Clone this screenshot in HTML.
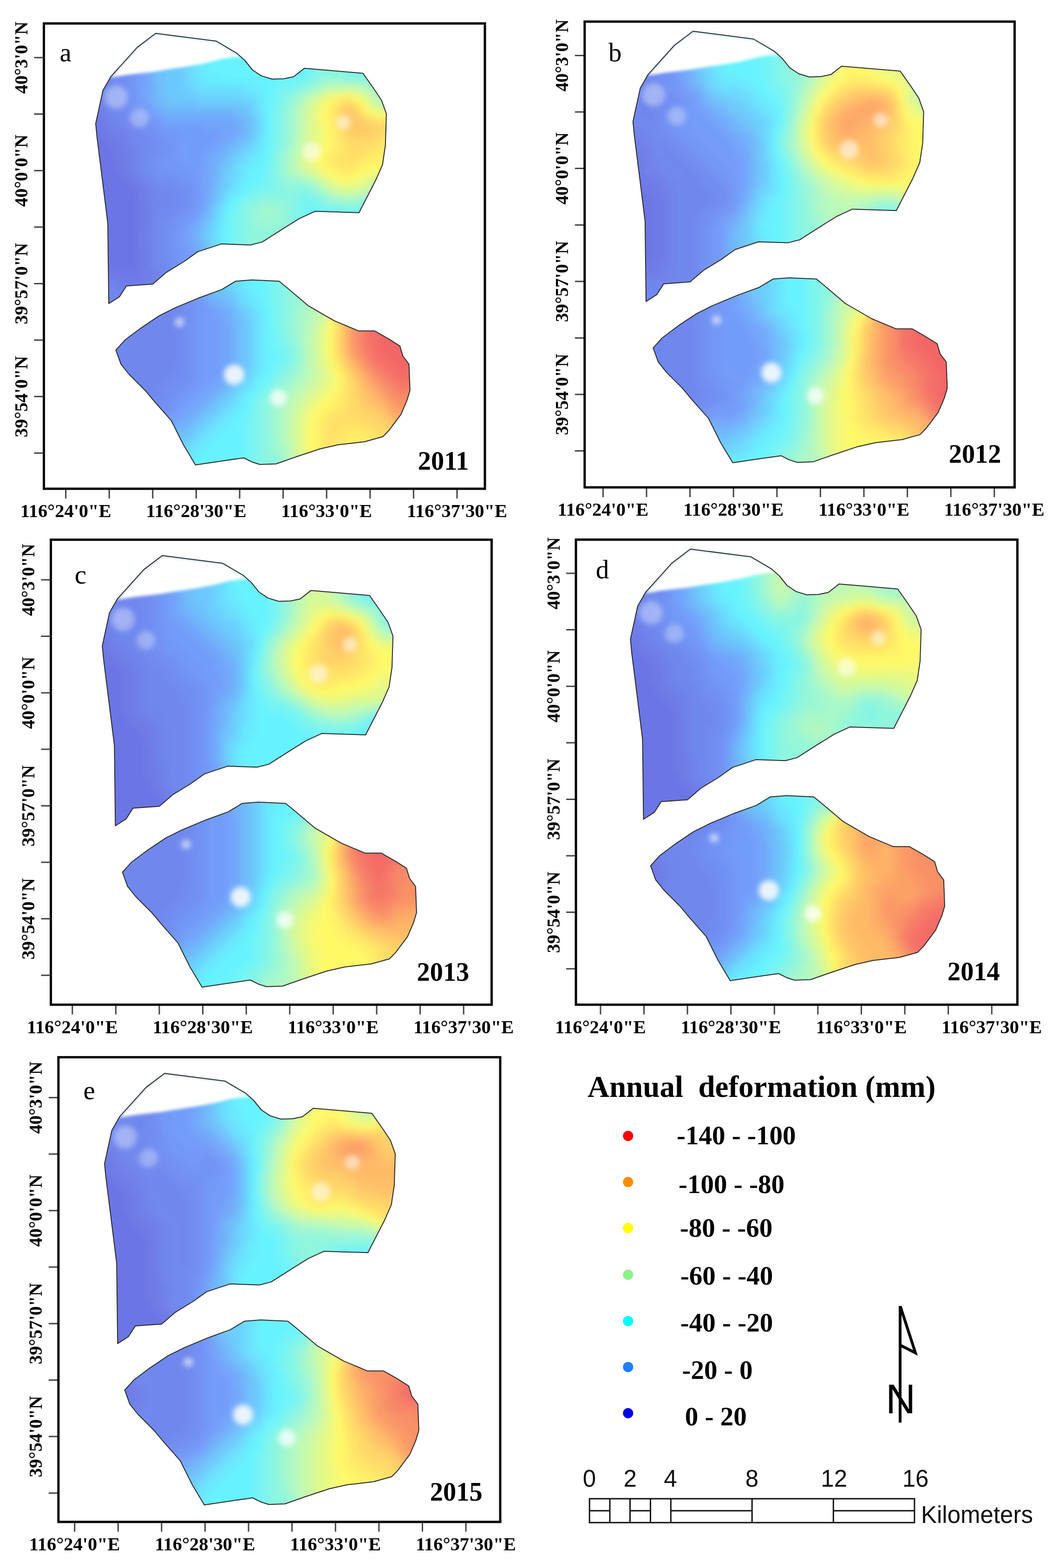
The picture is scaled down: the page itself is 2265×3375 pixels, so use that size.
<!DOCTYPE html><html><head><meta charset="utf-8"><style>html,body{margin:0;padding:0;background:#fff}svg{display:block}</style><style>
.ax{font:bold 40.4px "Liberation Serif",serif;fill:#000}
.ay{font:bold 39.3px "Liberation Serif",serif;fill:#000}
.let{font:57px "Liberation Serif",serif;fill:#000}
.yr{font:bold 56.4px "Liberation Serif",serif;fill:#000}
.lt{font:bold 65px "Liberation Serif",serif;fill:#000}
.lv{font:bold 57px "Liberation Serif",serif;fill:#000}
.sb{font:51px "Liberation Sans",sans-serif;fill:#111}
.na{font:89px "Liberation Sans",sans-serif;fill:#000}
</style></head><body><svg width="2265" height="3375" viewBox="0 0 2265 3375"><rect width="2265" height="3375" fill="#fff"/><defs><filter id="bl" x="-5%" y="-5%" width="110%" height="110%"><feGaussianBlur stdDeviation="7"/></filter><filter id="bl2" x="-50%" y="-50%" width="200%" height="200%"><feGaussianBlur stdDeviation="6"/></filter><filter id="bl3" x="-10%" y="-10%" width="120%" height="120%"><feGaussianBlur stdDeviation="3"/></filter><clipPath id="cn"><polygon points="193.6,-52.2 324.1,-35.4 368.3,-9.3 385.1,5.5 402.0,26.5 420.9,39.1 444.1,46.3 469.3,45.4 490.4,41.2 513.5,23.1 555.6,26.5 639.8,33.7 662.9,66.5 679.8,91.7 690.3,121.2 688.2,188.5 681.9,230.6 667.1,264.3 631.4,333.8 536.7,330.8 503.0,346.4 469.3,367.4 423.0,396.9 397.8,403.2 334.6,401.1 284.1,417.9 254.6,439.0 216.8,462.1 187.3,487.4 130.5,491.6 115.7,514.7 92.6,529.5 90.5,356.9 80.0,272.7 67.3,171.7 64.4,142.2 80.0,70.7 96.8,41.2 153.6,-21.9"/></clipPath><clipPath id="cs"><polygon points="365.9,481.2 400.6,478.6 459.2,481.2 478.7,497.2 522.1,534.1 578.4,566.6 630.5,588.3 665.2,588.3 695.5,605.6 719.4,620.8 725.9,642.5 738.9,659.8 741.1,716.2 734.6,737.9 721.6,768.2 695.5,802.9 682.5,816.0 643.5,826.8 587.1,833.3 548.1,842.0 496.0,859.3 452.7,874.5 418.0,875.8 400.6,870.2 383.3,861.5 331.3,868.9 279.2,876.7 253.2,833.3 227.2,781.3 192.5,742.2 170.8,716.2 136.1,681.5 118.8,659.8 107.9,629.5 127.4,607.8 162.1,581.8 201.2,555.7 235.8,538.4 287.9,516.7 335.6,499.4"/></clipPath></defs><g><g transform="translate(141.6,124.0)"><g clip-path="url(#cn)"><g filter="url(#bl)"><path fill="#6c75e4" d="M36 108h12v12h-12zM36 120h24v12h-24zM36 132h24v12h-24zM36 144h24v12h-24zM36 156h36v12h-36zM36 168h48v12h-48zM36 180h60v12h-60zM36 192h72v12h-72zM36 204h72v12h-72zM48 216h60v12h-60zM48 228h60v12h-60zM48 240h72v12h-72zM48 252h72v12h-72zM48 264h84v12h-84zM48 276h96v12h-96zM48 288h108v12h-108zM48 300h108v12h-108zM60 312h96v12h-96zM60 324h96v12h-96zM60 336h96v12h-96zM60 348h96v12h-96zM60 360h96v12h-96zM60 372h96v12h-96zM60 384h96v12h-96zM60 396h96v12h-96zM60 408h96v12h-96zM60 420h96v12h-96zM60 432h96v12h-96zM60 444h96v12h-96z"/><path fill="#6d79e6" d="M48 96h12v12h-12zM48 108h24v12h-24zM60 120h12v12h-12zM60 132h24v12h-24zM60 144h24v12h-24zM72 156h24v12h-24zM84 168h24v12h-24zM96 180h24v12h-24zM108 192h12v12h-12zM108 204h24v12h-24zM108 216h24v12h-24zM108 228h24v12h-24zM120 240h12v12h-12zM120 252h24v12h-24zM132 264h24v12h-24zM144 276h24v12h-24zM156 288h12v12h-12zM156 300h12v12h-12zM156 312h24v12h-24zM156 324h24v12h-24zM156 336h24v12h-24zM156 348h24v12h-24zM156 360h24v12h-24zM156 372h12v12h-12zM156 384h12v12h-12zM156 396h12v12h-12zM156 408h24v12h-24zM156 420h24v12h-24zM156 432h24v12h-24zM156 444h24v12h-24zM60 456h108v12h-108zM108 468h60v12h-60zM156 480h12v12h-12z"/><path fill="#6d7de8" d="M48 84h12v12h-12zM60 96h12v12h-12zM72 108h12v12h-12zM72 120h12v12h-12zM84 132h12v12h-12zM84 144h12v12h-12zM96 156h12v12h-12zM108 168h24v12h-24zM120 180h12v12h-12zM120 192h24v12h-24zM132 204h12v12h-12zM132 216h12v12h-12zM132 228h12v12h-12zM132 240h12v12h-12zM144 252h12v12h-12zM156 264h12v12h-12zM168 276h12v12h-12zM168 288h12v12h-12zM168 300h12v12h-12zM168 372h12v12h-12zM168 384h12v12h-12zM168 396h12v12h-12zM168 456h24v12h-24zM60 468h48v12h-48zM168 468h24v12h-24zM108 480h48v12h-48zM168 480h12v12h-12zM144 492h36v12h-36zM168 504h12v12h-12z"/><path fill="#6e81ea" d="M48 72h12v12h-12zM60 84h12v12h-12zM72 96h12v12h-12zM84 108h12v12h-12zM84 120h12v12h-12zM96 132h12v12h-12zM96 144h24v12h-24zM108 156h24v12h-24zM132 168h12v12h-12zM132 180h12v12h-12zM144 204h12v12h-12zM144 216h12v12h-12zM144 228h12v12h-12zM144 240h12v12h-12zM156 252h12v12h-12zM168 264h12v12h-12zM180 276h12v12h-12zM180 288h12v12h-12zM180 300h12v12h-12zM180 312h12v12h-12zM180 324h12v12h-12zM180 336h12v12h-12zM180 348h12v12h-12zM180 360h12v12h-12zM180 372h12v12h-12zM180 384h12v12h-12zM180 396h12v12h-12zM180 408h12v12h-12zM180 420h12v12h-12zM180 432h12v12h-12zM180 444h12v12h-12zM192 468h12v12h-12zM60 480h48v12h-48zM180 480h24v12h-24zM108 492h36v12h-36zM180 492h24v12h-24zM144 504h24v12h-24zM180 504h12v12h-12z"/><path fill="#6e85ec" d="M48 60h12v12h-12zM60 72h12v12h-12zM72 84h12v12h-12zM84 96h12v12h-12zM96 108h12v12h-12zM96 120h12v12h-12zM108 132h12v12h-12zM120 144h12v12h-12zM132 156h12v12h-12zM144 168h12v12h-12zM144 180h12v12h-12zM144 192h24v12h-24zM156 204h12v12h-12zM156 216h12v12h-12zM156 228h12v12h-12zM156 240h12v12h-12zM168 252h12v12h-12zM180 264h12v12h-12zM192 276h12v12h-12zM192 288h12v12h-12zM192 300h24v12h-24zM192 312h24v12h-24zM192 324h12v12h-12zM192 336h12v12h-12zM192 348h12v12h-12zM192 360h12v12h-12zM192 372h12v12h-12zM192 384h12v12h-12zM192 396h12v12h-12zM192 408h12v12h-12zM192 420h12v12h-12zM192 432h12v12h-12zM192 444h12v12h-12zM192 456h24v12h-24zM204 468h12v12h-12zM204 480h12v12h-12zM60 492h48v12h-48zM204 492h12v12h-12zM60 504h84v12h-84zM192 504h12v12h-12zM132 516h12v12h-12z"/><path fill="#6f88ee" d="M96 -12h12v12h-12zM84 0h24v12h-24zM72 12h36v12h-36zM72 24h36v12h-36zM60 36h48v12h-48zM60 48h48v12h-48zM60 60h48v12h-48zM72 72h36v12h-36zM84 84h24v12h-24zM96 96h24v12h-24zM108 108h12v12h-12zM108 120h24v12h-24zM120 132h24v12h-24zM132 144h24v12h-24zM144 156h24v12h-24zM156 168h24v12h-24zM156 180h24v12h-24zM168 192h12v12h-12zM168 204h12v12h-12zM168 216h12v12h-12zM168 228h12v12h-12zM168 240h12v12h-12zM180 252h12v12h-12zM192 264h12v12h-12zM204 276h24v12h-24zM204 288h36v12h-36zM216 300h24v12h-24zM216 312h24v12h-24zM204 324h24v12h-24zM204 336h24v12h-24zM204 348h12v12h-12zM204 360h12v12h-12zM204 372h12v12h-12zM204 384h12v12h-12zM204 396h12v12h-12zM204 408h12v12h-12zM204 420h12v12h-12zM204 432h12v12h-12zM204 444h24v12h-24zM216 456h12v12h-12zM216 468h24v12h-24zM216 480h24v12h-24zM60 516h72v12h-72zM60 528h84v12h-84zM72 540h48v12h-48zM84 552h12v12h-12z"/><path fill="#708cf1" d="M120 -36h12v12h-12zM108 -24h24v12h-24zM108 -12h24v12h-24zM108 0h24v12h-24zM108 12h24v12h-24zM108 24h24v12h-24zM108 36h24v12h-24zM108 48h24v12h-24zM108 60h24v12h-24zM108 72h24v12h-24zM108 84h24v12h-24zM120 96h12v12h-12zM120 108h24v12h-24zM132 120h12v12h-12zM144 132h24v12h-24zM156 144h12v12h-12zM168 156h12v12h-12zM180 168h12v12h-12zM180 180h24v12h-24zM180 192h24v12h-24zM180 204h12v12h-12zM180 216h12v12h-12zM180 228h12v12h-12zM180 240h12v12h-12zM192 252h12v12h-12zM204 264h36v12h-36zM228 276h24v12h-24zM240 288h24v12h-24zM240 300h24v12h-24zM240 312h24v12h-24zM228 324h24v12h-24zM228 336h12v12h-12zM216 348h12v12h-12zM216 360h12v12h-12zM216 372h12v12h-12zM216 384h12v12h-12zM216 396h12v12h-12zM216 408h12v12h-12zM216 420h12v12h-12zM216 432h12v12h-12zM228 444h12v12h-12zM228 456h24v12h-24zM240 468h12v12h-12z"/><path fill="#7090f3" d="M132 -48h12v12h-12zM132 -36h12v12h-12zM132 -24h12v12h-12zM132 -12h12v12h-12zM132 0h12v12h-12zM132 12h12v12h-12zM132 24h12v12h-12zM132 36h12v12h-12zM132 48h12v12h-12zM132 60h12v12h-12zM132 72h12v12h-12zM132 84h12v12h-12zM132 96h12v12h-12zM144 108h12v12h-12zM144 120h24v12h-24zM168 132h12v12h-12zM168 144h24v12h-24zM180 156h24v12h-24zM192 168h24v12h-24zM204 180h12v12h-12zM204 192h12v12h-12zM192 204h24v12h-24zM192 216h12v12h-12zM192 228h12v12h-12zM192 240h12v12h-12zM204 252h36v12h-36zM240 264h24v12h-24zM252 276h24v12h-24zM264 288h12v12h-12zM264 300h12v12h-12zM264 312h12v12h-12zM252 324h12v12h-12zM240 336h12v12h-12zM228 348h12v12h-12zM228 360h12v12h-12zM228 408h12v12h-12zM228 420h12v12h-12zM228 432h12v12h-12zM240 444h12v12h-12z"/><path fill="#7194f5" d="M144 84h12v12h-12zM144 96h12v12h-12zM156 108h12v12h-12zM168 120h12v12h-12zM180 132h12v12h-12zM192 144h12v12h-12zM204 156h12v12h-12zM216 168h12v12h-12zM216 180h24v12h-24zM216 192h24v12h-24zM216 204h12v12h-12zM204 216h24v12h-24zM204 228h12v12h-12zM204 240h48v12h-48zM240 252h36v12h-36zM264 264h12v12h-12zM276 288h12v12h-12zM264 324h12v12h-12zM252 336h12v12h-12zM240 348h12v12h-12zM240 360h12v12h-12zM228 372h12v12h-12zM228 384h12v12h-12zM228 396h12v12h-12zM240 420h12v12h-12zM240 432h12v12h-12zM252 444h12v12h-12zM252 456h24v12h-24z"/><path fill="#7198f7" d="M144 -60h12v12h-12zM144 -48h12v12h-12zM144 -36h12v12h-12zM144 -24h12v12h-12zM144 -12h12v12h-12zM144 0h12v12h-12zM144 12h12v12h-12zM144 24h12v12h-12zM144 36h12v12h-12zM144 48h12v12h-12zM144 60h12v12h-12zM144 72h12v12h-12zM156 96h12v12h-12zM168 108h12v12h-12zM180 120h12v12h-12zM192 132h12v12h-12zM204 144h12v12h-12zM216 156h24v12h-24zM228 168h24v12h-24zM240 180h12v12h-12zM240 192h12v12h-12zM228 204h24v12h-24zM228 216h24v12h-24zM216 228h48v12h-48zM252 240h24v12h-24zM276 252h12v12h-12zM276 264h12v12h-12zM276 276h12v12h-12zM276 300h12v12h-12zM276 312h12v12h-12zM276 324h12v12h-12zM264 336h12v12h-12zM252 348h12v12h-12zM252 360h12v12h-12zM240 372h12v12h-12zM240 384h12v12h-12zM240 396h12v12h-12zM240 408h24v12h-24zM252 420h12v12h-12zM252 432h12v12h-12zM264 444h12v12h-12z"/><path fill="#729cf9" d="M156 -60h12v12h-12zM156 -48h12v12h-12zM156 -36h12v12h-12zM156 -24h12v12h-12zM156 -12h12v12h-12zM156 0h12v12h-12zM156 12h12v12h-12zM156 24h12v12h-12zM156 36h12v12h-12zM156 48h12v12h-12zM156 60h12v12h-12zM156 72h12v12h-12zM156 84h12v12h-12zM168 96h12v12h-12zM192 120h12v12h-12zM204 132h12v12h-12zM216 144h84v12h-84zM240 156h96v12h-96zM252 168h84v12h-84zM252 180h72v12h-72zM252 192h60v12h-60zM252 204h48v12h-48zM252 216h48v12h-48zM264 228h36v12h-36zM276 240h24v12h-24zM288 252h12v12h-12zM288 264h12v12h-12zM288 276h12v12h-12zM288 288h12v12h-12zM288 300h12v12h-12zM288 312h12v12h-12zM276 336h12v12h-12zM264 348h12v12h-12zM252 372h12v12h-12zM252 384h12v12h-12zM252 396h12v12h-12zM264 408h12v12h-12zM264 420h24v12h-24zM264 432h24v12h-24zM276 444h12v12h-12z"/><path fill="#71a5fa" d="M168 -72h12v12h-12zM168 -60h12v12h-12zM168 -48h12v12h-12zM168 -36h12v12h-12zM168 -24h12v12h-12zM168 -12h12v12h-12zM168 0h12v12h-12zM168 12h12v12h-12zM168 24h12v12h-12zM168 36h12v12h-12zM168 48h12v12h-12zM168 60h12v12h-12zM168 72h12v12h-12zM168 84h12v12h-12zM180 96h12v12h-12zM180 108h12v12h-12zM204 120h12v12h-12zM216 132h144v12h-144zM300 144h72v12h-72zM336 156h36v12h-36zM336 168h24v12h-24zM324 180h24v12h-24zM312 192h24v12h-24zM300 204h24v12h-24zM300 216h12v12h-12zM300 228h12v12h-12zM300 240h12v12h-12zM300 252h12v12h-12zM300 264h12v12h-12zM300 276h12v12h-12zM300 288h12v12h-12zM288 324h12v12h-12zM276 348h12v12h-12zM264 360h12v12h-12zM264 372h12v12h-12zM264 384h12v12h-12zM264 396h12v12h-12zM276 408h12v12h-12zM288 420h12v12h-12zM288 432h12v12h-12z"/><path fill="#70adfa" d="M180 -84h12v12h-12zM180 -72h12v12h-12zM180 -60h12v12h-12zM180 -48h12v12h-12zM180 -36h12v12h-12zM180 -24h12v12h-12zM180 -12h12v12h-12zM180 0h12v12h-12zM180 12h12v12h-12zM180 24h12v12h-12zM180 36h12v12h-12zM180 48h12v12h-12zM180 60h12v12h-12zM180 72h12v12h-12zM180 84h12v12h-12zM192 108h24v12h-24zM216 120h156v12h-156zM360 132h24v12h-24zM372 144h12v12h-12zM372 156h12v12h-12zM360 168h12v12h-12zM348 180h12v12h-12zM336 192h12v12h-12zM324 204h12v12h-12zM312 216h24v12h-24zM312 228h12v12h-12zM312 240h12v12h-12zM312 252h12v12h-12zM312 264h12v12h-12zM312 276h12v12h-12zM300 300h12v12h-12zM300 312h12v12h-12zM288 336h12v12h-12zM276 360h12v12h-12zM276 372h12v12h-12zM276 384h12v12h-12zM276 396h12v12h-12zM288 408h12v12h-12zM300 432h12v12h-12z"/><path fill="#6eb6fb" d="M192 60h12v12h-12zM192 72h12v12h-12zM192 84h12v12h-12zM192 96h24v12h-24zM216 108h144v12h-144zM372 120h12v12h-12zM384 132h12v12h-12zM384 144h12v12h-12zM384 156h12v12h-12zM372 168h12v12h-12zM360 180h12v12h-12zM348 192h12v12h-12zM336 204h12v12h-12zM336 216h12v12h-12zM324 228h12v12h-12zM324 240h12v12h-12zM324 252h12v12h-12zM312 288h12v12h-12zM312 300h12v12h-12zM300 324h12v12h-12zM300 336h12v12h-12zM288 348h12v12h-12zM288 360h12v12h-12zM288 396h12v12h-12zM300 420h12v12h-12z"/><path fill="#6dbffb" d="M192 -84h24v12h-24zM192 -72h24v12h-24zM192 -60h24v12h-24zM192 -48h24v12h-24zM192 -36h24v12h-24zM192 -24h24v12h-24zM192 -12h24v12h-24zM192 0h24v12h-24zM192 12h24v12h-24zM192 24h24v12h-24zM192 36h24v12h-24zM192 48h24v12h-24zM204 60h12v12h-12zM204 72h12v12h-12zM204 84h24v12h-24zM216 96h72v12h-72zM360 108h36v12h-36zM384 120h12v12h-12zM396 132h12v12h-12zM396 144h12v12h-12zM384 168h12v12h-12zM372 180h12v12h-12zM360 192h12v12h-12zM348 204h12v12h-12zM336 228h12v12h-12zM324 264h12v12h-12zM324 276h12v12h-12zM312 312h12v12h-12zM300 348h12v12h-12zM288 372h12v12h-12zM288 384h12v12h-12zM300 408h12v12h-12zM312 432h12v12h-12z"/><path fill="#6cc8fc" d="M216 -84h12v12h-12zM216 -72h36v12h-36zM216 -60h36v12h-36zM216 -48h36v12h-36zM216 -36h36v12h-36zM216 -24h36v12h-36zM216 -12h36v12h-36zM216 0h36v12h-36zM216 12h36v12h-36zM216 24h36v12h-36zM216 36h36v12h-36zM216 48h36v12h-36zM216 60h36v12h-36zM216 72h48v12h-48zM228 84h60v12h-60zM288 96h108v12h-108zM396 120h12v12h-12zM396 156h12v12h-12zM396 168h12v12h-12zM384 180h12v12h-12zM372 192h12v12h-12zM360 204h12v12h-12zM348 216h12v12h-12zM348 228h12v12h-12zM336 240h12v12h-12zM336 252h12v12h-12zM336 264h12v12h-12zM336 276h12v12h-12zM324 288h12v12h-12zM324 300h12v12h-12zM312 324h12v12h-12zM312 336h12v12h-12zM300 360h12v12h-12zM300 372h12v12h-12zM300 384h12v12h-12zM300 396h12v12h-12zM312 420h12v12h-12z"/><path fill="#6bd0fd" d="M252 -72h12v12h-12zM252 -60h12v12h-12zM252 -48h12v12h-12zM252 -36h12v12h-12zM252 -24h12v12h-12zM252 -12h12v12h-12zM252 0h12v12h-12zM252 12h12v12h-12zM252 24h12v12h-12zM252 36h12v12h-12zM252 48h12v12h-12zM252 60h24v12h-24zM264 72h24v12h-24zM288 84h96v12h-96zM396 96h12v12h-12zM396 108h12v12h-12zM408 132h12v12h-12zM408 144h12v12h-12zM396 180h12v12h-12zM384 192h12v12h-12zM372 204h12v12h-12zM360 216h12v12h-12zM348 240h12v12h-12zM348 252h12v12h-12zM348 264h12v12h-12zM336 288h12v12h-12zM324 312h12v12h-12zM312 348h12v12h-12zM312 360h12v12h-12zM312 408h12v12h-12z"/><path fill="#6ad9fd" d="M264 -72h12v12h-12zM264 -60h12v12h-12zM264 -48h12v12h-12zM264 -36h12v12h-12zM264 -24h12v12h-12zM264 -12h12v12h-12zM264 0h12v12h-12zM264 12h12v12h-12zM264 24h12v12h-12zM264 36h12v12h-12zM264 48h24v12h-24zM276 60h12v12h-12zM288 72h96v12h-96zM384 84h24v12h-24zM408 108h12v12h-12zM408 120h12v12h-12zM408 156h12v12h-12zM408 168h12v12h-12zM396 192h12v12h-12zM384 204h12v12h-12zM372 216h12v12h-12zM360 228h12v12h-12zM360 240h12v12h-12zM360 252h12v12h-12zM348 276h12v12h-12zM336 300h12v12h-12zM324 324h12v12h-12zM324 336h12v12h-12zM312 372h12v12h-12zM312 384h12v12h-12zM312 396h12v12h-12z"/><path fill="#68e2fe" d="M276 -72h12v12h-12zM276 -60h12v12h-12zM276 -48h12v12h-12zM276 -36h12v12h-12zM276 -24h12v12h-12zM276 -12h12v12h-12zM276 0h12v12h-12zM276 12h12v12h-12zM276 24h12v12h-12zM276 36h12v12h-12zM288 48h12v12h-12zM288 60h96v12h-96zM384 72h24v12h-24zM408 84h12v12h-12zM408 96h12v12h-12zM420 120h12v12h-12zM420 132h12v12h-12zM420 144h12v12h-12zM420 156h12v12h-12zM408 180h12v12h-12zM408 192h12v12h-12zM396 204h12v12h-12zM384 216h12v12h-12zM372 228h12v12h-12zM372 240h12v12h-12zM372 252h12v12h-12zM360 264h12v12h-12zM360 276h12v12h-12zM348 288h12v12h-12zM336 312h12v12h-12zM324 348h12v12h-12zM324 360h12v12h-12zM324 372h12v12h-12zM324 384h12v12h-12zM324 396h12v12h-12zM324 408h12v12h-12zM324 420h12v12h-12z"/><path fill="#67eafe" d="M288 -72h12v12h-12zM288 -60h12v12h-12zM288 -48h12v12h-12zM288 -36h12v12h-12zM288 -24h12v12h-12zM288 -12h12v12h-12zM288 0h24v12h-24zM288 12h24v12h-24zM288 24h24v12h-24zM288 36h48v12h-48zM300 48h108v12h-108zM384 60h36v12h-36zM408 72h24v12h-24zM420 84h12v12h-12zM420 96h12v12h-12zM420 108h12v12h-12zM420 168h12v12h-12zM420 180h12v12h-12zM420 192h12v12h-12zM408 204h12v12h-12zM396 216h24v12h-24zM384 228h24v12h-24zM384 240h12v12h-12zM384 252h12v12h-12zM372 264h12v12h-12zM372 276h12v12h-12zM360 288h12v12h-12zM348 300h12v12h-12zM336 324h12v12h-12zM336 336h12v12h-12zM336 348h12v12h-12z"/><path fill="#66f3ff" d="M300 -72h24v12h-24zM300 -60h48v12h-48zM300 -48h72v12h-72zM300 -36h96v12h-96zM300 -24h108v12h-108zM300 -12h120v12h-120zM504 -12h12v12h-12zM312 0h108v12h-108zM492 0h24v12h-24zM312 12h204v12h-204zM312 24h192v12h-192zM336 36h144v12h-144zM408 48h48v12h-48zM420 60h24v12h-24zM432 72h12v12h-12zM432 84h12v12h-12zM432 96h12v12h-12zM432 108h12v12h-12zM432 120h12v12h-12zM432 132h12v12h-12zM432 144h12v12h-12zM432 156h12v12h-12zM432 168h12v12h-12zM432 180h12v12h-12zM420 204h12v12h-12zM420 216h12v12h-12zM408 228h24v12h-24zM396 240h24v12h-24zM396 252h24v12h-24zM384 264h24v12h-24zM384 276h12v12h-12zM372 288h12v12h-12zM360 300h12v12h-12zM348 312h12v12h-12zM348 324h12v12h-12zM540 348h48v12h-48zM624 348h24v12h-24zM336 360h12v12h-12zM336 372h12v12h-12zM336 384h12v12h-12zM336 396h12v12h-12zM336 408h12v12h-12zM336 420h12v12h-12z"/><path fill="#6ef4f8" d="M516 -12h12v12h-12zM516 0h24v12h-24zM612 0h36v12h-36zM516 12h12v12h-12zM612 12h48v12h-48zM504 24h24v12h-24zM480 36h36v12h-36zM456 48h36v12h-36zM444 60h24v12h-24zM444 72h12v12h-12zM444 84h12v12h-12zM444 96h12v12h-12zM432 192h12v12h-12zM432 204h12v12h-12zM432 216h12v12h-12zM420 240h12v12h-12zM420 252h12v12h-12zM408 264h24v12h-24zM396 276h24v12h-24zM384 288h12v12h-12zM372 300h12v12h-12zM360 312h12v12h-12zM516 324h48v12h-48zM348 336h12v12h-12zM516 336h144v12h-144zM348 348h12v12h-12zM516 348h24v12h-24zM588 348h36v12h-36zM348 360h12v12h-12zM516 360h12v12h-12zM348 372h12v12h-12zM348 384h12v12h-12zM348 396h12v12h-12zM348 408h12v12h-12zM348 420h12v12h-12z"/><path fill="#77f4f1" d="M540 0h12v12h-12zM600 0h12v12h-12zM528 12h12v12h-12zM600 12h12v12h-12zM528 24h12v12h-12zM612 24h60v12h-60zM516 36h12v12h-12zM492 48h24v12h-24zM468 60h24v12h-24zM456 72h12v12h-12zM456 84h12v12h-12zM444 108h12v12h-12zM444 120h12v12h-12zM444 132h12v12h-12zM444 144h12v12h-12zM444 156h12v12h-12zM444 168h12v12h-12zM444 180h12v12h-12zM444 192h12v12h-12zM432 228h12v12h-12zM432 240h12v12h-12zM432 252h12v12h-12zM432 264h12v12h-12zM420 276h24v12h-24zM396 288h12v12h-12zM504 300h36v12h-36zM372 312h12v12h-12zM504 312h48v12h-48zM360 324h12v12h-12zM504 324h12v12h-12zM564 324h108v12h-108zM360 336h12v12h-12zM504 336h12v12h-12zM360 348h12v12h-12zM504 348h12v12h-12zM360 360h12v12h-12zM504 360h12v12h-12zM360 372h12v12h-12zM360 384h12v12h-12zM360 396h12v12h-12zM360 408h12v12h-12zM360 420h12v12h-12z"/><path fill="#7ff5ea" d="M552 0h12v12h-12zM576 0h24v12h-24zM540 12h24v12h-24zM588 12h12v12h-12zM540 24h12v12h-12zM600 24h12v12h-12zM528 36h12v12h-12zM516 48h12v12h-12zM492 60h12v12h-12zM468 72h12v12h-12zM456 96h12v12h-12zM456 108h12v12h-12zM456 120h12v12h-12zM456 132h12v12h-12zM456 144h12v12h-12zM456 156h12v12h-12zM456 168h12v12h-12zM444 204h12v12h-12zM444 216h12v12h-12zM444 228h12v12h-12zM444 240h12v12h-12zM444 252h12v12h-12zM444 264h12v12h-12zM444 276h12v12h-12zM408 288h24v12h-24zM504 288h24v12h-24zM384 300h24v12h-24zM492 300h12v12h-12zM492 312h12v12h-12zM552 312h12v12h-12zM648 312h24v12h-24zM372 324h12v12h-12zM492 324h12v12h-12zM372 336h12v12h-12zM492 336h12v12h-12zM372 348h12v12h-12zM492 348h12v12h-12zM372 360h12v12h-12zM492 360h12v12h-12zM372 372h12v12h-12zM372 384h12v12h-12zM372 396h12v12h-12zM372 408h12v12h-12zM372 420h12v12h-12z"/><path fill="#88f5e3" d="M564 0h12v12h-12zM564 12h24v12h-24zM552 24h48v12h-48zM540 36h12v12h-12zM600 36h84v12h-84zM528 48h12v12h-12zM504 60h12v12h-12zM480 72h12v12h-12zM468 84h12v12h-12zM468 96h12v12h-12zM456 180h12v12h-12zM456 192h12v12h-12zM456 252h12v12h-12zM456 264h12v12h-12zM456 276h24v12h-24zM492 276h24v12h-24zM432 288h72v12h-72zM528 288h12v12h-12zM408 300h12v12h-12zM480 300h12v12h-12zM540 300h12v12h-12zM384 312h12v12h-12zM480 312h12v12h-12zM564 312h36v12h-36zM624 312h24v12h-24zM384 324h12v12h-12zM480 324h12v12h-12zM384 336h12v12h-12zM480 336h12v12h-12zM384 348h12v12h-12zM480 348h12v12h-12zM384 360h12v12h-12zM384 372h12v12h-12zM492 372h12v12h-12zM384 384h12v12h-12zM384 396h12v12h-12zM384 408h12v12h-12zM384 420h12v12h-12z"/><path fill="#90f6dc" d="M552 36h48v12h-48zM540 48h12v12h-12zM684 48h12v12h-12zM516 60h12v12h-12zM492 72h12v12h-12zM480 84h12v12h-12zM468 108h12v12h-12zM468 120h12v12h-12zM468 132h12v12h-12zM468 144h12v12h-12zM468 156h12v12h-12zM468 168h12v12h-12zM468 180h12v12h-12zM456 204h12v12h-12zM456 216h12v12h-12zM456 228h12v12h-12zM456 240h12v12h-12zM468 264h12v12h-12zM480 276h12v12h-12zM516 276h12v12h-12zM540 288h12v12h-12zM420 300h60v12h-60zM552 300h12v12h-12zM660 300h24v12h-24zM396 312h24v12h-24zM468 312h12v12h-12zM600 312h24v12h-24zM396 324h12v12h-12zM468 324h12v12h-12zM396 336h12v12h-12zM468 336h12v12h-12zM396 348h12v12h-12zM468 348h12v12h-12zM396 360h24v12h-24zM468 360h24v12h-24zM396 372h96v12h-96zM396 384h96v12h-96zM396 396h72v12h-72zM396 408h60v12h-60zM396 420h36v12h-36z"/><path fill="#98f7d6" d="M636 48h48v12h-48zM684 60h12v12h-12zM480 96h12v12h-12zM480 108h12v12h-12zM468 192h12v12h-12zM468 252h12v12h-12zM480 264h36v12h-36zM528 276h12v12h-12zM564 300h12v12h-12zM648 300h12v12h-12zM420 312h48v12h-48zM408 324h12v12h-12zM456 324h12v12h-12zM408 336h12v12h-12zM456 336h12v12h-12zM408 348h60v12h-60zM420 360h48v12h-48z"/><path fill="#a1f7cf" d="M552 48h12v12h-12zM600 48h36v12h-36zM528 60h12v12h-12zM672 60h12v12h-12zM504 72h12v12h-12zM684 72h24v12h-24zM492 84h12v12h-12zM480 120h12v12h-12zM480 132h12v12h-12zM480 144h12v12h-12zM480 156h12v12h-12zM480 168h12v12h-12zM480 180h12v12h-12zM468 204h12v12h-12zM468 216h12v12h-12zM468 228h12v12h-12zM468 240h12v12h-12zM480 252h12v12h-12zM516 264h12v12h-12zM552 288h12v12h-12zM576 300h12v12h-12zM624 300h24v12h-24zM420 324h36v12h-36zM420 336h36v12h-36z"/><path fill="#a9f8c8" d="M564 48h36v12h-36zM540 60h12v12h-12zM660 60h12v12h-12zM516 72h12v12h-12zM672 72h12v12h-12zM696 84h12v12h-12zM492 96h12v12h-12zM480 192h12v12h-12zM492 252h12v12h-12zM528 264h12v12h-12zM540 276h12v12h-12zM660 288h24v12h-24zM588 300h36v12h-36z"/><path fill="#b2f8c1" d="M648 60h12v12h-12zM660 72h12v12h-12zM504 84h12v12h-12zM672 84h24v12h-24zM492 108h12v12h-12zM492 120h12v12h-12zM492 132h12v12h-12zM492 144h12v12h-12zM492 156h12v12h-12zM492 168h12v12h-12zM480 204h12v12h-12zM480 216h12v12h-12zM480 228h12v12h-12zM480 240h12v12h-12zM504 252h12v12h-12zM564 288h12v12h-12zM648 288h12v12h-12z"/><path fill="#baf9ba" d="M552 60h12v12h-12zM636 60h12v12h-12zM528 72h12v12h-12zM504 96h12v12h-12zM492 180h12v12h-12zM492 192h12v12h-12zM492 240h12v12h-12zM516 252h12v12h-12zM552 276h12v12h-12zM636 288h12v12h-12z"/><path fill="#c1f9b2" d="M564 60h24v12h-24zM624 60h12v12h-12zM648 72h12v12h-12zM516 84h12v12h-12zM660 84h12v12h-12zM684 96h36v12h-36zM504 108h12v12h-12zM504 120h12v12h-12zM504 132h12v12h-12zM492 204h12v12h-12zM492 228h12v12h-12zM540 264h12v12h-12zM660 276h36v12h-36zM576 288h24v12h-24zM624 288h12v12h-12z"/><path fill="#c8f9a9" d="M588 60h36v12h-36zM540 72h12v12h-12zM672 96h12v12h-12zM504 144h12v12h-12zM504 156h12v12h-12zM504 168h12v12h-12zM504 180h12v12h-12zM492 216h12v12h-12zM504 240h12v12h-12zM528 252h12v12h-12zM564 276h12v12h-12zM648 276h12v12h-12zM600 288h24v12h-24z"/><path fill="#cff9a1" d="M528 84h12v12h-12zM516 96h12v12h-12zM660 96h12v12h-12zM516 108h12v12h-12zM504 192h12v12h-12zM516 240h12v12h-12zM552 264h12v12h-12zM636 276h12v12h-12z"/><path fill="#d6f998" d="M552 72h12v12h-12zM636 72h12v12h-12zM648 84h12v12h-12zM516 120h12v12h-12zM516 132h12v12h-12zM516 144h12v12h-12zM516 156h12v12h-12zM516 168h12v12h-12zM516 180h12v12h-12zM504 204h12v12h-12zM504 216h12v12h-12zM504 228h12v12h-12zM540 252h12v12h-12zM648 264h48v12h-48zM576 276h12v12h-12zM624 276h12v12h-12z"/><path fill="#dcf990" d="M564 72h12v12h-12zM540 84h12v12h-12zM528 96h12v12h-12zM684 108h36v12h-36zM516 192h12v12h-12zM516 228h12v12h-12zM528 240h12v12h-12zM564 264h12v12h-12zM588 276h36v12h-36z"/><path fill="#e3f988" d="M576 72h12v12h-12zM624 72h12v12h-12zM648 96h12v12h-12zM528 108h12v12h-12zM672 108h12v12h-12zM528 120h12v12h-12zM528 132h12v12h-12zM528 144h12v12h-12zM528 156h12v12h-12zM528 168h12v12h-12zM528 180h12v12h-12zM516 204h12v12h-12zM516 216h12v12h-12zM552 252h12v12h-12zM660 252h24v12h-24zM636 264h12v12h-12z"/><path fill="#eaf97f" d="M588 72h12v12h-12zM612 72h12v12h-12zM552 84h12v12h-12zM636 84h12v12h-12zM540 96h12v12h-12zM660 108h12v12h-12zM540 144h12v12h-12zM540 156h12v12h-12zM540 168h12v12h-12zM528 192h12v12h-12zM528 228h12v12h-12zM540 240h12v12h-12zM648 252h12v12h-12zM684 252h12v12h-12zM576 264h12v12h-12zM624 264h12v12h-12z"/><path fill="#f1f977" d="M600 72h12v12h-12zM540 108h12v12h-12zM540 120h12v12h-12zM540 132h12v12h-12zM540 180h12v12h-12zM540 192h12v12h-12zM528 204h12v12h-12zM528 216h12v12h-12zM660 240h24v12h-24zM564 252h12v12h-12zM636 252h12v12h-12zM696 252h12v12h-12zM588 264h36v12h-36z"/><path fill="#f8f96e" d="M564 84h12v12h-12zM552 96h12v12h-12zM648 108h12v12h-12zM552 144h12v12h-12zM552 156h12v12h-12zM552 168h12v12h-12zM552 180h12v12h-12zM540 204h12v12h-12zM540 228h12v12h-12zM552 240h12v12h-12zM648 240h12v12h-12zM684 240h24v12h-24zM576 252h12v12h-12zM624 252h12v12h-12z"/><path fill="#fff966" d="M624 84h12v12h-12zM636 96h12v12h-12zM552 108h12v12h-12zM552 120h12v12h-12zM684 120h36v12h-36zM552 132h12v12h-12zM564 168h12v12h-12zM552 192h12v12h-12zM708 204h12v12h-12zM540 216h12v12h-12zM684 216h24v12h-24zM660 228h48v12h-48zM564 240h12v12h-12zM636 240h12v12h-12zM588 252h12v12h-12zM612 252h12v12h-12z"/><path fill="#fff366" d="M576 84h12v12h-12zM564 96h12v12h-12zM660 120h24v12h-24zM564 132h12v12h-12zM564 144h12v12h-12zM564 156h12v12h-12zM708 168h12v12h-12zM564 180h12v12h-12zM696 180h24v12h-24zM564 192h12v12h-12zM696 192h24v12h-24zM552 204h12v12h-12zM684 204h24v12h-24zM552 216h12v12h-12zM660 216h24v12h-24zM552 228h12v12h-12zM636 228h24v12h-24zM576 240h12v12h-12zM624 240h12v12h-12zM600 252h12v12h-12z"/><path fill="#ffec66" d="M588 84h12v12h-12zM612 84h12v12h-12zM564 108h12v12h-12zM636 108h12v12h-12zM564 120h12v12h-12zM708 132h12v12h-12zM708 144h12v12h-12zM576 156h12v12h-12zM708 156h12v12h-12zM576 168h12v12h-12zM696 168h12v12h-12zM576 180h12v12h-12zM684 180h12v12h-12zM576 192h12v12h-12zM684 192h12v12h-12zM564 204h12v12h-12zM660 204h24v12h-24zM564 216h12v12h-12zM648 216h12v12h-12zM564 228h12v12h-12zM624 228h12v12h-12zM588 240h36v12h-36z"/><path fill="#ffe666" d="M600 84h12v12h-12zM576 96h12v12h-12zM624 96h12v12h-12zM648 120h12v12h-12zM576 132h12v12h-12zM696 132h12v12h-12zM576 144h12v12h-12zM696 156h12v12h-12zM684 168h12v12h-12zM588 180h12v12h-12zM588 192h12v12h-12zM660 192h24v12h-24zM576 204h24v12h-24zM648 204h12v12h-12zM576 216h12v12h-12zM624 216h24v12h-24zM576 228h48v12h-48z"/><path fill="#ffe066" d="M576 108h12v12h-12zM576 120h12v12h-12zM672 132h24v12h-24zM696 144h12v12h-12zM588 156h12v12h-12zM684 156h12v12h-12zM588 168h12v12h-12zM600 180h12v12h-12zM660 180h24v12h-24zM600 192h12v12h-12zM636 192h24v12h-24zM600 204h48v12h-48zM588 216h36v12h-36z"/><path fill="#ffda66" d="M588 96h12v12h-12zM624 108h12v12h-12zM636 120h12v12h-12zM660 132h12v12h-12zM588 144h12v12h-12zM684 144h12v12h-12zM600 168h12v12h-12zM660 168h24v12h-24zM612 180h48v12h-48zM612 192h24v12h-24z"/><path fill="#ffd366" d="M600 96h24v12h-24zM588 108h12v12h-12zM588 120h12v12h-12zM588 132h12v12h-12zM648 132h12v12h-12zM660 144h24v12h-24zM600 156h12v12h-12zM660 156h24v12h-24zM612 168h48v12h-48z"/><path fill="#ffcd66" d="M612 108h12v12h-12zM624 120h12v12h-12zM600 132h12v12h-12zM636 132h12v12h-12zM600 144h12v12h-12zM648 144h12v12h-12zM612 156h48v12h-48z"/><path fill="#ffc766" d="M600 108h12v12h-12zM600 120h24v12h-24zM612 132h24v12h-24zM612 144h36v12h-36z"/></g></g><g clip-path="url(#cs)"><g filter="url(#bl)"><path fill="#6f88ee" d="M228 504h24v12h-24zM204 516h48v12h-48zM180 528h72v12h-72zM156 540h96v12h-96zM144 552h108v12h-108zM132 564h120v12h-120zM108 576h144v12h-144zM96 588h156v12h-156zM84 600h168v12h-168zM84 612h168v12h-168zM72 624h180v12h-180zM84 636h168v12h-168zM84 648h168v12h-168zM84 660h156v12h-156zM96 672h144v12h-144zM108 684h120v12h-120zM120 696h96v12h-96zM132 708h72v12h-72zM144 720h60v12h-60zM144 732h48v12h-48zM156 744h36v12h-36zM168 756h12v12h-12z"/><path fill="#708cf1" d="M252 492h12v12h-12zM252 504h12v12h-12zM252 516h12v12h-12zM252 528h12v12h-12zM252 540h12v12h-12zM252 552h12v12h-12zM252 564h12v12h-12zM252 576h12v12h-12zM252 588h12v12h-12zM252 600h12v12h-12zM252 612h12v12h-12zM252 624h12v12h-12zM252 636h12v12h-12zM252 648h12v12h-12zM240 660h24v12h-24zM240 672h24v12h-24zM228 684h24v12h-24zM216 696h24v12h-24zM204 708h24v12h-24zM204 720h24v12h-24zM192 732h24v12h-24zM192 744h24v12h-24zM180 756h24v12h-24zM180 768h12v12h-12z"/><path fill="#7090f3" d="M264 504h12v12h-12zM264 516h12v12h-12zM264 528h12v12h-12zM264 540h12v12h-12zM264 552h12v12h-12zM264 564h12v12h-12zM264 576h12v12h-12zM264 588h12v12h-12zM264 600h12v12h-12zM264 612h12v12h-12zM264 624h12v12h-12zM264 636h12v12h-12zM264 648h12v12h-12zM264 660h12v12h-12zM264 672h12v12h-12zM252 684h24v12h-24zM240 696h24v12h-24zM228 708h24v12h-24zM228 720h12v12h-12zM216 732h12v12h-12zM216 744h12v12h-12zM204 756h12v12h-12zM192 768h12v12h-12z"/><path fill="#7194f5" d="M264 492h12v12h-12zM276 516h12v12h-12zM276 528h12v12h-12zM276 540h12v12h-12zM276 552h12v12h-12zM276 564h12v12h-12zM276 576h12v12h-12zM276 588h12v12h-12zM276 600h12v12h-12zM276 612h12v12h-12zM276 624h12v12h-12zM276 636h12v12h-12zM276 648h12v12h-12zM276 660h12v12h-12zM276 672h12v12h-12zM276 684h12v12h-12zM264 696h12v12h-12zM252 708h12v12h-12zM240 720h12v12h-12zM228 732h12v12h-12zM228 744h12v12h-12zM216 756h12v12h-12zM204 768h12v12h-12z"/><path fill="#7198f7" d="M276 504h12v12h-12zM288 528h12v12h-12zM288 540h12v12h-12zM288 552h12v12h-12zM288 564h12v12h-12zM288 576h12v12h-12zM288 588h12v12h-12zM288 600h12v12h-12zM288 612h12v12h-12zM288 624h12v12h-12zM288 636h12v12h-12zM288 648h12v12h-12zM288 660h12v12h-12zM288 672h12v12h-12zM288 684h12v12h-12zM276 696h12v12h-12zM264 708h24v12h-24zM252 720h24v12h-24zM240 732h24v12h-24zM240 744h12v12h-12zM228 756h12v12h-12zM216 768h12v12h-12zM192 780h12v12h-12z"/><path fill="#729cf9" d="M276 492h12v12h-12zM288 516h12v12h-12zM300 528h12v12h-12zM300 540h24v12h-24zM300 552h24v12h-24zM300 564h36v12h-36zM300 576h36v12h-36zM300 588h36v12h-36zM300 600h36v12h-36zM300 612h36v12h-36zM300 624h36v12h-36zM300 636h36v12h-36zM300 648h36v12h-36zM300 660h36v12h-36zM300 672h36v12h-36zM300 684h24v12h-24zM288 696h24v12h-24zM288 708h12v12h-12zM276 720h12v12h-12zM264 732h12v12h-12zM252 744h12v12h-12zM240 756h12v12h-12zM228 768h12v12h-12zM204 780h12v12h-12z"/><path fill="#71a5fa" d="M288 504h12v12h-12zM300 516h12v12h-12zM312 528h12v12h-12zM324 540h12v12h-12zM324 552h24v12h-24zM336 564h12v12h-12zM336 576h24v12h-24zM336 588h24v12h-24zM336 600h24v12h-24zM336 612h24v12h-24zM336 624h24v12h-24zM336 636h24v12h-24zM336 648h24v12h-24zM336 660h12v12h-12zM336 672h12v12h-12zM324 684h24v12h-24zM312 696h24v12h-24zM300 708h24v12h-24zM288 720h24v12h-24zM276 732h24v12h-24zM264 744h24v12h-24zM252 756h24v12h-24zM240 768h24v12h-24zM216 780h24v12h-24z"/><path fill="#70adfa" d="M288 492h12v12h-12zM300 504h12v12h-12zM312 516h12v12h-12zM324 528h24v12h-24zM336 540h24v12h-24zM348 552h12v12h-12zM348 564h12v12h-12zM348 660h12v12h-12zM348 672h12v12h-12zM348 684h12v12h-12zM336 696h12v12h-12zM324 708h12v12h-12zM312 720h12v12h-12zM300 732h12v12h-12zM288 744h12v12h-12zM276 756h12v12h-12zM264 768h12v12h-12zM240 780h24v12h-24zM204 792h36v12h-36z"/><path fill="#6eb6fb" d="M288 480h12v12h-12zM300 492h12v12h-12zM312 504h12v12h-12zM324 516h12v12h-12zM348 528h12v12h-12zM360 552h12v12h-12zM360 564h12v12h-12zM360 576h12v12h-12zM360 588h12v12h-12zM360 600h12v12h-12zM360 612h12v12h-12zM360 624h12v12h-12zM360 636h12v12h-12zM360 648h12v12h-12zM360 660h12v12h-12zM360 672h12v12h-12zM360 684h12v12h-12zM348 696h12v12h-12zM336 708h12v12h-12zM324 720h12v12h-12zM312 732h12v12h-12zM300 744h12v12h-12zM288 756h12v12h-12zM276 768h12v12h-12zM264 780h12v12h-12zM240 792h24v12h-24zM204 804h36v12h-36z"/><path fill="#6dbffb" d="M300 480h12v12h-12zM312 492h12v12h-12zM324 504h24v12h-24zM336 516h24v12h-24zM360 528h12v12h-12zM360 540h12v12h-12zM372 552h12v12h-12zM372 564h12v12h-12zM372 576h12v12h-12zM372 588h12v12h-12zM372 600h12v12h-12zM372 612h12v12h-12zM372 624h12v12h-12zM372 636h12v12h-12zM372 648h12v12h-12zM372 660h12v12h-12zM372 672h12v12h-12zM360 696h12v12h-12zM348 708h12v12h-12zM336 720h12v12h-12zM324 732h12v12h-12zM312 744h12v12h-12zM300 756h12v12h-12zM288 768h12v12h-12zM276 780h12v12h-12zM264 792h12v12h-12zM240 804h24v12h-24zM216 816h24v12h-24z"/><path fill="#6cc8fc" d="M312 468h24v12h-24zM312 480h36v12h-36zM324 492h24v12h-24zM348 504h12v12h-12zM360 516h12v12h-12zM372 540h12v12h-12zM384 552h12v12h-12zM384 564h12v12h-12zM384 576h12v12h-12zM384 588h12v12h-12zM384 600h12v12h-12zM384 612h12v12h-12zM384 624h12v12h-12zM384 636h12v12h-12zM384 648h12v12h-12zM384 660h12v12h-12zM384 672h12v12h-12zM372 684h12v12h-12zM360 708h12v12h-12zM348 720h12v12h-12zM336 732h12v12h-12zM324 744h12v12h-12zM312 756h12v12h-12zM300 768h12v12h-12zM288 780h12v12h-12zM276 792h12v12h-12zM264 804h12v12h-12zM240 816h24v12h-24zM216 828h36v12h-36zM228 840h12v12h-12z"/><path fill="#6bd0fd" d="M336 456h24v12h-24zM336 468h24v12h-24zM348 480h12v12h-12zM348 492h12v12h-12zM360 504h12v12h-12zM372 528h12v12h-12zM384 540h12v12h-12zM396 564h12v12h-12zM396 576h12v12h-12zM396 588h12v12h-12zM396 600h12v12h-12zM396 612h12v12h-12zM396 624h12v12h-12zM396 636h12v12h-12zM396 648h12v12h-12zM396 660h12v12h-12zM384 684h12v12h-12zM372 696h12v12h-12zM348 732h12v12h-12zM336 744h12v12h-12zM324 756h12v12h-12zM312 768h12v12h-12zM300 780h12v12h-12zM288 792h12v12h-12zM276 804h12v12h-12zM264 816h12v12h-12zM252 828h12v12h-12zM240 840h12v12h-12zM228 852h24v12h-24z"/><path fill="#6ad9fd" d="M360 456h12v12h-12zM360 468h12v12h-12zM360 480h12v12h-12zM360 492h12v12h-12zM372 504h12v12h-12zM372 516h12v12h-12zM384 528h12v12h-12zM396 540h12v12h-12zM396 552h12v12h-12zM396 672h12v12h-12zM396 684h12v12h-12zM384 696h12v12h-12zM372 708h12v12h-12zM360 720h12v12h-12zM360 732h12v12h-12zM348 744h12v12h-12zM336 756h12v12h-12zM324 768h12v12h-12zM312 780h12v12h-12zM300 792h12v12h-12zM288 804h12v12h-12zM276 816h12v12h-12zM264 828h12v12h-12zM252 840h12v12h-12zM252 852h12v12h-12zM240 864h12v12h-12z"/><path fill="#68e2fe" d="M372 456h12v12h-12zM372 468h12v12h-12zM372 480h12v12h-12zM372 492h12v12h-12zM384 504h12v12h-12zM384 516h24v12h-24zM396 528h12v12h-12zM408 540h12v12h-12zM408 552h12v12h-12zM408 564h12v12h-12zM408 576h12v12h-12zM408 588h12v12h-12zM408 600h12v12h-12zM408 612h12v12h-12zM408 624h12v12h-12zM408 636h12v12h-12zM408 648h12v12h-12zM408 660h12v12h-12zM408 672h12v12h-12zM396 696h12v12h-12zM384 708h12v12h-12zM372 720h12v12h-12zM360 744h12v12h-12zM348 756h12v12h-12zM336 768h12v12h-12zM324 780h12v12h-12zM312 792h12v12h-12zM300 804h12v12h-12zM288 816h12v12h-12zM276 828h12v12h-12zM264 840h12v12h-12zM264 852h12v12h-12zM252 864h12v12h-12z"/><path fill="#67eafe" d="M384 444h12v12h-12zM384 456h12v12h-12zM384 468h12v12h-12zM384 480h12v12h-12zM384 492h24v12h-24zM396 504h12v12h-12zM408 516h12v12h-12zM408 528h12v12h-12zM420 540h12v12h-12zM420 552h12v12h-12zM420 564h12v12h-12zM420 576h12v12h-12zM420 588h12v12h-12zM420 600h12v12h-12zM420 612h12v12h-12zM420 624h12v12h-12zM420 636h12v12h-12zM420 648h12v12h-12zM420 660h12v12h-12zM420 672h12v12h-12zM408 684h12v12h-12zM396 708h12v12h-12zM384 720h12v12h-12zM372 732h12v12h-12zM372 744h12v12h-12zM360 756h12v12h-12zM348 768h24v12h-24zM336 780h24v12h-24zM324 792h24v12h-24zM312 804h24v12h-24zM300 816h24v12h-24zM288 828h24v12h-24zM276 840h24v12h-24zM276 852h12v12h-12zM264 864h12v12h-12zM252 876h24v12h-24zM252 888h12v12h-12z"/><path fill="#66f3ff" d="M396 444h36v12h-36zM396 456h36v12h-36zM396 468h36v12h-36zM396 480h36v12h-36zM408 492h24v12h-24zM408 504h24v12h-24zM420 516h12v12h-12zM420 528h12v12h-12zM432 540h12v12h-12zM432 552h12v12h-12zM432 564h12v12h-12zM432 576h12v12h-12zM432 588h12v12h-12zM432 600h12v12h-12zM432 612h12v12h-12zM432 624h12v12h-12zM432 636h24v12h-24zM432 648h12v12h-12zM432 660h12v12h-12zM432 672h12v12h-12zM420 684h12v12h-12zM408 696h12v12h-12zM396 720h12v12h-12zM384 732h12v12h-12zM384 744h12v12h-12zM372 756h24v12h-24zM372 768h12v12h-12zM360 780h24v12h-24zM348 792h36v12h-36zM336 804h48v12h-48zM324 816h60v12h-60zM312 828h72v12h-72zM300 840h84v12h-84zM288 852h96v12h-96zM276 864h108v12h-108zM276 876h108v12h-108zM264 888h108v12h-108zM276 900h12v12h-12z"/><path fill="#6ef4f8" d="M432 456h12v12h-12zM432 468h12v12h-12zM432 480h12v12h-12zM432 492h12v12h-12zM432 504h12v12h-12zM432 516h12v12h-12zM432 528h12v12h-12zM444 588h12v12h-12zM444 600h12v12h-12zM444 612h12v12h-12zM444 624h24v12h-24zM456 636h12v12h-12zM444 648h24v12h-24zM444 660h12v12h-12zM432 684h12v12h-12zM420 696h12v12h-12zM408 708h12v12h-12zM396 732h12v12h-12zM396 744h12v12h-12zM396 756h12v12h-12zM384 768h12v12h-12zM384 780h12v12h-12zM384 792h12v12h-12zM384 804h12v12h-12zM384 816h12v12h-12zM384 828h12v12h-12zM384 840h12v12h-12zM384 852h12v12h-12zM384 864h12v12h-12zM384 876h12v12h-12zM384 888h12v12h-12z"/><path fill="#77f4f1" d="M444 456h12v12h-12zM444 468h12v12h-12zM444 480h12v12h-12zM444 492h12v12h-12zM444 504h12v12h-12zM444 516h12v12h-12zM444 528h12v12h-12zM444 540h12v12h-12zM444 552h12v12h-12zM444 564h12v12h-12zM444 576h12v12h-12zM456 600h12v12h-12zM456 612h12v12h-12zM468 624h12v12h-12zM468 636h12v12h-12zM468 648h12v12h-12zM456 660h12v12h-12zM444 672h12v12h-12zM444 684h12v12h-12zM432 696h12v12h-12zM420 708h12v12h-12zM408 720h12v12h-12zM408 732h12v12h-12zM396 768h12v12h-12zM396 780h12v12h-12zM396 792h12v12h-12zM396 804h12v12h-12zM396 816h12v12h-12zM396 828h12v12h-12zM396 840h12v12h-12zM396 852h12v12h-12zM396 864h12v12h-12zM396 876h12v12h-12zM396 888h12v12h-12z"/><path fill="#7ff5ea" d="M456 456h12v12h-12zM456 468h12v12h-12zM456 480h12v12h-12zM456 492h12v12h-12zM456 504h12v12h-12zM456 516h12v12h-12zM456 528h12v12h-12zM456 540h12v12h-12zM456 552h12v12h-12zM456 564h12v12h-12zM456 576h12v12h-12zM456 588h12v12h-12zM468 600h12v12h-12zM468 612h12v12h-12zM480 636h12v12h-12zM468 660h12v12h-12zM456 672h12v12h-12zM444 696h12v12h-12zM432 708h12v12h-12zM420 720h12v12h-12zM408 744h12v12h-12zM408 756h12v12h-12zM408 768h12v12h-12zM408 780h12v12h-12zM408 792h12v12h-12zM408 804h12v12h-12zM408 816h12v12h-12zM408 828h12v12h-12zM408 840h12v12h-12zM408 852h12v12h-12zM408 864h12v12h-12zM408 876h12v12h-12zM408 888h12v12h-12z"/><path fill="#88f5e3" d="M468 456h12v12h-12zM468 468h24v12h-24zM468 480h24v12h-24zM468 492h12v12h-12zM468 504h12v12h-12zM468 516h12v12h-12zM468 528h12v12h-12zM468 540h12v12h-12zM468 552h12v12h-12zM468 564h12v12h-12zM468 576h12v12h-12zM468 588h12v12h-12zM480 612h12v12h-12zM480 624h12v12h-12zM480 648h12v12h-12zM480 660h12v12h-12zM468 672h12v12h-12zM456 684h12v12h-12zM432 720h12v12h-12zM420 732h12v12h-12zM420 744h12v12h-12zM420 756h12v12h-12zM420 768h12v12h-12zM420 780h12v12h-12zM420 792h12v12h-12zM420 804h12v12h-12zM420 816h12v12h-12zM420 828h12v12h-12zM420 840h12v12h-12zM420 852h12v12h-12zM420 864h24v12h-24zM420 876h24v12h-24zM420 888h24v12h-24z"/><path fill="#90f6dc" d="M492 480h24v12h-24zM480 492h24v12h-24zM480 504h24v12h-24zM480 516h12v12h-12zM480 528h12v12h-12zM480 540h12v12h-12zM480 552h12v12h-12zM480 576h12v12h-12zM480 588h12v12h-12zM480 600h12v12h-12zM492 624h12v12h-12zM492 636h12v12h-12zM492 648h12v12h-12zM480 672h12v12h-12zM468 684h12v12h-12zM456 696h12v12h-12zM444 708h12v12h-12zM444 720h12v12h-12zM432 732h12v12h-12zM432 744h12v12h-12zM432 756h12v12h-12zM432 768h12v12h-12zM432 780h12v12h-12zM432 792h12v12h-12zM432 804h12v12h-12zM432 816h12v12h-12zM432 828h12v12h-12zM432 840h12v12h-12zM432 852h24v12h-24zM444 864h12v12h-12zM444 876h24v12h-24zM444 888h24v12h-24z"/><path fill="#98f7d6" d="M504 492h24v12h-24zM504 504h12v12h-12zM492 516h12v12h-12zM492 528h12v12h-12zM480 564h12v12h-12zM492 600h12v12h-12zM492 612h12v12h-12zM492 660h12v12h-12zM480 684h12v12h-12zM468 696h12v12h-12zM456 708h12v12h-12zM444 732h12v12h-12zM444 744h12v12h-12zM444 816h12v12h-12zM444 828h12v12h-12zM444 840h12v12h-12zM456 864h12v12h-12zM468 876h12v12h-12zM468 888h12v12h-12z"/><path fill="#a1f7cf" d="M516 504h12v12h-12zM504 516h12v12h-12zM504 528h12v12h-12zM492 540h12v12h-12zM492 552h12v12h-12zM492 564h12v12h-12zM492 576h12v12h-12zM492 588h12v12h-12zM504 624h12v12h-12zM504 636h12v12h-12zM504 648h12v12h-12zM492 672h12v12h-12zM480 696h12v12h-12zM468 708h12v12h-12zM456 720h12v12h-12zM444 756h12v12h-12zM444 768h12v12h-12zM444 780h12v12h-12zM444 792h12v12h-12zM444 804h12v12h-12zM456 840h12v12h-12zM456 852h12v12h-12zM468 864h12v12h-12zM480 888h12v12h-12z"/><path fill="#a9f8c8" d="M528 504h12v12h-12zM516 516h12v12h-12zM516 528h12v12h-12zM504 540h12v12h-12zM504 552h12v12h-12zM504 564h12v12h-12zM504 576h12v12h-12zM504 588h12v12h-12zM504 600h12v12h-12zM504 612h12v12h-12zM504 660h12v12h-12zM504 672h12v12h-12zM492 684h12v12h-12zM480 708h12v12h-12zM468 720h12v12h-12zM456 732h12v12h-12zM456 744h12v12h-12zM456 756h12v12h-12zM456 768h12v12h-12zM456 780h12v12h-12zM456 792h12v12h-12zM456 804h12v12h-12zM456 816h12v12h-12zM456 828h12v12h-12zM468 852h12v12h-12zM480 876h12v12h-12z"/><path fill="#b2f8c1" d="M528 516h12v12h-12zM528 528h12v12h-12zM516 540h12v12h-12zM516 552h12v12h-12zM516 564h12v12h-12zM504 684h12v12h-12zM492 696h12v12h-12zM468 732h12v12h-12zM468 744h12v12h-12zM468 828h12v12h-12zM468 840h12v12h-12zM480 864h12v12h-12z"/><path fill="#baf9ba" d="M540 516h24v12h-24zM540 528h12v12h-12zM528 540h12v12h-12zM528 552h12v12h-12zM516 576h12v12h-12zM516 588h12v12h-12zM516 600h12v12h-12zM516 612h12v12h-12zM516 624h12v12h-12zM516 636h12v12h-12zM516 648h12v12h-12zM516 660h12v12h-12zM516 672h12v12h-12zM504 696h12v12h-12zM492 708h12v12h-12zM480 720h12v12h-12zM480 732h12v12h-12zM468 756h12v12h-12zM468 768h12v12h-12zM468 780h12v12h-12zM468 792h12v12h-12zM468 804h12v12h-12zM468 816h12v12h-12zM480 852h12v12h-12z"/><path fill="#c1f9b2" d="M552 528h12v12h-12zM540 540h12v12h-12zM528 564h12v12h-12zM528 576h12v12h-12zM516 684h12v12h-12zM516 696h12v12h-12zM504 708h12v12h-12zM492 720h12v12h-12zM480 744h12v12h-12zM480 756h12v12h-12zM480 828h12v12h-12zM480 840h12v12h-12zM492 876h12v12h-12z"/><path fill="#c8f9a9" d="M552 540h12v12h-12zM540 552h12v12h-12zM528 588h12v12h-12zM528 600h12v12h-12zM528 612h12v12h-12zM528 624h12v12h-12zM528 636h12v12h-12zM528 648h12v12h-12zM528 660h12v12h-12zM528 672h12v12h-12zM528 684h12v12h-12zM504 720h12v12h-12zM492 732h12v12h-12zM480 768h12v12h-12zM480 780h12v12h-12zM480 792h12v12h-12zM480 804h12v12h-12zM480 816h12v12h-12z"/><path fill="#cff9a1" d="M564 528h12v12h-12zM540 564h12v12h-12zM540 672h12v12h-12zM528 696h12v12h-12zM516 708h12v12h-12zM504 732h12v12h-12zM492 744h12v12h-12zM492 756h12v12h-12zM492 852h12v12h-12zM492 864h12v12h-12z"/><path fill="#d6f998" d="M552 552h12v12h-12zM540 576h12v12h-12zM540 588h12v12h-12zM540 600h12v12h-12zM540 636h12v12h-12zM540 648h12v12h-12zM540 660h12v12h-12zM540 684h12v12h-12zM540 696h12v12h-12zM528 708h12v12h-12zM516 720h12v12h-12zM504 744h12v12h-12zM492 768h12v12h-12zM492 780h12v12h-12zM492 792h12v12h-12zM492 804h12v12h-12zM492 816h12v12h-12zM492 828h12v12h-12zM492 840h12v12h-12z"/><path fill="#dcf990" d="M564 540h12v12h-12zM552 564h12v12h-12zM540 612h12v12h-12zM540 624h12v12h-12zM552 672h12v12h-12zM552 684h12v12h-12zM540 708h12v12h-12zM528 720h12v12h-12zM516 732h12v12h-12zM504 756h12v12h-12zM504 876h12v12h-12z"/><path fill="#e3f988" d="M552 576h12v12h-12zM552 648h12v12h-12zM552 660h12v12h-12zM552 696h12v12h-12zM528 732h12v12h-12zM516 744h12v12h-12zM504 768h12v12h-12zM504 780h12v12h-12zM504 792h12v12h-12zM504 804h12v12h-12zM504 816h12v12h-12zM504 828h12v12h-12zM504 840h12v12h-12zM504 852h12v12h-12zM504 864h12v12h-12z"/><path fill="#eaf97f" d="M564 552h12v12h-12zM552 588h12v12h-12zM552 600h12v12h-12zM552 612h12v12h-12zM552 624h12v12h-12zM552 636h12v12h-12zM564 672h12v12h-12zM564 684h12v12h-12zM564 696h12v12h-12zM552 708h12v12h-12zM540 720h12v12h-12zM516 756h12v12h-12z"/><path fill="#f1f977" d="M564 660h12v12h-12zM564 708h12v12h-12zM552 720h12v12h-12zM540 732h12v12h-12zM528 744h12v12h-12zM516 768h12v12h-12zM516 780h12v12h-12zM516 864h12v12h-12zM516 876h12v12h-12z"/><path fill="#f8f96e" d="M564 564h12v12h-12zM564 648h12v12h-12zM576 684h12v12h-12zM576 696h12v12h-12zM564 720h12v12h-12zM552 732h12v12h-12zM540 744h12v12h-12zM528 756h12v12h-12zM516 792h12v12h-12zM516 804h12v12h-12zM516 816h12v12h-12zM516 828h12v12h-12zM516 840h12v12h-12zM516 852h12v12h-12z"/><path fill="#fff966" d="M576 540h12v12h-12zM564 576h12v12h-12zM564 588h12v12h-12zM564 600h12v12h-12zM564 612h12v12h-12zM564 624h12v12h-12zM564 636h12v12h-12zM576 672h12v12h-12zM576 708h12v12h-12zM564 732h12v12h-12zM552 744h12v12h-12zM540 756h12v12h-12zM528 768h12v12h-12zM528 780h12v12h-12zM528 792h12v12h-12zM528 804h12v12h-12zM528 816h12v12h-12zM528 828h12v12h-12zM528 840h12v12h-12zM528 852h12v12h-12zM528 864h12v12h-12z"/><path fill="#fff366" d="M576 660h12v12h-12zM588 696h12v12h-12zM576 720h12v12h-12zM564 744h12v12h-12zM552 756h12v12h-12zM540 768h12v12h-12zM612 828h48v12h-48zM612 840h60v12h-60zM612 852h24v12h-24z"/><path fill="#ffec66" d="M576 552h12v12h-12zM576 648h12v12h-12zM588 672h12v12h-12zM588 684h12v12h-12zM588 708h12v12h-12zM588 720h12v12h-12zM576 732h12v12h-12zM576 744h12v12h-12zM552 768h12v12h-12zM540 780h12v12h-12zM540 792h12v12h-12zM540 804h12v12h-12zM612 804h24v12h-24zM540 816h12v12h-12zM600 816h60v12h-60zM540 828h12v12h-12zM600 828h12v12h-12zM660 828h12v12h-12zM540 840h12v12h-12zM600 840h12v12h-12zM672 840h12v12h-12zM540 852h12v12h-12zM588 852h24v12h-24zM540 864h12v12h-12z"/><path fill="#ffe666" d="M576 564h12v12h-12zM576 576h12v12h-12zM576 636h12v12h-12zM588 732h12v12h-12zM588 744h12v12h-12zM564 756h24v12h-24zM564 768h12v12h-12zM552 780h12v12h-12zM552 792h12v12h-12zM600 792h36v12h-36zM552 804h12v12h-12zM588 804h24v12h-24zM636 804h24v12h-24zM552 816h12v12h-12zM576 816h24v12h-24zM660 816h12v12h-12zM552 828h12v12h-12zM576 828h24v12h-24zM672 828h12v12h-12zM552 840h48v12h-48zM552 852h36v12h-36zM552 864h12v12h-12z"/><path fill="#ffe066" d="M576 588h12v12h-12zM576 600h12v12h-12zM576 612h12v12h-12zM576 624h12v12h-12zM588 660h12v12h-12zM600 684h12v12h-12zM600 696h12v12h-12zM600 708h12v12h-12zM600 720h12v12h-12zM600 732h12v12h-12zM600 744h12v12h-12zM588 756h24v12h-24zM576 768h36v12h-36zM564 780h72v12h-72zM564 792h36v12h-36zM636 792h24v12h-24zM564 804h24v12h-24zM660 804h12v12h-12zM564 816h12v12h-12zM672 816h12v12h-12zM564 828h12v12h-12zM684 828h12v12h-12z"/><path fill="#ffda66" d="M588 540h12v12h-12zM588 648h12v12h-12zM600 672h12v12h-12zM612 708h12v12h-12zM612 720h12v12h-12zM612 732h12v12h-12zM612 744h12v12h-12zM612 756h24v12h-24zM612 768h36v12h-36zM636 780h24v12h-24zM660 792h24v12h-24zM672 804h24v12h-24zM684 816h24v12h-24zM696 828h12v12h-12z"/><path fill="#ffd366" d="M588 636h12v12h-12zM612 684h12v12h-12zM612 696h12v12h-12zM624 732h12v12h-12zM624 744h12v12h-12zM636 756h12v12h-12zM648 768h24v12h-24zM660 780h24v12h-24zM684 792h12v12h-12zM696 804h12v12h-12zM708 816h12v12h-12z"/><path fill="#ffcd66" d="M588 552h12v12h-12zM588 564h12v12h-12zM588 576h12v12h-12zM588 588h12v12h-12zM588 612h12v12h-12zM588 624h12v12h-12zM600 660h12v12h-12zM624 708h12v12h-12zM624 720h12v12h-12zM636 744h12v12h-12zM648 756h24v12h-24zM672 768h12v12h-12zM684 780h12v12h-12zM696 792h12v12h-12zM708 804h12v12h-12z"/><path fill="#ffc766" d="M588 600h12v12h-12zM600 648h12v12h-12zM612 672h12v12h-12zM624 696h12v12h-12zM636 720h12v12h-12zM636 732h12v12h-12zM648 744h12v12h-12zM672 756h12v12h-12zM684 768h12v12h-12zM696 780h12v12h-12zM708 792h12v12h-12zM720 804h12v12h-12z"/><path fill="#ffc066" d="M612 660h12v12h-12zM624 684h12v12h-12zM636 708h12v12h-12zM648 732h12v12h-12zM660 744h12v12h-12z"/><path fill="#ffba66" d="M600 540h12v12h-12zM600 636h12v12h-12zM624 672h12v12h-12zM636 696h12v12h-12zM648 720h12v12h-12zM660 732h12v12h-12zM672 744h12v12h-12zM684 756h12v12h-12zM696 768h12v12h-12zM708 780h12v12h-12zM720 792h12v12h-12z"/><path fill="#feb266" d="M600 552h12v12h-12zM600 564h12v12h-12zM600 576h12v12h-12zM600 588h12v12h-12zM600 600h12v12h-12zM600 612h12v12h-12zM600 624h12v12h-12zM612 648h12v12h-12zM636 684h12v12h-12zM648 708h12v12h-12zM660 720h12v12h-12zM672 732h12v12h-12zM684 744h12v12h-12z"/><path fill="#fda966" d="M624 660h12v12h-12zM636 672h12v12h-12zM648 696h12v12h-12zM660 708h12v12h-12zM672 720h12v12h-12zM696 756h12v12h-12zM708 768h12v12h-12zM720 780h12v12h-12z"/><path fill="#fba166" d="M612 624h12v12h-12zM612 636h12v12h-12zM624 648h12v12h-12zM648 684h12v12h-12zM660 696h12v12h-12zM684 732h12v12h-12zM696 744h12v12h-12zM708 756h12v12h-12zM720 768h12v12h-12zM732 780h12v12h-12z"/><path fill="#fa9866" d="M612 552h12v12h-12zM612 564h12v12h-12zM612 576h12v12h-12zM612 588h12v12h-12zM612 600h12v12h-12zM612 612h12v12h-12zM636 660h12v12h-12zM648 672h12v12h-12zM672 708h12v12h-12zM684 720h12v12h-12zM696 732h12v12h-12zM708 744h12v12h-12zM720 756h12v12h-12zM732 768h12v12h-12z"/><path fill="#f99066" d="M624 624h12v12h-12zM624 636h12v12h-12zM636 648h12v12h-12zM660 684h12v12h-12zM672 696h12v12h-12zM684 708h12v12h-12zM696 720h12v12h-12zM708 732h36v12h-36zM720 744h48v12h-48zM732 756h24v12h-24zM744 768h12v12h-12z"/><path fill="#f88866" d="M624 552h12v12h-12zM624 564h12v12h-12zM624 576h12v12h-12zM624 588h12v12h-12zM624 600h12v12h-12zM624 612h12v12h-12zM636 636h12v12h-12zM648 660h12v12h-12zM660 672h12v12h-12zM672 684h12v12h-12zM684 696h12v12h-12zM696 708h12v12h-12zM708 720h60v12h-60zM744 732h24v12h-24z"/><path fill="#f77f66" d="M636 564h12v12h-12zM636 576h12v12h-12zM636 588h12v12h-12zM636 600h12v12h-12zM636 612h12v12h-12zM636 624h12v12h-12zM648 648h12v12h-12zM660 660h12v12h-12zM672 672h12v12h-12zM684 684h12v12h-12zM696 696h12v12h-12zM708 708h60v12h-60z"/><path fill="#f57766" d="M648 624h12v12h-12zM648 636h12v12h-12zM660 648h12v12h-12zM672 660h12v12h-12zM684 672h12v12h-12zM696 684h12v12h-12zM708 696h60v12h-60z"/><path fill="#f46e66" d="M648 564h24v12h-24zM648 576h24v12h-24zM648 588h24v12h-24zM648 600h24v12h-24zM648 612h24v12h-24zM660 624h12v12h-12zM660 636h24v12h-24zM672 648h24v12h-24zM684 660h24v12h-24zM696 672h36v12h-36zM708 684h60v12h-60z"/><path fill="#f36666" d="M672 564h24v12h-24zM672 576h48v12h-48zM672 588h60v12h-60zM672 600h72v12h-72zM672 612h72v12h-72zM672 624h84v12h-84zM684 636h84v12h-84zM696 648h72v12h-72zM708 660h60v12h-60zM732 672h36v12h-36z"/></g></g><g filter="url(#bl2)"><ellipse cx="362.4" cy="682.6" rx="21.7" ry="21.7" fill="#fff" fill-opacity="0.85"/><ellipse cx="457.5" cy="732.4" rx="18.1" ry="18.1" fill="#fff" fill-opacity="0.75"/><ellipse cx="244.7" cy="569.4" rx="10.0" ry="10.0" fill="#fff" fill-opacity="0.60"/><ellipse cx="530.0" cy="202.6" rx="20.4" ry="20.4" fill="#fff" fill-opacity="0.55"/><ellipse cx="597.9" cy="139.2" rx="15.8" ry="15.8" fill="#fff" fill-opacity="0.50"/><ellipse cx="108.9" cy="84.9" rx="24.9" ry="24.9" fill="#fff" fill-opacity="0.35"/><ellipse cx="158.7" cy="130.2" rx="20.4" ry="20.4" fill="#fff" fill-opacity="0.30"/></g><polygon points="96.8,41.2 153.6,-21.9 193.6,-52.2 324.1,-35.4 368.3,-9.3 385.1,5.5 376.7,-0.9 359.9,-0.9 334.6,3.3 300.9,11.8 267.3,18.1 225.2,24.4 187.3,30.7 132.6,37.0 94.7,43.3" fill="#fff" filter="url(#bl3)"/><polygon points="193.6,-52.2 324.1,-35.4 368.3,-9.3 385.1,5.5 402.0,26.5 420.9,39.1 444.1,46.3 469.3,45.4 490.4,41.2 513.5,23.1 555.6,26.5 639.8,33.7 662.9,66.5 679.8,91.7 690.3,121.2 688.2,188.5 681.9,230.6 667.1,264.3 631.4,333.8 536.7,330.8 503.0,346.4 469.3,367.4 423.0,396.9 397.8,403.2 334.6,401.1 284.1,417.9 254.6,439.0 216.8,462.1 187.3,487.4 130.5,491.6 115.7,514.7 92.6,529.5 90.5,356.9 80.0,272.7 67.3,171.7 64.4,142.2 80.0,70.7 96.8,41.2 153.6,-21.9" fill="none" stroke="#2a2a2a" stroke-width="2" stroke-linejoin="round"/><polygon points="365.9,481.2 400.6,478.6 459.2,481.2 478.7,497.2 522.1,534.1 578.4,566.6 630.5,588.3 665.2,588.3 695.5,605.6 719.4,620.8 725.9,642.5 738.9,659.8 741.1,716.2 734.6,737.9 721.6,768.2 695.5,802.9 682.5,816.0 643.5,826.8 587.1,833.3 548.1,842.0 496.0,859.3 452.7,874.5 418.0,875.8 400.6,870.2 383.3,861.5 331.3,868.9 279.2,876.7 253.2,833.3 227.2,781.3 192.5,742.2 170.8,716.2 136.1,681.5 118.8,659.8 107.9,629.5 127.4,607.8 162.1,581.8 201.2,555.7 235.8,538.4 287.9,516.7 335.6,499.4" fill="none" stroke="#2a2a2a" stroke-width="2" stroke-linejoin="round"/></g><path d="M141.6 1052.0v21M235.2 1052.0v21M328.8 1052.0v21M422.4 1052.0v21M516.0 1052.0v21M609.6 1052.0v21M703.2 1052.0v21M796.8 1052.0v21M890.4 1052.0v21M984.0 1052.0v21M94.5 124.0h-21M94.5 245.6h-21M94.5 367.2h-21M94.5 488.8h-21M94.5 610.4h-21M94.5 732.0h-21M94.5 853.6h-21M94.5 975.2h-21" stroke="#444" stroke-width="3" fill="none"/><rect x="94.5" y="50.5" width="949.5" height="1001.5" fill="none" stroke="#000" stroke-width="5"/><text x="141.6" y="1113.0" text-anchor="middle" class="ax">116°24'0&quot;E</text><text x="422.4" y="1113.0" text-anchor="middle" class="ax">116°28'30&quot;E</text><text x="703.2" y="1113.0" text-anchor="middle" class="ax">116°33'0&quot;E</text><text x="984.0" y="1113.0" text-anchor="middle" class="ax">116°37'30&quot;E</text><text transform="translate(59.0,124.0) rotate(-90)" text-anchor="middle" class="ay">40°3'0&quot;N</text><text transform="translate(59.0,367.2) rotate(-90)" text-anchor="middle" class="ay">40°0'0&quot;N</text><text transform="translate(59.0,610.4) rotate(-90)" text-anchor="middle" class="ay">39°57'0&quot;N</text><text transform="translate(59.0,853.6) rotate(-90)" text-anchor="middle" class="ay">39°54'0&quot;N</text><text x="128.6" y="131.5" class="let">a</text><text x="899.8" y="1010.5" class="yr">2011</text></g><g><g transform="translate(1298.4,119.4)"><g clip-path="url(#cn)"><g filter="url(#bl)"><path fill="#6c75e4" d="M36 204h24v12h-24zM48 216h12v12h-12zM48 228h12v12h-12zM48 240h12v12h-12zM48 252h12v12h-12zM48 264h24v12h-24zM48 276h24v12h-24zM48 288h48v12h-48zM48 300h60v12h-60zM60 312h48v12h-48zM60 324h48v12h-48zM60 336h48v12h-48zM60 348h48v12h-48zM60 360h48v12h-48zM60 372h48v12h-48zM60 384h48v12h-48zM60 396h48v12h-48zM60 408h48v12h-48zM60 420h48v12h-48zM60 432h48v12h-48zM60 444h36v12h-36z"/><path fill="#6d79e6" d="M36 180h36v12h-36zM36 192h36v12h-36zM60 204h24v12h-24zM60 216h24v12h-24zM60 228h24v12h-24zM60 240h24v12h-24zM60 252h36v12h-36zM72 264h36v12h-36zM72 276h48v12h-48zM96 288h24v12h-24zM108 300h24v12h-24zM108 312h24v12h-24zM108 324h24v12h-24zM108 336h24v12h-24zM108 348h24v12h-24zM108 360h24v12h-24zM108 372h24v12h-24zM108 384h24v12h-24zM108 396h24v12h-24zM108 408h24v12h-24zM108 420h24v12h-24zM108 432h24v12h-24zM96 444h24v12h-24zM60 456h60v12h-60z"/><path fill="#6d7de8" d="M36 168h36v12h-36zM72 180h12v12h-12zM72 192h24v12h-24zM84 204h12v12h-12zM84 216h12v12h-12zM84 228h12v12h-12zM84 240h12v12h-12zM96 252h24v12h-24zM108 264h24v12h-24zM120 276h12v12h-12zM120 288h24v12h-24zM132 300h12v12h-12zM132 312h12v12h-12zM132 324h12v12h-12zM132 336h12v12h-12zM132 348h12v12h-12zM132 360h12v12h-12zM132 372h12v12h-12zM132 384h12v12h-12zM132 396h12v12h-12zM132 408h12v12h-12zM132 420h12v12h-12zM132 432h12v12h-12zM120 444h24v12h-24zM120 456h12v12h-12zM60 468h72v12h-72z"/><path fill="#6e81ea" d="M36 156h48v12h-48zM72 168h24v12h-24zM84 180h12v12h-12zM96 192h12v12h-12zM96 204h12v12h-12zM96 216h12v12h-12zM96 228h12v12h-12zM96 240h24v12h-24zM120 252h12v12h-12zM132 264h12v12h-12zM132 276h12v12h-12zM144 288h12v12h-12zM144 300h12v12h-12zM144 312h12v12h-12zM144 324h12v12h-12zM144 336h12v12h-12zM144 348h12v12h-12zM144 360h12v12h-12zM144 372h12v12h-12zM144 384h12v12h-12zM144 396h12v12h-12zM144 408h12v12h-12zM144 420h12v12h-12zM144 432h12v12h-12zM144 444h12v12h-12zM132 456h24v12h-24zM132 468h12v12h-12zM60 480h84v12h-84z"/><path fill="#6e85ec" d="M36 132h36v12h-36zM36 144h60v12h-60zM84 156h24v12h-24zM96 168h12v12h-12zM96 180h24v12h-24zM108 192h12v12h-12zM108 204h12v12h-12zM108 216h24v12h-24zM108 228h24v12h-24zM120 240h36v12h-36zM132 252h24v12h-24zM144 264h24v12h-24zM144 276h24v12h-24zM156 288h12v12h-12zM156 300h12v12h-12zM156 312h12v12h-12zM156 324h12v12h-12zM156 336h12v12h-12zM156 348h12v12h-12zM156 360h12v12h-12zM156 372h12v12h-12zM156 384h12v12h-12zM156 396h12v12h-12zM156 408h12v12h-12zM156 420h12v12h-12zM156 432h12v12h-12zM156 444h12v12h-12zM156 456h12v12h-12zM144 468h24v12h-24zM144 480h24v12h-24zM60 492h108v12h-108zM60 504h96v12h-96z"/><path fill="#6f88ee" d="M96 -12h12v12h-12zM84 0h24v12h-24zM72 12h36v12h-36zM72 24h36v12h-36zM60 36h48v12h-48zM60 48h48v12h-48zM48 60h72v12h-72zM48 72h72v12h-72zM48 84h84v12h-84zM48 96h84v12h-84zM36 108h84v12h-84zM36 120h84v12h-84zM72 132h48v12h-48zM96 144h24v12h-24zM108 156h12v12h-12zM108 168h24v12h-24zM120 180h24v12h-24zM120 192h36v12h-36zM120 204h48v12h-48zM132 216h48v12h-48zM132 228h60v12h-60zM156 240h48v12h-48zM156 252h60v12h-60zM168 264h48v12h-48zM168 276h60v12h-60zM168 288h72v12h-72zM168 300h72v12h-72zM168 312h72v12h-72zM168 324h60v12h-60zM168 336h48v12h-48zM168 348h36v12h-36zM168 360h36v12h-36zM168 372h36v12h-36zM168 384h36v12h-36zM168 396h36v12h-36zM168 408h36v12h-36zM168 420h36v12h-36zM168 432h36v12h-36zM168 444h36v12h-36zM168 456h48v12h-48zM168 468h48v12h-48zM168 480h48v12h-48zM168 492h48v12h-48zM156 504h48v12h-48zM60 516h84v12h-84zM60 528h84v12h-84zM72 540h48v12h-48zM84 552h12v12h-12z"/><path fill="#708cf1" d="M120 -36h12v12h-12zM108 -24h24v12h-24zM108 -12h24v12h-24zM108 0h24v12h-24zM108 12h24v12h-24zM108 24h24v12h-24zM108 36h24v12h-24zM108 48h24v12h-24zM120 60h12v12h-12zM120 72h24v12h-24zM132 84h24v12h-24zM132 96h24v12h-24zM120 108h24v12h-24zM120 120h24v12h-24zM120 132h12v12h-12zM120 144h12v12h-12zM120 156h24v12h-24zM132 168h24v12h-24zM144 180h24v12h-24zM156 192h24v12h-24zM168 204h24v12h-24zM180 216h24v12h-24zM192 228h24v12h-24zM204 240h24v12h-24zM216 252h24v12h-24zM216 264h36v12h-36zM228 276h36v12h-36zM240 288h24v12h-24zM240 300h24v12h-24zM240 312h24v12h-24zM228 324h24v12h-24zM216 336h24v12h-24zM204 348h24v12h-24zM204 360h24v12h-24zM204 372h12v12h-12zM204 384h12v12h-12zM204 396h12v12h-12zM204 408h12v12h-12zM204 420h12v12h-12zM204 432h12v12h-12zM204 444h12v12h-12zM216 456h12v12h-12zM216 468h12v12h-12zM216 480h12v12h-12z"/><path fill="#7090f3" d="M132 -48h12v12h-12zM132 -36h12v12h-12zM132 -24h12v12h-12zM132 -12h12v12h-12zM132 0h12v12h-12zM132 12h12v12h-12zM132 24h12v12h-12zM132 36h12v12h-12zM132 48h12v12h-12zM132 60h12v12h-12zM144 72h12v12h-12zM156 84h12v12h-12zM156 96h12v12h-12zM144 108h24v12h-24zM144 120h12v12h-12zM132 132h24v12h-24zM132 144h24v12h-24zM144 156h12v12h-12zM156 168h12v12h-12zM168 180h12v12h-12zM180 192h12v12h-12zM192 204h12v12h-12zM204 216h12v12h-12zM216 228h12v12h-12zM228 240h12v12h-12zM240 252h12v12h-12zM252 264h12v12h-12zM264 276h12v12h-12zM264 288h12v12h-12zM264 300h12v12h-12zM264 312h12v12h-12zM252 324h12v12h-12zM240 336h12v12h-12zM228 348h12v12h-12zM228 360h12v12h-12zM216 372h12v12h-12zM216 384h12v12h-12zM216 396h12v12h-12zM216 408h12v12h-12zM216 420h12v12h-12zM216 432h12v12h-12zM216 444h12v12h-12zM228 468h12v12h-12zM228 480h12v12h-12z"/><path fill="#7194f5" d="M144 24h12v12h-12zM144 36h12v12h-12zM144 48h12v12h-12zM144 60h24v12h-24zM156 72h12v12h-12zM168 84h12v12h-12zM168 96h12v12h-12zM168 108h12v12h-12zM156 120h24v12h-24zM156 132h12v12h-12zM156 144h12v12h-12zM156 156h24v12h-24zM168 168h24v12h-24zM180 180h24v12h-24zM192 192h24v12h-24zM204 204h24v12h-24zM216 216h24v12h-24zM228 228h24v12h-24zM240 240h24v12h-24zM252 252h24v12h-24zM264 264h12v12h-12zM276 288h12v12h-12zM264 324h12v12h-12zM252 336h12v12h-12zM240 348h12v12h-12zM240 360h12v12h-12zM228 372h12v12h-12zM228 384h12v12h-12zM228 396h12v12h-12zM228 408h12v12h-12zM228 420h12v12h-12zM228 432h12v12h-12zM228 444h12v12h-12zM228 456h12v12h-12z"/><path fill="#7198f7" d="M144 -60h12v12h-12zM144 -48h12v12h-12zM144 -36h12v12h-12zM144 -24h12v12h-12zM144 -12h12v12h-12zM144 0h12v12h-12zM144 12h12v12h-12zM156 36h12v12h-12zM156 48h12v12h-12zM168 72h12v12h-12zM180 84h12v12h-12zM180 96h12v12h-12zM180 108h12v12h-12zM180 120h12v12h-12zM168 132h24v12h-24zM168 144h24v12h-24zM180 156h24v12h-24zM192 168h24v12h-24zM204 180h24v12h-24zM216 192h24v12h-24zM228 204h24v12h-24zM240 216h24v12h-24zM252 228h24v12h-24zM264 240h12v12h-12zM276 252h12v12h-12zM276 264h12v12h-12zM276 276h12v12h-12zM276 300h12v12h-12zM276 312h12v12h-12zM276 324h12v12h-12zM264 336h12v12h-12zM252 348h12v12h-12zM240 372h12v12h-12zM240 384h12v12h-12zM240 396h12v12h-12zM240 408h12v12h-12zM240 420h12v12h-12zM240 432h12v12h-12zM240 444h12v12h-12zM240 456h12v12h-12zM240 468h12v12h-12z"/><path fill="#729cf9" d="M156 -60h12v12h-12zM156 -48h12v12h-12zM156 -36h12v12h-12zM156 -24h12v12h-12zM156 -12h12v12h-12zM156 0h12v12h-12zM156 12h12v12h-12zM156 24h12v12h-12zM168 48h12v12h-12zM168 60h12v12h-12zM180 72h12v12h-12zM192 84h12v12h-12zM192 96h12v12h-12zM192 108h24v12h-24zM192 120h24v12h-24zM192 132h36v12h-36zM192 144h48v12h-48zM204 156h48v12h-48zM216 168h48v12h-48zM228 180h48v12h-48zM240 192h48v12h-48zM252 204h36v12h-36zM264 216h36v12h-36zM276 228h24v12h-24zM276 240h24v12h-24zM288 252h12v12h-12zM288 264h12v12h-12zM288 276h12v12h-12zM288 288h12v12h-12zM288 300h12v12h-12zM288 312h12v12h-12zM276 336h12v12h-12zM264 348h12v12h-12zM252 360h12v12h-12zM252 372h12v12h-12zM252 384h12v12h-12zM252 396h12v12h-12zM252 408h12v12h-12zM252 420h12v12h-12zM252 432h12v12h-12zM252 444h12v12h-12zM252 456h12v12h-12z"/><path fill="#71a5fa" d="M168 -72h12v12h-12zM168 -60h12v12h-12zM168 -48h12v12h-12zM168 -36h12v12h-12zM168 -24h12v12h-12zM168 -12h12v12h-12zM168 0h12v12h-12zM168 12h12v12h-12zM168 24h12v12h-12zM168 36h12v12h-12zM180 60h12v12h-12zM192 72h12v12h-12zM204 84h12v12h-12zM204 96h12v12h-12zM216 108h12v12h-12zM216 120h24v12h-24zM228 132h24v12h-24zM240 144h24v12h-24zM252 156h24v12h-24zM264 168h24v12h-24zM276 180h24v12h-24zM288 192h24v12h-24zM288 204h24v12h-24zM300 216h12v12h-12zM300 228h12v12h-12zM300 240h12v12h-12zM300 252h12v12h-12zM300 264h12v12h-12zM300 276h12v12h-12zM300 288h12v12h-12zM288 324h12v12h-12zM276 348h12v12h-12zM264 360h12v12h-12zM264 372h12v12h-12z"/><path fill="#70adfa" d="M180 -12h12v12h-12zM180 0h12v12h-12zM180 12h12v12h-12zM180 24h12v12h-12zM180 36h12v12h-12zM180 48h12v12h-12zM192 60h12v12h-12zM204 72h12v12h-12zM216 96h12v12h-12zM228 108h12v12h-12zM240 120h24v12h-24zM252 132h24v12h-24zM264 144h12v12h-12zM276 156h12v12h-12zM288 168h24v12h-24zM300 180h12v12h-12zM312 204h12v12h-12zM312 216h12v12h-12zM312 228h12v12h-12zM312 240h12v12h-12zM312 252h12v12h-12zM312 264h12v12h-12zM312 276h12v12h-12zM300 300h12v12h-12zM300 312h12v12h-12zM288 336h12v12h-12zM276 360h12v12h-12zM264 384h12v12h-12zM264 396h12v12h-12zM264 408h12v12h-12zM264 420h12v12h-12zM264 432h12v12h-12zM264 444h12v12h-12zM264 456h12v12h-12z"/><path fill="#6eb6fb" d="M180 -84h12v12h-12zM180 -72h12v12h-12zM180 -60h12v12h-12zM180 -48h12v12h-12zM180 -36h12v12h-12zM180 -24h12v12h-12zM192 36h12v12h-12zM192 48h12v12h-12zM204 60h12v12h-12zM216 84h12v12h-12zM228 96h12v12h-12zM240 108h24v12h-24zM264 120h12v12h-12zM276 132h12v12h-12zM276 144h24v12h-24zM288 156h24v12h-24zM312 168h12v12h-12zM312 180h12v12h-12zM312 192h12v12h-12zM312 288h12v12h-12zM312 300h12v12h-12zM300 324h12v12h-12zM300 336h12v12h-12zM288 348h12v12h-12zM288 360h12v12h-12zM276 372h12v12h-12zM276 384h12v12h-12zM276 396h12v12h-12zM276 408h12v12h-12zM276 420h12v12h-12zM276 432h12v12h-12zM276 444h12v12h-12z"/><path fill="#6dbffb" d="M192 -84h12v12h-12zM192 -72h12v12h-12zM192 -60h12v12h-12zM192 -48h12v12h-12zM192 -36h12v12h-12zM192 -24h12v12h-12zM192 -12h12v12h-12zM192 0h12v12h-12zM192 12h12v12h-12zM192 24h12v12h-12zM204 48h12v12h-12zM216 72h12v12h-12zM228 84h12v12h-12zM240 96h24v12h-24zM264 108h12v12h-12zM276 120h12v12h-12zM288 132h12v12h-12zM300 144h12v12h-12zM312 156h12v12h-12zM324 168h12v12h-12zM324 180h12v12h-12zM324 192h12v12h-12zM324 204h12v12h-12zM324 216h12v12h-12zM324 228h12v12h-12zM324 240h12v12h-12zM324 252h12v12h-12zM324 264h12v12h-12zM324 276h12v12h-12zM312 312h12v12h-12zM300 348h12v12h-12zM288 372h12v12h-12zM288 384h12v12h-12zM288 396h12v12h-12zM288 408h12v12h-12zM288 420h12v12h-12zM288 432h24v12h-24z"/><path fill="#6cc8fc" d="M204 -84h12v12h-12zM204 -72h12v12h-12zM204 -60h12v12h-12zM204 -48h12v12h-12zM204 -36h12v12h-12zM204 -24h12v12h-12zM204 -12h12v12h-12zM204 0h12v12h-12zM204 12h12v12h-12zM204 24h12v12h-12zM204 36h12v12h-12zM216 48h12v12h-12zM216 60h12v12h-12zM228 72h12v12h-12zM240 84h24v12h-24zM264 96h24v12h-24zM276 108h24v12h-24zM288 120h24v12h-24zM300 132h24v12h-24zM312 144h24v12h-24zM324 156h12v12h-12zM336 180h12v12h-12zM336 192h12v12h-12zM336 204h12v12h-12zM336 216h12v12h-12zM336 228h12v12h-12zM336 240h12v12h-12zM336 252h12v12h-12zM336 264h12v12h-12zM336 276h12v12h-12zM324 288h12v12h-12zM324 300h12v12h-12zM312 324h12v12h-12zM312 336h12v12h-12zM300 360h12v12h-12zM300 372h12v12h-12zM300 384h12v12h-12zM300 396h12v12h-12zM300 408h24v12h-24zM300 420h24v12h-24zM312 432h12v12h-12z"/><path fill="#6bd0fd" d="M216 -84h12v12h-12zM216 -72h12v12h-12zM216 -60h12v12h-12zM216 -48h12v12h-12zM216 -36h12v12h-12zM216 -24h12v12h-12zM216 -12h12v12h-12zM216 0h12v12h-12zM216 12h12v12h-12zM216 24h12v12h-12zM216 36h12v12h-12zM228 60h12v12h-12zM240 72h12v12h-12zM264 84h24v12h-24zM288 96h24v12h-24zM300 108h24v12h-24zM312 120h24v12h-24zM324 132h24v12h-24zM336 144h12v12h-12zM336 156h12v12h-12zM336 168h12v12h-12zM348 228h12v12h-12zM348 240h12v12h-12zM348 252h12v12h-12zM348 264h12v12h-12zM336 288h12v12h-12zM324 312h12v12h-12zM324 324h12v12h-12zM312 348h12v12h-12zM312 360h12v12h-12zM312 372h12v12h-12zM312 384h12v12h-12zM312 396h12v12h-12zM324 408h12v12h-12zM324 420h12v12h-12z"/><path fill="#6ad9fd" d="M228 24h12v12h-12zM228 36h12v12h-12zM228 48h12v12h-12zM240 60h12v12h-12zM252 72h48v12h-48zM288 84h24v12h-24zM312 96h12v12h-12zM324 108h12v12h-12zM336 120h12v12h-12zM348 132h12v12h-12zM348 144h12v12h-12zM348 156h12v12h-12zM348 168h12v12h-12zM348 180h12v12h-12zM348 192h12v12h-12zM348 204h12v12h-12zM348 216h12v12h-12zM348 276h12v12h-12zM348 288h12v12h-12zM336 300h12v12h-12zM336 312h12v12h-12zM324 336h12v12h-12zM324 348h12v12h-12zM324 384h12v12h-12zM324 396h12v12h-12zM336 408h12v12h-12zM336 420h12v12h-12z"/><path fill="#68e2fe" d="M228 -72h12v12h-12zM228 -60h12v12h-12zM228 -48h12v12h-12zM228 -36h12v12h-12zM228 -24h12v12h-12zM228 -12h12v12h-12zM228 0h12v12h-12zM228 12h12v12h-12zM240 36h12v12h-12zM240 48h24v12h-24zM252 60h48v12h-48zM300 72h24v12h-24zM312 84h12v12h-12zM324 96h12v12h-12zM336 108h12v12h-12zM348 120h12v12h-12zM360 132h12v12h-12zM360 144h12v12h-12zM360 216h12v12h-12zM360 228h12v12h-12zM360 240h12v12h-12zM360 252h12v12h-12zM360 264h12v12h-12zM360 276h12v12h-12zM360 288h12v12h-12zM348 300h12v12h-12zM336 324h12v12h-12zM336 336h12v12h-12zM324 360h12v12h-12zM324 372h12v12h-12zM336 396h12v12h-12zM348 420h12v12h-12z"/><path fill="#67eafe" d="M240 -72h24v12h-24zM240 -60h24v12h-24zM240 -48h24v12h-24zM240 -36h24v12h-24zM240 -24h24v12h-24zM240 -12h24v12h-24zM240 0h24v12h-24zM240 12h24v12h-24zM240 24h24v12h-24zM252 36h36v12h-36zM264 48h48v12h-48zM300 60h24v12h-24zM324 72h12v12h-12zM324 84h24v12h-24zM336 96h24v12h-24zM348 108h24v12h-24zM360 120h12v12h-12zM360 156h12v12h-12zM360 168h12v12h-12zM360 180h12v12h-12zM360 192h12v12h-12zM360 204h12v12h-12zM372 240h12v12h-12zM372 252h12v12h-12zM372 264h12v12h-12zM372 276h12v12h-12zM372 288h12v12h-12zM360 300h12v12h-12zM348 312h24v12h-24zM348 324h12v12h-12zM348 336h12v12h-12zM336 348h24v12h-24zM336 360h12v12h-12zM336 372h24v12h-24zM336 384h24v12h-24zM348 396h12v12h-12zM348 408h12v12h-12zM360 420h12v12h-12z"/><path fill="#66f3ff" d="M264 -72h60v12h-60zM264 -60h72v12h-72zM264 -48h72v12h-72zM264 -36h72v12h-72zM264 -24h72v12h-72zM264 -12h72v12h-72zM264 0h72v12h-72zM264 12h72v12h-72zM264 24h72v12h-72zM288 36h48v12h-48zM312 48h36v12h-36zM324 60h24v12h-24zM336 72h24v12h-24zM348 84h24v12h-24zM360 96h12v12h-12zM372 108h12v12h-12zM372 120h12v12h-12zM372 132h12v12h-12zM372 144h12v12h-12zM372 216h12v12h-12zM372 228h12v12h-12zM384 264h12v12h-12zM384 276h12v12h-12zM384 288h12v12h-12zM372 300h24v12h-24zM372 312h12v12h-12zM360 324h24v12h-24zM360 336h24v12h-24zM360 348h24v12h-24zM348 360h36v12h-36zM360 372h24v12h-24zM360 384h24v12h-24zM360 396h24v12h-24zM360 408h24v12h-24zM372 420h12v12h-12z"/><path fill="#6ef4f8" d="M336 -60h12v12h-12zM336 -48h24v12h-24zM336 -36h24v12h-24zM336 -24h24v12h-24zM336 -12h24v12h-24zM336 0h24v12h-24zM336 12h24v12h-24zM336 24h24v12h-24zM336 36h24v12h-24zM348 48h12v12h-12zM348 60h12v12h-12zM360 72h12v12h-12zM372 84h12v12h-12zM372 96h12v12h-12zM372 156h12v12h-12zM372 168h12v12h-12zM372 192h12v12h-12zM372 204h12v12h-12zM384 228h12v12h-12zM384 240h12v12h-12zM384 252h12v12h-12zM384 312h12v12h-12zM384 324h12v12h-12zM384 336h12v12h-12zM384 348h12v12h-12zM624 348h24v12h-24zM384 360h12v12h-12zM384 372h12v12h-12zM384 384h12v12h-12zM384 396h12v12h-12zM384 408h12v12h-12zM384 420h12v12h-12z"/><path fill="#77f4f1" d="M360 -48h12v12h-12zM360 -36h12v12h-12zM360 -24h12v12h-12zM360 -12h12v12h-12zM360 0h12v12h-12zM360 12h12v12h-12zM360 24h12v12h-12zM360 36h12v12h-12zM360 48h12v12h-12zM360 60h24v12h-24zM372 72h12v12h-12zM384 84h12v12h-12zM384 96h12v12h-12zM384 108h12v12h-12zM384 120h12v12h-12zM384 132h12v12h-12zM384 144h12v12h-12zM372 180h12v12h-12zM384 216h12v12h-12zM396 252h12v12h-12zM396 264h12v12h-12zM396 276h12v12h-12zM396 288h12v12h-12zM396 300h12v12h-12zM396 312h12v12h-12zM396 324h12v12h-12zM396 336h12v12h-12zM612 336h24v12h-24zM396 348h12v12h-12zM600 348h24v12h-24zM396 360h12v12h-12zM396 372h12v12h-12zM396 384h12v12h-12zM396 396h12v12h-12zM396 408h12v12h-12zM396 420h12v12h-12z"/><path fill="#7ff5ea" d="M372 -36h12v12h-12zM372 -24h12v12h-12zM372 -12h12v12h-12zM372 0h12v12h-12zM372 12h12v12h-12zM372 24h12v12h-12zM372 36h12v12h-12zM372 48h12v12h-12zM384 60h12v12h-12zM384 72h12v12h-12zM384 156h12v12h-12zM384 204h12v12h-12zM396 228h12v12h-12zM396 240h12v12h-12zM408 276h12v12h-12zM408 288h12v12h-12zM408 300h12v12h-12zM408 312h12v12h-12zM408 324h12v12h-12zM408 336h12v12h-12zM600 336h12v12h-12zM636 336h12v12h-12zM408 348h12v12h-12zM588 348h12v12h-12zM408 360h12v12h-12zM408 372h12v12h-12zM408 384h12v12h-12zM408 396h12v12h-12zM408 408h12v12h-12zM408 420h12v12h-12z"/><path fill="#88f5e3" d="M384 -36h12v12h-12zM384 -24h12v12h-12zM384 -12h12v12h-12zM384 0h12v12h-12zM384 12h12v12h-12zM384 24h12v12h-12zM384 36h12v12h-12zM384 48h12v12h-12zM396 60h12v12h-12zM396 72h12v12h-12zM396 84h12v12h-12zM396 96h12v12h-12zM396 108h12v12h-12zM396 120h12v12h-12zM384 168h12v12h-12zM384 180h12v12h-12zM384 192h12v12h-12zM396 216h12v12h-12zM408 252h12v12h-12zM408 264h12v12h-12zM420 288h12v12h-12zM420 300h12v12h-12zM420 312h12v12h-12zM420 324h12v12h-12zM600 324h36v12h-36zM420 336h12v12h-12zM588 336h12v12h-12zM648 336h12v12h-12zM420 348h12v12h-12zM576 348h12v12h-12zM420 360h12v12h-12zM420 372h24v12h-24zM420 384h24v12h-24zM420 396h24v12h-24zM420 408h24v12h-24zM420 420h12v12h-12z"/><path fill="#90f6dc" d="M396 -24h12v12h-12zM396 -12h24v12h-24zM396 0h24v12h-24zM396 12h24v12h-24zM396 24h24v12h-24zM396 36h24v12h-24zM396 48h24v12h-24zM408 60h12v12h-12zM396 132h12v12h-12zM396 144h12v12h-12zM396 204h12v12h-12zM408 240h12v12h-12zM420 264h12v12h-12zM420 276h12v12h-12zM432 300h12v12h-12zM432 312h12v12h-12zM432 324h12v12h-12zM588 324h12v12h-12zM636 324h12v12h-12zM432 336h12v12h-12zM576 336h12v12h-12zM432 348h12v12h-12zM432 360h24v12h-24zM444 372h12v12h-12zM444 384h24v12h-24zM444 396h24v12h-24zM444 408h12v12h-12z"/><path fill="#98f7d6" d="M420 12h12v12h-12zM420 24h12v12h-12zM420 36h12v12h-12zM420 48h12v12h-12zM408 72h12v12h-12zM408 84h12v12h-12zM408 96h12v12h-12zM396 156h12v12h-12zM396 168h12v12h-12zM396 192h12v12h-12zM408 228h12v12h-12zM420 252h12v12h-12zM432 276h12v12h-12zM432 288h12v12h-12zM444 324h12v12h-12zM576 324h12v12h-12zM444 336h12v12h-12zM564 336h12v12h-12zM444 348h12v12h-12zM564 348h12v12h-12zM456 360h12v12h-12zM456 372h24v12h-24zM468 384h12v12h-12z"/><path fill="#a1f7cf" d="M432 12h12v12h-12zM432 24h12v12h-12zM432 36h12v12h-12zM420 60h12v12h-12zM420 72h12v12h-12zM408 108h12v12h-12zM408 120h12v12h-12zM396 180h12v12h-12zM408 216h12v12h-12zM420 240h12v12h-12zM432 264h12v12h-12zM444 276h12v12h-12zM444 288h12v12h-12zM444 300h12v12h-12zM444 312h12v12h-12zM588 312h48v12h-48zM564 324h12v12h-12zM648 324h12v12h-12zM456 336h12v12h-12zM552 336h12v12h-12zM456 348h12v12h-12zM552 348h12v12h-12zM468 360h12v12h-12zM480 384h12v12h-12z"/><path fill="#a9f8c8" d="M432 48h12v12h-12zM420 84h12v12h-12zM408 132h12v12h-12zM408 204h12v12h-12zM420 228h12v12h-12zM432 252h12v12h-12zM444 264h12v12h-12zM456 288h12v12h-12zM456 300h12v12h-12zM456 312h12v12h-12zM576 312h12v12h-12zM456 324h12v12h-12zM552 324h12v12h-12zM468 336h12v12h-12zM540 336h12v12h-12zM468 348h12v12h-12zM540 348h12v12h-12zM480 360h12v12h-12zM480 372h12v12h-12z"/><path fill="#b2f8c1" d="M444 12h12v12h-12zM444 24h12v12h-12zM444 36h12v12h-12zM432 60h12v12h-12zM420 96h12v12h-12zM408 144h12v12h-12zM408 156h12v12h-12zM408 168h12v12h-12zM408 180h12v12h-12zM408 192h12v12h-12zM432 240h12v12h-12zM456 276h12v12h-12zM468 300h12v12h-12zM468 312h12v12h-12zM564 312h12v12h-12zM636 312h12v12h-12zM468 324h12v12h-12zM540 324h12v12h-12zM480 336h12v12h-12zM528 336h12v12h-12zM480 348h12v12h-12zM528 348h12v12h-12zM492 360h12v12h-12zM516 360h12v12h-12zM492 372h12v12h-12z"/><path fill="#baf9ba" d="M444 48h12v12h-12zM432 72h12v12h-12zM420 108h12v12h-12zM420 216h12v12h-12zM444 252h12v12h-12zM456 264h12v12h-12zM468 276h12v12h-12zM468 288h12v12h-12zM480 300h12v12h-12zM600 300h24v12h-24zM480 312h24v12h-24zM540 312h24v12h-24zM480 324h60v12h-60zM492 336h36v12h-36zM492 348h36v12h-36zM504 360h12v12h-12z"/><path fill="#c1f9b2" d="M456 12h12v12h-12zM456 24h12v12h-12zM684 48h12v12h-12zM444 60h12v12h-12zM684 60h12v12h-12zM684 72h24v12h-24zM432 84h12v12h-12zM696 84h12v12h-12zM420 120h12v12h-12zM420 204h12v12h-12zM432 228h12v12h-12zM480 288h12v12h-12zM492 300h24v12h-24zM576 300h24v12h-24zM624 300h12v12h-12zM504 312h36v12h-36zM648 312h12v12h-12zM660 324h12v12h-12z"/><path fill="#c8f9a9" d="M456 36h12v12h-12zM456 48h12v12h-12zM672 48h12v12h-12zM672 60h12v12h-12zM444 72h12v12h-12zM672 72h12v12h-12zM684 84h12v12h-12zM432 96h12v12h-12zM708 96h12v12h-12zM420 132h12v12h-12zM420 144h12v12h-12zM420 192h12v12h-12zM432 216h12v12h-12zM444 240h12v12h-12zM456 252h12v12h-12zM468 264h12v12h-12zM480 276h12v12h-12zM492 288h12v12h-12zM516 300h60v12h-60z"/><path fill="#cff9a1" d="M468 12h12v12h-12zM672 36h12v12h-12zM672 84h12v12h-12zM684 96h24v12h-24zM432 108h12v12h-12zM420 156h12v12h-12zM420 168h12v12h-12zM420 180h12v12h-12zM444 228h12v12h-12zM480 264h12v12h-12zM492 276h12v12h-12zM504 288h24v12h-24zM636 300h12v12h-12z"/><path fill="#d6f998" d="M468 24h12v12h-12zM468 36h12v12h-12zM660 36h12v12h-12zM660 48h12v12h-12zM456 60h12v12h-12zM660 60h12v12h-12zM660 72h12v12h-12zM444 84h12v12h-12zM660 84h12v12h-12zM672 96h12v12h-12zM684 108h36v12h-36zM432 120h12v12h-12zM432 204h12v12h-12zM456 240h12v12h-12zM468 252h12v12h-12zM504 276h12v12h-12zM528 288h24v12h-24zM588 288h24v12h-24zM660 312h12v12h-12z"/><path fill="#dcf990" d="M636 0h12v12h-12zM480 12h12v12h-12zM636 12h24v12h-24zM648 24h24v12h-24zM468 48h12v12h-12zM456 72h12v12h-12zM444 96h12v12h-12zM660 96h12v12h-12zM672 108h12v12h-12zM432 132h12v12h-12zM432 192h12v12h-12zM444 216h12v12h-12zM480 252h12v12h-12zM492 264h12v12h-12zM516 276h12v12h-12zM552 288h36v12h-36zM612 288h24v12h-24zM648 300h12v12h-12z"/><path fill="#e3f988" d="M612 0h24v12h-24zM612 12h24v12h-24zM480 24h12v12h-12zM624 24h24v12h-24zM480 36h12v12h-12zM636 36h24v12h-24zM648 48h12v12h-12zM468 60h12v12h-12zM648 60h12v12h-12zM684 120h36v12h-36zM432 144h12v12h-12zM432 156h12v12h-12zM432 168h12v12h-12zM432 180h12v12h-12zM456 228h12v12h-12zM468 240h12v12h-12zM504 264h12v12h-12zM528 276h12v12h-12zM636 288h12v12h-12z"/><path fill="#eaf97f" d="M492 0h12v12h-12zM600 0h12v12h-12zM492 12h12v12h-12zM600 12h12v12h-12zM492 24h12v12h-12zM600 24h24v12h-24zM612 36h24v12h-24zM480 48h12v12h-12zM636 48h12v12h-12zM648 72h12v12h-12zM456 84h12v12h-12zM648 84h12v12h-12zM444 108h12v12h-12zM660 108h12v12h-12zM672 120h12v12h-12zM444 204h12v12h-12zM492 252h12v12h-12zM516 264h12v12h-12zM540 276h12v12h-12zM660 300h12v12h-12z"/><path fill="#f1f977" d="M504 -12h12v12h-12zM504 0h12v12h-12zM588 0h12v12h-12zM504 12h12v12h-12zM588 12h12v12h-12zM504 24h12v12h-12zM588 24h12v12h-12zM492 36h12v12h-12zM600 36h12v12h-12zM624 48h12v12h-12zM480 60h12v12h-12zM468 72h12v12h-12zM648 96h12v12h-12zM444 120h12v12h-12zM660 120h12v12h-12zM684 132h36v12h-36zM444 192h12v12h-12zM456 216h12v12h-12zM468 228h12v12h-12zM480 240h12v12h-12zM504 252h12v12h-12zM528 264h12v12h-12zM552 276h84v12h-84zM648 288h12v12h-12zM672 300h12v12h-12z"/><path fill="#f8f96e" d="M516 -12h12v12h-12zM516 0h12v12h-12zM564 0h24v12h-24zM516 12h12v12h-12zM576 12h12v12h-12zM516 24h12v12h-12zM576 24h12v12h-12zM504 36h12v12h-12zM588 36h12v12h-12zM492 48h12v12h-12zM612 48h12v12h-12zM636 60h12v12h-12zM456 96h12v12h-12zM648 108h12v12h-12zM444 132h12v12h-12zM672 132h12v12h-12zM444 144h12v12h-12zM684 144h36v12h-36zM444 180h12v12h-12zM492 240h12v12h-12zM516 252h12v12h-12zM540 264h12v12h-12zM636 276h24v12h-24zM660 288h24v12h-24z"/><path fill="#fff966" d="M528 0h36v12h-36zM528 12h48v12h-48zM528 24h48v12h-48zM516 36h12v12h-12zM576 36h12v12h-12zM504 48h12v12h-12zM600 48h12v12h-12zM492 60h12v12h-12zM624 60h12v12h-12zM480 72h12v12h-12zM636 72h12v12h-12zM468 84h12v12h-12zM456 108h12v12h-12zM648 120h12v12h-12zM660 132h12v12h-12zM660 144h24v12h-24zM444 156h12v12h-12zM672 156h48v12h-48zM444 168h12v12h-12zM672 168h48v12h-48zM672 180h48v12h-48zM672 192h48v12h-48zM456 204h12v12h-12zM672 204h48v12h-48zM468 216h12v12h-12zM684 216h24v12h-24zM480 228h12v12h-12zM684 228h24v12h-24zM672 240h36v12h-36zM672 252h36v12h-36zM552 264h12v12h-12zM648 264h48v12h-48zM660 276h36v12h-36z"/><path fill="#fff366" d="M528 36h48v12h-48zM516 48h12v12h-12zM588 48h12v12h-12zM636 84h12v12h-12zM648 132h12v12h-12zM660 156h12v12h-12zM660 168h12v12h-12zM660 180h12v12h-12zM456 192h12v12h-12zM660 192h12v12h-12zM660 204h12v12h-12zM660 216h24v12h-24zM492 228h12v12h-12zM660 228h24v12h-24zM504 240h12v12h-12zM660 240h12v12h-12zM528 252h12v12h-12zM648 252h24v12h-24zM564 264h84v12h-84z"/><path fill="#ffec66" d="M528 48h60v12h-60zM504 60h12v12h-12zM612 60h12v12h-12zM492 72h12v12h-12zM468 96h12v12h-12zM636 96h12v12h-12zM636 108h12v12h-12zM456 120h12v12h-12zM648 144h12v12h-12zM648 156h12v12h-12zM648 168h12v12h-12zM648 180h12v12h-12zM648 192h12v12h-12zM468 204h12v12h-12zM648 204h12v12h-12zM480 216h12v12h-12zM648 216h12v12h-12zM648 228h12v12h-12zM516 240h12v12h-12zM648 240h12v12h-12zM540 252h12v12h-12zM636 252h12v12h-12z"/><path fill="#ffe666" d="M516 60h12v12h-12zM588 60h24v12h-24zM624 72h12v12h-12zM480 84h12v12h-12zM636 120h12v12h-12zM456 132h12v12h-12zM456 144h12v12h-12zM456 156h12v12h-12zM456 168h12v12h-12zM636 168h12v12h-12zM456 180h12v12h-12zM636 180h12v12h-12zM636 192h12v12h-12zM636 204h12v12h-12zM504 228h12v12h-12zM528 240h12v12h-12zM636 240h12v12h-12zM552 252h12v12h-12zM624 252h12v12h-12z"/><path fill="#ffe066" d="M528 60h60v12h-60zM504 72h12v12h-12zM492 84h12v12h-12zM624 84h12v12h-12zM480 96h12v12h-12zM468 108h12v12h-12zM636 132h12v12h-12zM636 144h12v12h-12zM636 156h12v12h-12zM624 180h12v12h-12zM468 192h12v12h-12zM480 204h12v12h-12zM492 216h12v12h-12zM636 216h12v12h-12zM516 228h12v12h-12zM636 228h12v12h-12zM540 240h12v12h-12zM624 240h12v12h-12zM564 252h60v12h-60z"/><path fill="#ffda66" d="M516 72h12v12h-12zM612 72h12v12h-12zM468 120h12v12h-12zM624 156h12v12h-12zM624 168h12v12h-12zM624 192h12v12h-12zM624 204h12v12h-12zM504 216h12v12h-12zM624 216h12v12h-12zM528 228h12v12h-12zM624 228h12v12h-12zM552 240h12v12h-12zM612 240h12v12h-12z"/><path fill="#ffd366" d="M528 72h12v12h-12zM600 72h12v12h-12zM504 84h12v12h-12zM492 96h12v12h-12zM624 96h12v12h-12zM480 108h12v12h-12zM624 108h12v12h-12zM624 120h12v12h-12zM468 132h12v12h-12zM624 132h12v12h-12zM468 144h12v12h-12zM624 144h12v12h-12zM468 168h12v12h-12zM612 168h12v12h-12zM468 180h12v12h-12zM612 180h12v12h-12zM480 192h12v12h-12zM612 192h12v12h-12zM492 204h12v12h-12zM612 204h12v12h-12zM516 216h12v12h-12zM540 228h12v12h-12zM612 228h12v12h-12zM564 240h48v12h-48z"/><path fill="#ffcd66" d="M540 72h60v12h-60zM516 84h12v12h-12zM612 84h12v12h-12zM480 120h12v12h-12zM468 156h12v12h-12zM612 156h12v12h-12zM600 168h12v12h-12zM600 180h12v12h-12zM600 192h12v12h-12zM504 204h24v12h-24zM600 204h12v12h-12zM528 216h24v12h-24zM612 216h12v12h-12zM552 228h12v12h-12zM600 228h12v12h-12z"/><path fill="#ffc766" d="M528 84h12v12h-12zM504 96h12v12h-12zM492 108h12v12h-12zM480 132h12v12h-12zM612 132h12v12h-12zM612 144h12v12h-12zM600 156h12v12h-12zM480 168h12v12h-12zM588 168h12v12h-12zM480 180h12v12h-12zM588 180h12v12h-12zM492 192h24v12h-24zM588 192h12v12h-12zM528 204h24v12h-24zM588 204h12v12h-12zM552 216h12v12h-12zM588 216h24v12h-24zM564 228h36v12h-36z"/><path fill="#ffc066" d="M540 84h12v12h-12zM600 84h12v12h-12zM516 96h12v12h-12zM612 96h12v12h-12zM504 108h12v12h-12zM612 108h12v12h-12zM492 120h12v12h-12zM612 120h12v12h-12zM480 144h12v12h-12zM600 144h12v12h-12zM480 156h12v12h-12zM588 156h12v12h-12zM576 168h12v12h-12zM492 180h12v12h-12zM576 180h12v12h-12zM516 192h72v12h-72zM552 204h36v12h-36zM564 216h24v12h-24z"/><path fill="#ffba66" d="M552 84h48v12h-48zM528 96h12v12h-12zM492 132h12v12h-12zM600 132h12v12h-12zM492 144h12v12h-12zM576 144h24v12h-24zM492 156h12v12h-12zM564 156h24v12h-24zM492 168h12v12h-12zM552 168h24v12h-24zM504 180h72v12h-72z"/><path fill="#feb266" d="M540 96h24v12h-24zM588 96h24v12h-24zM516 108h24v12h-24zM600 108h12v12h-12zM504 120h12v12h-12zM588 120h24v12h-24zM504 132h12v12h-12zM564 132h36v12h-36zM552 144h24v12h-24zM504 156h12v12h-12zM540 156h24v12h-24zM504 168h48v12h-48z"/><path fill="#fda966" d="M564 96h24v12h-24zM540 108h60v12h-60zM516 120h72v12h-72zM516 132h48v12h-48zM504 144h48v12h-48zM516 156h24v12h-24z"/></g></g><g clip-path="url(#cs)"><g filter="url(#bl)"><path fill="#6f88ee" d="M180 528h24v12h-24zM156 540h48v12h-48zM144 552h60v12h-60zM132 564h72v12h-72zM108 576h96v12h-96zM96 588h108v12h-108zM84 600h120v12h-120zM84 612h120v12h-120zM72 624h132v12h-132zM84 636h120v12h-120zM84 648h120v12h-120zM84 660h120v12h-120zM96 672h108v12h-108zM108 684h96v12h-96zM120 696h84v12h-84zM132 708h84v12h-84zM144 720h72v12h-72zM144 732h72v12h-72zM156 744h48v12h-48zM168 756h24v12h-24z"/><path fill="#708cf1" d="M204 516h12v12h-12zM204 528h12v12h-12zM204 540h12v12h-12zM204 552h12v12h-12zM204 564h12v12h-12zM204 576h12v12h-12zM204 588h12v12h-12zM204 600h12v12h-12zM204 612h12v12h-12zM204 624h12v12h-12zM204 636h12v12h-12zM204 648h12v12h-12zM204 660h12v12h-12zM204 672h12v12h-12zM204 684h24v12h-24zM204 696h24v12h-24zM216 708h24v12h-24zM216 720h24v12h-24zM216 732h24v12h-24zM204 744h24v12h-24zM192 756h24v12h-24zM180 768h12v12h-12z"/><path fill="#7090f3" d="M216 516h12v12h-12zM216 528h12v12h-12zM216 540h12v12h-12zM216 552h12v12h-12zM216 564h12v12h-12zM216 576h12v12h-12zM216 588h12v12h-12zM216 600h12v12h-12zM216 612h12v12h-12zM216 624h12v12h-12zM216 636h12v12h-12zM216 648h12v12h-12zM216 660h12v12h-12zM216 672h12v12h-12zM228 684h12v12h-12zM228 696h12v12h-12zM240 708h12v12h-12zM240 720h24v12h-24zM240 732h24v12h-24zM228 744h24v12h-24zM216 756h12v12h-12zM192 768h12v12h-12z"/><path fill="#7194f5" d="M228 504h12v12h-12zM228 516h12v12h-12zM228 528h12v12h-12zM228 540h12v12h-12zM228 552h12v12h-12zM228 564h12v12h-12zM228 576h12v12h-12zM228 588h12v12h-12zM228 600h12v12h-12zM228 612h12v12h-12zM228 624h12v12h-12zM228 636h12v12h-12zM228 648h12v12h-12zM228 660h12v12h-12zM228 672h24v12h-24zM240 684h12v12h-12zM240 696h24v12h-24zM252 708h24v12h-24zM264 720h12v12h-12zM264 732h12v12h-12zM252 744h24v12h-24zM228 756h24v12h-24zM204 768h24v12h-24zM192 780h12v12h-12z"/><path fill="#7198f7" d="M240 504h12v12h-12zM240 516h24v12h-24zM240 528h24v12h-24zM240 540h24v12h-24zM240 552h24v12h-24zM240 564h24v12h-24zM240 576h24v12h-24zM240 588h24v12h-24zM240 600h24v12h-24zM240 612h24v12h-24zM240 624h24v12h-24zM240 636h24v12h-24zM240 648h24v12h-24zM240 660h24v12h-24zM252 672h12v12h-12zM252 684h24v12h-24zM264 696h24v12h-24zM276 708h12v12h-12zM276 720h12v12h-12zM276 732h12v12h-12zM276 744h12v12h-12zM252 756h24v12h-24zM228 768h24v12h-24zM204 780h12v12h-12z"/><path fill="#729cf9" d="M252 492h24v12h-24zM252 504h24v12h-24zM264 516h24v12h-24zM264 528h24v12h-24zM264 540h24v12h-24zM264 552h36v12h-36zM264 564h36v12h-36zM264 576h48v12h-48zM264 588h60v12h-60zM264 600h60v12h-60zM264 612h72v12h-72zM264 624h72v12h-72zM264 636h72v12h-72zM264 648h72v12h-72zM264 660h72v12h-72zM264 672h60v12h-60zM276 684h48v12h-48zM288 696h24v12h-24zM288 708h24v12h-24zM288 720h12v12h-12zM288 732h12v12h-12zM288 744h12v12h-12zM276 756h24v12h-24zM252 768h36v12h-36zM216 780h12v12h-12z"/><path fill="#71a5fa" d="M276 492h12v12h-12zM276 504h12v12h-12zM288 516h12v12h-12zM288 528h12v12h-12zM288 540h24v12h-24zM300 552h12v12h-12zM300 564h24v12h-24zM312 576h24v12h-24zM324 588h24v12h-24zM324 600h24v12h-24zM336 612h12v12h-12zM336 624h24v12h-24zM336 636h24v12h-24zM336 648h24v12h-24zM336 660h12v12h-12zM324 672h24v12h-24zM324 684h24v12h-24zM312 696h24v12h-24zM312 708h12v12h-12zM300 720h12v12h-12zM300 732h12v12h-12zM300 744h12v12h-12zM300 756h12v12h-12zM288 768h12v12h-12zM228 780h60v12h-60zM204 792h12v12h-12z"/><path fill="#70adfa" d="M288 504h12v12h-12zM300 516h12v12h-12zM300 528h12v12h-12zM312 540h12v12h-12zM312 552h12v12h-12zM324 564h12v12h-12zM336 576h12v12h-12zM348 588h12v12h-12zM348 600h12v12h-12zM348 612h12v12h-12zM348 660h12v12h-12zM348 672h12v12h-12zM348 684h12v12h-12zM336 696h12v12h-12zM324 708h12v12h-12zM312 720h12v12h-12zM312 732h12v12h-12zM312 744h12v12h-12zM312 756h12v12h-12zM300 768h12v12h-12zM288 780h24v12h-24zM216 792h72v12h-72z"/><path fill="#6eb6fb" d="M288 480h12v12h-12zM288 492h12v12h-12zM300 504h12v12h-12zM312 516h12v12h-12zM312 528h12v12h-12zM324 540h12v12h-12zM324 552h12v12h-12zM336 564h12v12h-12zM348 576h12v12h-12zM360 588h12v12h-12zM360 600h12v12h-12zM360 612h12v12h-12zM360 624h12v12h-12zM360 636h12v12h-12zM360 648h12v12h-12zM360 660h12v12h-12zM360 672h12v12h-12zM360 684h12v12h-12zM348 696h12v12h-12zM336 708h12v12h-12zM324 720h12v12h-12zM324 732h12v12h-12zM324 744h12v12h-12zM312 768h12v12h-12zM288 792h12v12h-12zM204 804h72v12h-72z"/><path fill="#6dbffb" d="M300 480h12v12h-12zM300 492h12v12h-12zM312 504h12v12h-12zM324 516h12v12h-12zM324 528h12v12h-12zM336 540h12v12h-12zM336 552h12v12h-12zM348 564h12v12h-12zM360 576h12v12h-12zM372 600h12v12h-12zM372 612h12v12h-12zM372 624h12v12h-12zM372 636h12v12h-12zM372 648h12v12h-12zM372 660h12v12h-12zM372 672h12v12h-12zM360 696h12v12h-12zM348 708h12v12h-12zM336 720h12v12h-12zM336 732h12v12h-12zM324 756h12v12h-12zM324 768h12v12h-12zM312 780h12v12h-12zM300 792h12v12h-12zM276 804h24v12h-24zM216 816h60v12h-60z"/><path fill="#6cc8fc" d="M312 468h24v12h-24zM312 480h24v12h-24zM312 492h24v12h-24zM324 504h12v12h-12zM336 516h12v12h-12zM336 528h12v12h-12zM348 552h12v12h-12zM360 564h12v12h-12zM372 576h12v12h-12zM372 588h12v12h-12zM384 600h12v12h-12zM384 612h12v12h-12zM384 624h12v12h-12zM384 636h12v12h-12zM384 648h12v12h-12zM372 684h12v12h-12zM360 708h12v12h-12zM348 720h12v12h-12zM336 744h12v12h-12zM336 756h12v12h-12zM336 768h12v12h-12zM324 780h12v12h-12zM312 792h12v12h-12zM300 804h12v12h-12zM276 816h24v12h-24zM216 828h60v12h-60zM228 840h24v12h-24zM228 852h12v12h-12z"/><path fill="#6bd0fd" d="M336 456h24v12h-24zM336 468h24v12h-24zM336 480h24v12h-24zM336 492h24v12h-24zM336 504h24v12h-24zM348 516h12v12h-12zM348 528h12v12h-12zM348 540h12v12h-12zM360 552h12v12h-12zM372 564h12v12h-12zM384 588h12v12h-12zM396 612h12v12h-12zM396 624h12v12h-12zM384 660h12v12h-12zM384 672h12v12h-12zM372 696h12v12h-12zM360 720h12v12h-12zM348 732h12v12h-12zM348 744h12v12h-12zM348 756h12v12h-12zM348 768h12v12h-12zM336 780h12v12h-12zM324 792h12v12h-12zM312 804h12v12h-12zM300 816h12v12h-12zM276 828h24v12h-24zM252 840h24v12h-24zM240 852h12v12h-12z"/><path fill="#6ad9fd" d="M360 456h12v12h-12zM360 468h12v12h-12zM360 480h12v12h-12zM360 492h12v12h-12zM360 504h12v12h-12zM360 516h12v12h-12zM360 528h12v12h-12zM360 540h12v12h-12zM372 552h12v12h-12zM384 564h12v12h-12zM384 576h12v12h-12zM396 588h12v12h-12zM396 600h12v12h-12zM396 636h12v12h-12zM396 648h12v12h-12zM396 660h12v12h-12zM384 684h12v12h-12zM384 696h12v12h-12zM372 708h12v12h-12zM360 732h12v12h-12zM360 744h12v12h-12zM360 756h12v12h-12zM348 780h12v12h-12zM336 792h12v12h-12zM324 804h12v12h-12zM312 816h12v12h-12zM300 828h12v12h-12zM276 840h24v12h-24zM252 852h24v12h-24zM240 864h12v12h-12z"/><path fill="#68e2fe" d="M372 456h12v12h-12zM372 468h12v12h-12zM372 480h12v12h-12zM372 492h12v12h-12zM372 504h12v12h-12zM372 516h12v12h-12zM372 528h12v12h-12zM372 540h12v12h-12zM384 552h12v12h-12zM396 564h12v12h-12zM396 576h12v12h-12zM408 588h12v12h-12zM408 600h12v12h-12zM408 612h12v12h-12zM408 624h12v12h-12zM408 636h12v12h-12zM396 672h12v12h-12zM396 684h12v12h-12zM384 708h12v12h-12zM372 720h12v12h-12zM372 732h12v12h-12zM360 768h12v12h-12zM360 780h12v12h-12zM348 792h12v12h-12zM336 804h12v12h-12zM324 816h12v12h-12zM312 828h12v12h-12zM300 840h24v12h-24zM276 852h24v12h-24zM252 864h24v12h-24z"/><path fill="#67eafe" d="M384 444h12v12h-12zM384 456h12v12h-12zM384 468h12v12h-12zM384 480h12v12h-12zM384 492h12v12h-12zM384 504h12v12h-12zM384 516h12v12h-12zM384 528h12v12h-12zM384 540h24v12h-24zM396 552h24v12h-24zM408 564h12v12h-12zM408 576h12v12h-12zM420 588h12v12h-12zM420 600h12v12h-12zM420 612h12v12h-12zM420 624h12v12h-12zM408 648h12v12h-12zM408 660h12v12h-12zM396 696h12v12h-12zM384 720h12v12h-12zM372 744h12v12h-12zM372 756h12v12h-12zM372 768h12v12h-12zM372 780h12v12h-12zM360 792h12v12h-12zM348 804h24v12h-24zM336 816h24v12h-24zM324 828h24v12h-24zM324 840h12v12h-12zM300 852h24v12h-24zM276 864h36v12h-36zM252 876h36v12h-36zM252 888h12v12h-12z"/><path fill="#66f3ff" d="M396 444h36v12h-36zM396 456h36v12h-36zM396 468h36v12h-36zM396 480h36v12h-36zM396 492h36v12h-36zM396 504h36v12h-36zM396 516h36v12h-36zM396 528h36v12h-36zM408 540h24v12h-24zM420 552h12v12h-12zM420 564h12v12h-12zM420 576h12v12h-12zM432 588h12v12h-12zM432 600h12v12h-12zM432 612h12v12h-12zM420 636h12v12h-12zM420 648h12v12h-12zM408 672h12v12h-12zM408 684h12v12h-12zM396 708h12v12h-12zM384 732h12v12h-12zM384 744h12v12h-12zM384 756h12v12h-12zM384 768h12v12h-12zM384 780h12v12h-12zM372 792h24v12h-24zM372 804h12v12h-12zM360 816h12v12h-12zM348 828h12v12h-12zM336 840h24v12h-24zM324 852h24v12h-24zM312 864h36v12h-36zM288 876h48v12h-48zM264 888h72v12h-72zM276 900h12v12h-12z"/><path fill="#6ef4f8" d="M432 456h12v12h-12zM432 468h12v12h-12zM432 480h12v12h-12zM432 492h12v12h-12zM432 504h12v12h-12zM432 516h12v12h-12zM432 528h12v12h-12zM432 540h12v12h-12zM432 552h12v12h-12zM432 564h12v12h-12zM432 576h12v12h-12zM432 624h12v12h-12zM432 636h12v12h-12zM420 660h12v12h-12zM408 696h12v12h-12zM396 720h12v12h-12zM396 732h12v12h-12zM396 744h12v12h-12zM396 756h12v12h-12zM396 768h12v12h-12zM396 780h12v12h-12zM384 804h12v12h-12zM372 816h24v12h-24zM360 828h24v12h-24zM360 840h12v12h-12zM348 852h12v12h-12zM348 864h12v12h-12zM336 876h24v12h-24zM336 888h24v12h-24z"/><path fill="#77f4f1" d="M444 456h12v12h-12zM444 468h12v12h-12zM444 480h12v12h-12zM444 492h12v12h-12zM444 504h12v12h-12zM444 516h12v12h-12zM444 528h12v12h-12zM444 540h12v12h-12zM444 552h12v12h-12zM444 564h12v12h-12zM444 576h12v12h-12zM444 588h12v12h-12zM444 600h12v12h-12zM444 612h12v12h-12zM444 624h12v12h-12zM444 636h12v12h-12zM432 648h12v12h-12zM420 672h12v12h-12zM408 708h12v12h-12zM408 720h12v12h-12zM396 792h12v12h-12zM396 804h12v12h-12zM396 816h12v12h-12zM384 828h12v12h-12zM372 840h12v12h-12zM360 852h12v12h-12zM360 864h12v12h-12zM360 876h12v12h-12zM360 888h12v12h-12z"/><path fill="#7ff5ea" d="M456 456h12v12h-12zM456 468h12v12h-12zM456 480h12v12h-12zM456 492h12v12h-12zM456 504h12v12h-12zM456 516h12v12h-12zM456 528h12v12h-12zM456 540h12v12h-12zM456 552h12v12h-12zM456 564h12v12h-12zM456 576h12v12h-12zM456 588h12v12h-12zM456 600h12v12h-12zM456 612h12v12h-12zM444 648h12v12h-12zM432 660h12v12h-12zM420 684h12v12h-12zM420 696h12v12h-12zM408 732h12v12h-12zM408 744h12v12h-12zM408 756h12v12h-12zM408 768h12v12h-12zM408 780h12v12h-12zM408 792h12v12h-12zM408 804h12v12h-12zM396 828h12v12h-12zM384 840h12v12h-12zM372 852h12v12h-12zM372 864h12v12h-12zM372 876h12v12h-12z"/><path fill="#88f5e3" d="M468 456h12v12h-12zM468 468h24v12h-24zM468 480h12v12h-12zM468 492h12v12h-12zM468 504h12v12h-12zM468 516h12v12h-12zM468 528h12v12h-12zM456 624h12v12h-12zM456 636h12v12h-12zM444 660h12v12h-12zM432 672h12v12h-12zM432 684h12v12h-12zM420 708h12v12h-12zM420 720h12v12h-12zM420 732h12v12h-12zM420 744h12v12h-12zM420 756h12v12h-12zM420 768h12v12h-12zM420 780h12v12h-12zM408 816h12v12h-12zM408 828h12v12h-12zM396 840h12v12h-12zM384 852h12v12h-12zM384 864h12v12h-12z"/><path fill="#90f6dc" d="M480 480h24v12h-24zM480 492h24v12h-24zM480 504h12v12h-12zM480 516h12v12h-12zM468 540h12v12h-12zM468 552h12v12h-12zM468 564h12v12h-12zM468 576h12v12h-12zM468 588h12v12h-12zM468 600h12v12h-12zM468 612h12v12h-12zM468 624h12v12h-12zM456 648h12v12h-12zM444 672h12v12h-12zM432 696h12v12h-12zM420 792h12v12h-12zM420 804h12v12h-12zM420 816h12v12h-12zM408 840h12v12h-12zM396 852h12v12h-12zM384 876h12v12h-12zM384 888h12v12h-12z"/><path fill="#98f7d6" d="M504 480h12v12h-12zM504 492h12v12h-12zM492 504h12v12h-12zM480 528h12v12h-12zM480 540h12v12h-12zM468 636h12v12h-12zM468 648h12v12h-12zM456 660h12v12h-12zM444 684h12v12h-12zM432 708h12v12h-12zM432 720h12v12h-12zM432 732h12v12h-12zM432 744h12v12h-12zM432 756h12v12h-12zM432 768h12v12h-12zM432 780h12v12h-12zM432 792h12v12h-12zM432 804h12v12h-12zM420 828h12v12h-12zM420 840h12v12h-12zM408 852h12v12h-12zM396 864h12v12h-12zM396 876h12v12h-12zM396 888h12v12h-12z"/><path fill="#a1f7cf" d="M492 516h12v12h-12zM480 552h12v12h-12zM480 564h12v12h-12zM480 576h12v12h-12zM480 588h12v12h-12zM480 600h12v12h-12zM480 612h12v12h-12zM480 624h12v12h-12zM456 672h12v12h-12zM444 696h12v12h-12zM432 816h12v12h-12zM432 828h12v12h-12zM420 852h12v12h-12zM408 864h12v12h-12zM408 876h12v12h-12zM408 888h12v12h-12z"/><path fill="#a9f8c8" d="M516 492h12v12h-12zM504 504h12v12h-12zM492 528h12v12h-12zM492 540h12v12h-12zM480 636h12v12h-12zM480 648h12v12h-12zM468 660h12v12h-12zM456 684h12v12h-12zM444 708h12v12h-12zM444 720h12v12h-12zM444 732h12v12h-12zM444 744h12v12h-12zM444 756h12v12h-12zM444 768h12v12h-12zM444 780h12v12h-12zM444 792h12v12h-12zM432 840h12v12h-12zM432 852h12v12h-12zM420 864h12v12h-12zM420 876h12v12h-12zM420 888h12v12h-12z"/><path fill="#b2f8c1" d="M516 504h12v12h-12zM504 516h12v12h-12zM492 552h12v12h-12zM492 564h12v12h-12zM492 576h12v12h-12zM492 588h12v12h-12zM492 600h12v12h-12zM492 612h12v12h-12zM492 624h12v12h-12zM480 660h12v12h-12zM468 672h12v12h-12zM456 696h12v12h-12zM444 804h12v12h-12zM444 816h12v12h-12zM444 828h12v12h-12zM444 840h12v12h-12zM444 852h12v12h-12zM432 864h24v12h-24zM432 876h24v12h-24zM432 888h12v12h-12z"/><path fill="#baf9ba" d="M504 528h12v12h-12zM492 636h12v12h-12zM468 684h12v12h-12zM456 708h12v12h-12zM456 720h12v12h-12zM456 852h12v12h-12zM456 864h12v12h-12zM456 876h12v12h-12zM444 888h36v12h-36z"/><path fill="#c1f9b2" d="M528 504h12v12h-12zM516 516h12v12h-12zM504 540h12v12h-12zM504 552h12v12h-12zM504 564h12v12h-12zM492 648h12v12h-12zM480 672h12v12h-12zM468 696h12v12h-12zM456 732h12v12h-12zM456 744h12v12h-12zM456 756h12v12h-12zM456 768h12v12h-12zM456 780h12v12h-12zM456 792h12v12h-12zM456 804h12v12h-12zM456 816h12v12h-12zM456 828h12v12h-12zM456 840h12v12h-12zM468 864h12v12h-12zM468 876h12v12h-12zM480 888h12v12h-12z"/><path fill="#c8f9a9" d="M516 528h12v12h-12zM504 576h12v12h-12zM504 588h12v12h-12zM504 600h12v12h-12zM504 612h12v12h-12zM504 624h12v12h-12zM492 660h12v12h-12zM480 684h12v12h-12zM468 708h12v12h-12zM468 720h12v12h-12zM468 852h12v12h-12zM480 876h12v12h-12z"/><path fill="#cff9a1" d="M528 516h12v12h-12zM516 540h12v12h-12zM516 552h12v12h-12zM504 636h12v12h-12zM504 648h12v12h-12zM492 672h12v12h-12zM480 696h12v12h-12zM468 732h12v12h-12zM468 744h12v12h-12zM468 756h12v12h-12zM468 768h12v12h-12zM468 780h12v12h-12zM468 792h12v12h-12zM468 804h12v12h-12zM468 816h12v12h-12zM468 828h12v12h-12zM468 840h12v12h-12zM480 864h12v12h-12z"/><path fill="#d6f998" d="M540 516h12v12h-12zM528 528h12v12h-12zM528 540h12v12h-12zM516 564h12v12h-12zM516 576h12v12h-12zM504 660h12v12h-12zM492 684h12v12h-12zM480 708h12v12h-12zM480 720h12v12h-12zM480 852h12v12h-12z"/><path fill="#dcf990" d="M552 516h12v12h-12zM540 528h12v12h-12zM528 552h12v12h-12zM516 588h12v12h-12zM516 600h12v12h-12zM516 612h12v12h-12zM516 624h12v12h-12zM492 696h12v12h-12zM480 732h12v12h-12zM480 744h12v12h-12zM480 756h12v12h-12zM480 768h12v12h-12zM480 780h12v12h-12zM480 792h12v12h-12zM480 804h12v12h-12zM480 816h12v12h-12zM480 828h12v12h-12zM480 840h12v12h-12zM492 876h12v12h-12z"/><path fill="#e3f988" d="M552 528h12v12h-12zM540 540h12v12h-12zM528 564h12v12h-12zM516 636h12v12h-12zM516 648h12v12h-12zM504 672h12v12h-12zM504 684h12v12h-12zM492 708h12v12h-12zM492 720h12v12h-12zM492 732h12v12h-12zM492 840h12v12h-12zM492 852h12v12h-12zM492 864h12v12h-12z"/><path fill="#eaf97f" d="M540 552h12v12h-12zM528 576h12v12h-12zM516 660h12v12h-12zM504 696h12v12h-12zM492 744h12v12h-12zM492 756h12v12h-12zM492 768h12v12h-12zM492 780h12v12h-12zM492 792h12v12h-12zM492 804h12v12h-12zM492 816h12v12h-12zM492 828h12v12h-12zM504 876h12v12h-12z"/><path fill="#f1f977" d="M552 540h12v12h-12zM528 588h12v12h-12zM528 600h12v12h-12zM528 612h12v12h-12zM528 624h12v12h-12zM516 672h12v12h-12zM504 708h12v12h-12zM504 720h12v12h-12zM504 732h12v12h-12zM504 744h12v12h-12zM504 756h12v12h-12zM504 768h12v12h-12zM504 780h12v12h-12zM504 792h12v12h-12zM504 804h12v12h-12zM504 816h12v12h-12zM504 828h12v12h-12zM504 840h12v12h-12zM504 852h12v12h-12zM504 864h12v12h-12z"/><path fill="#f8f96e" d="M564 528h12v12h-12zM540 564h12v12h-12zM528 636h12v12h-12zM528 648h12v12h-12zM516 684h12v12h-12zM516 696h12v12h-12zM516 708h12v12h-12zM516 780h12v12h-12zM516 792h12v12h-12zM516 804h12v12h-12zM516 816h12v12h-12zM516 828h12v12h-12zM516 840h12v12h-12zM516 852h12v12h-12zM516 864h12v12h-12zM516 876h12v12h-12z"/><path fill="#fff966" d="M552 552h12v12h-12zM540 576h12v12h-12zM528 660h12v12h-12zM516 720h12v12h-12zM516 732h12v12h-12zM516 744h12v12h-12zM516 756h12v12h-12zM516 768h12v12h-12zM528 792h12v12h-12zM528 804h12v12h-12zM528 816h24v12h-24zM528 828h48v12h-48zM528 840h84v12h-84zM528 852h108v12h-108zM528 864h36v12h-36z"/><path fill="#fff366" d="M564 540h12v12h-12zM540 588h12v12h-12zM540 600h12v12h-12zM528 672h12v12h-12zM528 684h12v12h-12zM528 696h12v12h-12zM528 708h12v12h-12zM528 720h12v12h-12zM528 732h12v12h-12zM528 744h12v12h-12zM528 756h12v12h-12zM528 768h12v12h-12zM528 780h12v12h-12zM540 792h12v12h-12zM540 804h24v12h-24zM552 816h48v12h-48zM576 828h60v12h-60zM612 840h48v12h-48z"/><path fill="#ffec66" d="M552 564h12v12h-12zM540 612h12v12h-12zM540 624h12v12h-12zM540 636h12v12h-12zM540 732h12v12h-12zM540 744h12v12h-12zM540 756h12v12h-12zM540 768h12v12h-12zM540 780h12v12h-12zM552 792h12v12h-12zM564 804h24v12h-24zM600 816h24v12h-24zM636 828h12v12h-12z"/><path fill="#ffe666" d="M540 648h12v12h-12zM540 660h12v12h-12zM540 708h12v12h-12zM540 720h12v12h-12zM552 756h12v12h-12zM552 768h12v12h-12zM552 780h12v12h-12zM564 792h24v12h-24zM588 804h24v12h-24zM624 816h24v12h-24zM648 828h12v12h-12zM660 840h12v12h-12z"/><path fill="#ffe066" d="M564 552h12v12h-12zM552 576h12v12h-12zM540 672h12v12h-12zM540 684h12v12h-12zM540 696h12v12h-12zM552 720h12v12h-12zM552 732h12v12h-12zM552 744h12v12h-12zM564 768h12v12h-12zM564 780h12v12h-12zM588 792h12v12h-12zM612 804h24v12h-24zM660 828h12v12h-12zM672 840h12v12h-12z"/><path fill="#ffda66" d="M552 588h12v12h-12zM552 600h12v12h-12zM552 612h12v12h-12zM552 624h12v12h-12zM552 708h12v12h-12zM564 732h12v12h-12zM564 744h12v12h-12zM564 756h12v12h-12zM576 768h12v12h-12zM576 780h12v12h-12zM600 792h12v12h-12zM636 804h12v12h-12zM648 816h12v12h-12z"/><path fill="#ffd366" d="M576 540h12v12h-12zM564 564h12v12h-12zM552 636h12v12h-12zM552 648h12v12h-12zM552 660h12v12h-12zM552 672h12v12h-12zM552 684h12v12h-12zM552 696h12v12h-12zM564 720h12v12h-12zM576 744h12v12h-12zM576 756h12v12h-12zM588 780h12v12h-12zM612 792h24v12h-24zM660 816h12v12h-12zM672 828h12v12h-12z"/><path fill="#ffcd66" d="M564 576h12v12h-12zM564 708h12v12h-12zM576 720h12v12h-12zM576 732h12v12h-12zM588 756h12v12h-12zM588 768h12v12h-12zM600 780h24v12h-24zM636 792h12v12h-12zM648 804h12v12h-12z"/><path fill="#ffc766" d="M576 552h12v12h-12zM564 588h12v12h-12zM564 600h12v12h-12zM564 612h12v12h-12zM564 624h12v12h-12zM564 636h12v12h-12zM564 684h12v12h-12zM564 696h12v12h-12zM576 708h12v12h-12zM588 732h12v12h-12zM588 744h12v12h-12zM600 756h12v12h-12zM600 768h12v12h-12zM624 780h12v12h-12zM648 792h12v12h-12zM660 804h12v12h-12zM672 816h12v12h-12zM684 828h12v12h-12z"/><path fill="#ffc066" d="M576 564h12v12h-12zM564 648h12v12h-12zM564 660h12v12h-12zM564 672h12v12h-12zM576 696h12v12h-12zM588 720h12v12h-12zM600 732h12v12h-12zM600 744h12v12h-12zM612 756h12v12h-12zM612 768h24v12h-24zM636 780h12v12h-12zM660 792h12v12h-12zM672 804h12v12h-12zM684 816h12v12h-12zM696 828h12v12h-12z"/><path fill="#ffba66" d="M588 540h12v12h-12zM576 576h12v12h-12zM576 588h12v12h-12zM576 600h12v12h-12zM576 672h12v12h-12zM576 684h12v12h-12zM588 708h12v12h-12zM600 720h12v12h-12zM612 732h12v12h-12zM612 744h12v12h-12zM624 756h12v12h-12zM636 768h12v12h-12zM648 780h24v12h-24zM672 792h12v12h-12zM684 804h12v12h-12zM696 816h12v12h-12z"/><path fill="#feb266" d="M588 552h12v12h-12zM576 612h12v12h-12zM576 624h12v12h-12zM576 636h12v12h-12zM576 648h12v12h-12zM576 660h12v12h-12zM588 684h12v12h-12zM588 696h12v12h-12zM600 708h12v12h-12zM612 720h12v12h-12zM624 732h12v12h-12zM624 744h12v12h-12zM636 756h12v12h-12zM648 768h24v12h-24zM672 780h12v12h-12zM684 792h12v12h-12zM696 804h12v12h-12zM708 816h12v12h-12z"/><path fill="#fda966" d="M588 564h12v12h-12zM588 576h12v12h-12zM588 588h12v12h-12zM588 600h12v12h-12zM588 612h12v12h-12zM588 624h12v12h-12zM588 636h12v12h-12zM588 648h12v12h-12zM588 660h12v12h-12zM588 672h12v12h-12zM600 696h12v12h-12zM612 708h12v12h-12zM624 720h12v12h-12zM636 732h12v12h-12zM636 744h12v12h-12zM648 756h24v12h-24zM672 768h12v12h-12zM684 780h12v12h-12zM696 792h12v12h-12zM708 804h12v12h-12z"/><path fill="#fba166" d="M600 540h12v12h-12zM600 672h12v12h-12zM600 684h12v12h-12zM612 696h12v12h-12zM624 708h12v12h-12zM636 720h12v12h-12zM648 732h12v12h-12zM648 744h12v12h-12zM672 756h12v12h-12zM684 768h12v12h-12zM696 780h12v12h-12zM708 792h12v12h-12zM720 804h12v12h-12z"/><path fill="#fa9866" d="M600 552h12v12h-12zM600 564h12v12h-12zM600 576h12v12h-12zM600 588h12v12h-12zM600 600h12v12h-12zM600 612h12v12h-12zM600 624h12v12h-12zM600 636h12v12h-12zM600 648h12v12h-12zM600 660h12v12h-12zM612 672h12v12h-12zM612 684h24v12h-24zM624 696h24v12h-24zM636 708h12v12h-12zM648 720h12v12h-12zM660 744h12v12h-12z"/><path fill="#f99066" d="M612 552h12v12h-12zM612 564h12v12h-12zM612 576h12v12h-12zM612 588h12v12h-12zM612 600h12v12h-12zM612 612h12v12h-12zM612 624h12v12h-12zM612 636h12v12h-12zM612 648h12v12h-12zM612 660h24v12h-24zM624 672h12v12h-12zM636 684h12v12h-12zM648 696h12v12h-12zM648 708h12v12h-12zM660 720h12v12h-12zM660 732h12v12h-12zM672 744h12v12h-12zM684 756h12v12h-12zM696 768h12v12h-12zM708 780h12v12h-12zM720 792h12v12h-12z"/><path fill="#f88866" d="M624 552h12v12h-12zM624 564h12v12h-12zM624 576h12v12h-12zM624 588h12v12h-12zM624 600h12v12h-12zM624 612h12v12h-12zM624 624h12v12h-12zM624 636h12v12h-12zM624 648h12v12h-12zM636 660h12v12h-12zM636 672h24v12h-24zM648 684h24v12h-24zM660 696h12v12h-12zM660 708h12v12h-12zM672 720h12v12h-12zM672 732h12v12h-12zM684 744h12v12h-12zM696 756h12v12h-12z"/><path fill="#f77f66" d="M636 636h12v12h-12zM636 648h12v12h-12zM648 660h12v12h-12zM660 672h12v12h-12zM672 684h12v12h-12zM672 696h12v12h-12zM672 708h12v12h-12zM684 732h12v12h-12zM708 768h12v12h-12zM720 780h12v12h-12z"/><path fill="#f57766" d="M636 564h12v12h-12zM636 576h12v12h-12zM636 588h12v12h-12zM636 600h12v12h-12zM636 612h12v12h-12zM636 624h12v12h-12zM648 636h12v12h-12zM648 648h24v12h-24zM660 660h24v12h-24zM672 672h24v12h-24zM684 684h12v12h-12zM684 696h12v12h-12zM684 708h12v12h-12zM684 720h12v12h-12zM696 732h12v12h-12zM696 744h12v12h-12zM708 756h12v12h-12zM720 768h12v12h-12zM732 780h12v12h-12z"/><path fill="#f46e66" d="M648 564h24v12h-24zM648 576h24v12h-24zM648 588h24v12h-24zM648 600h24v12h-24zM648 612h24v12h-24zM648 624h24v12h-24zM660 636h24v12h-24zM672 648h24v12h-24zM684 660h24v12h-24zM696 672h12v12h-12zM696 684h24v12h-24zM696 696h24v12h-24zM696 708h24v12h-24zM696 720h24v12h-24zM708 732h12v12h-12zM708 744h24v12h-24zM720 756h24v12h-24zM732 768h12v12h-12z"/><path fill="#f36666" d="M672 564h24v12h-24zM672 576h48v12h-48zM672 588h60v12h-60zM672 600h72v12h-72zM672 612h72v12h-72zM672 624h84v12h-84zM684 636h84v12h-84zM696 648h72v12h-72zM708 660h60v12h-60zM708 672h60v12h-60zM720 684h48v12h-48zM720 696h48v12h-48zM720 708h48v12h-48zM720 720h48v12h-48zM720 732h48v12h-48zM732 744h36v12h-36zM744 756h12v12h-12zM744 768h12v12h-12z"/></g></g><g filter="url(#bl2)"><ellipse cx="362.4" cy="682.6" rx="21.7" ry="21.7" fill="#fff" fill-opacity="0.85"/><ellipse cx="457.5" cy="732.4" rx="18.1" ry="18.1" fill="#fff" fill-opacity="0.75"/><ellipse cx="244.7" cy="569.4" rx="10.0" ry="10.0" fill="#fff" fill-opacity="0.60"/><ellipse cx="530.0" cy="202.6" rx="20.4" ry="20.4" fill="#fff" fill-opacity="0.55"/><ellipse cx="597.9" cy="139.2" rx="15.8" ry="15.8" fill="#fff" fill-opacity="0.50"/><ellipse cx="108.9" cy="84.9" rx="24.9" ry="24.9" fill="#fff" fill-opacity="0.35"/><ellipse cx="158.7" cy="130.2" rx="20.4" ry="20.4" fill="#fff" fill-opacity="0.30"/></g><polygon points="96.8,41.2 153.6,-21.9 193.6,-52.2 324.1,-35.4 368.3,-9.3 385.1,5.5 376.7,-0.9 359.9,-0.9 334.6,3.3 300.9,11.8 267.3,18.1 225.2,24.4 187.3,30.7 132.6,37.0 94.7,43.3" fill="#fff" filter="url(#bl3)"/><polygon points="193.6,-52.2 324.1,-35.4 368.3,-9.3 385.1,5.5 402.0,26.5 420.9,39.1 444.1,46.3 469.3,45.4 490.4,41.2 513.5,23.1 555.6,26.5 639.8,33.7 662.9,66.5 679.8,91.7 690.3,121.2 688.2,188.5 681.9,230.6 667.1,264.3 631.4,333.8 536.7,330.8 503.0,346.4 469.3,367.4 423.0,396.9 397.8,403.2 334.6,401.1 284.1,417.9 254.6,439.0 216.8,462.1 187.3,487.4 130.5,491.6 115.7,514.7 92.6,529.5 90.5,356.9 80.0,272.7 67.3,171.7 64.4,142.2 80.0,70.7 96.8,41.2 153.6,-21.9" fill="none" stroke="#2a2a2a" stroke-width="2" stroke-linejoin="round"/><polygon points="365.9,481.2 400.6,478.6 459.2,481.2 478.7,497.2 522.1,534.1 578.4,566.6 630.5,588.3 665.2,588.3 695.5,605.6 719.4,620.8 725.9,642.5 738.9,659.8 741.1,716.2 734.6,737.9 721.6,768.2 695.5,802.9 682.5,816.0 643.5,826.8 587.1,833.3 548.1,842.0 496.0,859.3 452.7,874.5 418.0,875.8 400.6,870.2 383.3,861.5 331.3,868.9 279.2,876.7 253.2,833.3 227.2,781.3 192.5,742.2 170.8,716.2 136.1,681.5 118.8,659.8 107.9,629.5 127.4,607.8 162.1,581.8 201.2,555.7 235.8,538.4 287.9,516.7 335.6,499.4" fill="none" stroke="#2a2a2a" stroke-width="2" stroke-linejoin="round"/></g><path d="M1298.4 1049.0v21M1392.0 1049.0v21M1485.6 1049.0v21M1579.2 1049.0v21M1672.8 1049.0v21M1766.4 1049.0v21M1860.0 1049.0v21M1953.6 1049.0v21M2047.2 1049.0v21M2140.8 1049.0v21M1258.8 119.4h-21M1258.8 241.0h-21M1258.8 362.6h-21M1258.8 484.2h-21M1258.8 605.8h-21M1258.8 727.4h-21M1258.8 849.0h-21M1258.8 970.6h-21" stroke="#444" stroke-width="3" fill="none"/><rect x="1258.8" y="46.5" width="925.7" height="1002.5" fill="none" stroke="#000" stroke-width="5"/><text x="1298.4" y="1110.0" text-anchor="middle" class="ax">116°24'0&quot;E</text><text x="1579.2" y="1110.0" text-anchor="middle" class="ax">116°28'30&quot;E</text><text x="1860.0" y="1110.0" text-anchor="middle" class="ax">116°33'0&quot;E</text><text x="2140.8" y="1110.0" text-anchor="middle" class="ax">116°37'30&quot;E</text><text transform="translate(1223.3,119.4) rotate(-90)" text-anchor="middle" class="ay">40°3'0&quot;N</text><text transform="translate(1223.3,362.6) rotate(-90)" text-anchor="middle" class="ay">40°0'0&quot;N</text><text transform="translate(1223.3,605.8) rotate(-90)" text-anchor="middle" class="ay">39°57'0&quot;N</text><text transform="translate(1223.3,849.0) rotate(-90)" text-anchor="middle" class="ay">39°54'0&quot;N</text><text x="1310.0" y="131.5" class="let">b</text><text x="2042.7" y="996.0" class="yr">2012</text></g><g><g transform="translate(155.8,1248.0)"><g clip-path="url(#cn)"><g filter="url(#bl)"><path fill="#6c75e4" d="M36 108h12v12h-12zM36 120h24v12h-24zM36 132h24v12h-24zM36 144h24v12h-24zM36 156h36v12h-36zM36 168h48v12h-48zM36 180h60v12h-60zM36 192h72v12h-72zM36 204h72v12h-72zM48 216h60v12h-60zM48 228h60v12h-60zM48 240h60v12h-60zM48 252h60v12h-60zM48 264h60v12h-60zM48 276h60v12h-60zM48 288h72v12h-72zM48 300h72v12h-72zM60 312h72v12h-72zM60 324h84v12h-84zM60 336h96v12h-96zM60 348h96v12h-96zM60 360h96v12h-96zM60 372h96v12h-96zM60 384h96v12h-96zM60 396h96v12h-96zM60 408h96v12h-96zM60 420h96v12h-96zM60 432h108v12h-108zM60 444h108v12h-108zM60 456h120v12h-120zM60 468h132v12h-132zM60 480h144v12h-144zM60 492h156v12h-156zM60 504h144v12h-144zM60 516h84v12h-84zM60 528h84v12h-84zM72 540h48v12h-48zM84 552h12v12h-12z"/><path fill="#6d79e6" d="M48 96h12v12h-12zM48 108h24v12h-24zM60 120h12v12h-12zM60 132h24v12h-24zM60 144h24v12h-24zM72 156h24v12h-24zM84 168h24v12h-24zM96 180h24v12h-24zM108 192h12v12h-12zM108 204h24v12h-24zM108 216h24v12h-24zM108 228h24v12h-24zM108 240h24v12h-24zM108 252h24v12h-24zM108 264h24v12h-24zM108 276h24v12h-24zM120 288h12v12h-12zM120 300h24v12h-24zM132 312h24v12h-24zM144 324h24v12h-24zM156 336h12v12h-12zM156 348h12v12h-12zM156 360h24v12h-24zM156 372h24v12h-24zM156 384h24v12h-24zM156 396h24v12h-24zM156 408h24v12h-24zM156 420h24v12h-24zM168 432h12v12h-12zM168 444h24v12h-24zM180 456h24v12h-24zM192 468h12v12h-12zM204 480h12v12h-12z"/><path fill="#6d7de8" d="M48 84h12v12h-12zM60 96h12v12h-12zM72 108h12v12h-12zM72 120h12v12h-12zM84 132h12v12h-12zM84 144h12v12h-12zM96 156h12v12h-12zM108 168h24v12h-24zM120 180h12v12h-12zM120 192h24v12h-24zM132 204h12v12h-12zM132 216h12v12h-12zM132 228h12v12h-12zM132 240h12v12h-12zM132 252h12v12h-12zM132 264h12v12h-12zM132 276h12v12h-12zM132 288h24v12h-24zM144 300h24v12h-24zM156 312h24v12h-24zM168 324h12v12h-12zM168 336h12v12h-12zM168 348h12v12h-12zM180 384h12v12h-12zM180 396h12v12h-12zM180 408h12v12h-12zM180 420h12v12h-12zM180 432h12v12h-12zM192 444h12v12h-12zM204 468h12v12h-12zM216 480h12v12h-12z"/><path fill="#6e81ea" d="M48 72h12v12h-12zM60 84h12v12h-12zM72 96h12v12h-12zM84 108h12v12h-12zM84 120h12v12h-12zM96 132h12v12h-12zM96 144h24v12h-24zM108 156h24v12h-24zM132 168h12v12h-12zM132 180h12v12h-12zM144 192h12v12h-12zM144 204h12v12h-12zM144 216h12v12h-12zM144 228h12v12h-12zM144 240h12v12h-12zM144 252h12v12h-12zM144 264h12v12h-12zM144 276h12v12h-12zM156 288h12v12h-12zM168 300h12v12h-12zM180 312h12v12h-12zM180 324h12v12h-12zM180 336h12v12h-12zM180 348h12v12h-12zM180 360h12v12h-12zM180 372h12v12h-12zM192 396h12v12h-12zM192 408h12v12h-12zM192 420h12v12h-12zM192 432h12v12h-12zM204 444h12v12h-12zM204 456h12v12h-12zM216 468h12v12h-12z"/><path fill="#6e85ec" d="M48 60h12v12h-12zM60 72h12v12h-12zM72 84h24v12h-24zM84 96h24v12h-24zM96 108h12v12h-12zM96 120h24v12h-24zM108 132h24v12h-24zM120 144h24v12h-24zM132 156h24v12h-24zM144 168h12v12h-12zM144 180h24v12h-24zM156 192h12v12h-12zM156 204h12v12h-12zM156 216h12v12h-12zM156 228h12v12h-12zM156 240h12v12h-12zM156 252h12v12h-12zM156 264h24v12h-24zM156 276h36v12h-36zM168 288h36v12h-36zM180 300h24v12h-24zM192 312h24v12h-24zM192 324h24v12h-24zM192 336h24v12h-24zM192 348h24v12h-24zM192 360h24v12h-24zM192 372h24v12h-24zM192 384h24v12h-24zM204 396h12v12h-12zM204 408h12v12h-12zM204 420h12v12h-12zM204 432h12v12h-12zM216 444h12v12h-12zM216 456h12v12h-12zM228 468h12v12h-12zM228 480h12v12h-12z"/><path fill="#6f88ee" d="M144 -60h12v12h-12zM132 -48h24v12h-24zM120 -36h36v12h-36zM108 -24h48v12h-48zM96 -12h60v12h-60zM84 0h72v12h-72zM72 12h84v12h-84zM72 24h84v12h-84zM60 36h96v12h-96zM60 48h96v12h-96zM60 60h96v12h-96zM72 72h84v12h-84zM96 84h60v12h-60zM108 96h48v12h-48zM108 108h48v12h-48zM120 120h36v12h-36zM132 132h24v12h-24zM144 144h24v12h-24zM156 156h12v12h-12zM156 168h24v12h-24zM168 180h24v12h-24zM168 192h36v12h-36zM168 204h36v12h-36zM168 216h48v12h-48zM168 228h60v12h-60zM168 240h72v12h-72zM168 252h72v12h-72zM180 264h72v12h-72zM192 276h60v12h-60zM204 288h48v12h-48zM204 300h48v12h-48zM216 312h36v12h-36zM216 324h36v12h-36zM216 336h36v12h-36zM216 348h36v12h-36zM216 360h36v12h-36zM216 372h36v12h-36zM216 384h36v12h-36zM216 396h36v12h-36zM216 408h36v12h-36zM216 420h36v12h-36zM216 432h36v12h-36zM228 444h24v12h-24zM228 456h24v12h-24zM240 468h12v12h-12z"/><path fill="#708cf1" d="M156 -60h12v12h-12zM156 -48h12v12h-12zM156 -36h12v12h-12zM156 -24h12v12h-12zM156 -12h12v12h-12zM156 0h12v12h-12zM156 12h12v12h-12zM156 24h12v12h-12zM156 36h12v12h-12zM156 48h24v12h-24zM156 60h24v12h-24zM156 72h24v12h-24zM156 84h24v12h-24zM156 96h24v12h-24zM156 108h24v12h-24zM156 120h24v12h-24zM156 132h24v12h-24zM168 144h12v12h-12zM168 156h24v12h-24zM180 168h24v12h-24zM192 180h24v12h-24zM204 192h24v12h-24zM204 204h24v12h-24zM216 216h24v12h-24zM228 228h24v12h-24zM240 240h24v12h-24zM240 252h24v12h-24zM252 264h12v12h-12zM252 276h12v12h-12zM252 288h12v12h-12zM252 300h12v12h-12zM252 312h12v12h-12zM252 324h12v12h-12zM252 336h12v12h-12zM252 348h12v12h-12zM252 360h12v12h-12zM252 372h12v12h-12zM252 384h12v12h-12zM252 396h12v12h-12zM252 408h12v12h-12zM252 420h12v12h-12zM252 432h12v12h-12zM252 444h12v12h-12zM252 456h12v12h-12z"/><path fill="#7090f3" d="M168 -72h12v12h-12zM168 -60h12v12h-12zM168 -48h12v12h-12zM168 -36h12v12h-12zM168 -24h12v12h-12zM168 -12h12v12h-12zM168 0h12v12h-12zM168 12h12v12h-12zM168 24h12v12h-12zM168 36h12v12h-12zM180 108h12v12h-12zM180 120h12v12h-12zM180 132h12v12h-12zM180 144h12v12h-12zM192 156h12v12h-12zM204 168h12v12h-12zM216 180h12v12h-12zM228 192h12v12h-12zM228 204h24v12h-24zM240 216h24v12h-24zM252 228h24v12h-24zM264 240h12v12h-12zM264 252h12v12h-12zM264 264h12v12h-12zM264 276h12v12h-12zM264 288h12v12h-12zM264 300h12v12h-12zM264 312h12v12h-12zM264 324h12v12h-12zM264 336h12v12h-12zM264 348h12v12h-12zM264 360h12v12h-12zM264 372h12v12h-12zM264 384h12v12h-12zM264 396h12v12h-12zM264 408h12v12h-12zM264 420h12v12h-12zM264 432h12v12h-12zM264 444h12v12h-12zM264 456h12v12h-12z"/><path fill="#7194f5" d="M180 -84h12v12h-12zM180 -72h12v12h-12zM180 -60h12v12h-12zM180 -48h12v12h-12zM180 -36h12v12h-12zM180 -24h12v12h-12zM180 -12h12v12h-12zM180 0h12v12h-12zM180 12h12v12h-12zM180 24h12v12h-12zM180 36h12v12h-12zM180 48h12v12h-12zM180 60h12v12h-12zM180 72h12v12h-12zM180 84h12v12h-12zM180 96h12v12h-12zM192 120h12v12h-12zM192 132h12v12h-12zM192 144h12v12h-12zM204 156h24v12h-24zM216 168h24v12h-24zM228 180h12v12h-12zM240 192h12v12h-12zM252 204h24v12h-24zM264 216h12v12h-12zM276 228h12v12h-12zM276 240h12v12h-12zM276 252h12v12h-12zM276 264h12v12h-12zM276 276h12v12h-12zM276 288h12v12h-12zM276 300h12v12h-12zM276 312h12v12h-12zM276 324h12v12h-12zM276 336h12v12h-12zM276 348h12v12h-12zM276 360h12v12h-12zM276 372h12v12h-12zM276 384h12v12h-12zM276 396h12v12h-12zM276 408h12v12h-12zM276 420h12v12h-12zM276 432h12v12h-12zM276 444h12v12h-12z"/><path fill="#7198f7" d="M192 -84h12v12h-12zM192 -72h12v12h-12zM192 -60h12v12h-12zM192 -48h12v12h-12zM192 -36h12v12h-12zM192 -24h12v12h-12zM192 -12h12v12h-12zM192 0h12v12h-12zM192 12h12v12h-12zM192 24h12v12h-12zM192 36h12v12h-12zM192 48h12v12h-12zM192 60h12v12h-12zM192 72h12v12h-12zM192 84h12v12h-12zM192 96h24v12h-24zM192 108h24v12h-24zM204 120h12v12h-12zM204 132h24v12h-24zM204 144h36v12h-36zM228 156h24v12h-24zM240 168h24v12h-24zM240 180h36v12h-36zM252 192h36v12h-36zM276 204h12v12h-12zM276 216h24v12h-24zM288 228h12v12h-12zM288 240h12v12h-12zM288 252h12v12h-12zM288 264h12v12h-12zM288 276h12v12h-12zM288 288h12v12h-12zM288 300h12v12h-12zM288 396h12v12h-12zM288 408h12v12h-12zM288 420h12v12h-12zM288 432h12v12h-12z"/><path fill="#729cf9" d="M204 -84h12v12h-12zM204 -72h12v12h-12zM204 -60h12v12h-12zM204 -48h12v12h-12zM204 -36h12v12h-12zM204 -24h12v12h-12zM204 -12h12v12h-12zM204 0h12v12h-12zM204 12h12v12h-12zM204 24h12v12h-12zM204 36h12v12h-12zM204 48h12v12h-12zM204 60h12v12h-12zM204 72h12v12h-12zM204 84h24v12h-24zM216 96h24v12h-24zM216 108h36v12h-36zM216 120h48v12h-48zM228 132h48v12h-48zM240 144h48v12h-48zM252 156h48v12h-48zM264 168h48v12h-48zM276 180h36v12h-36zM288 192h36v12h-36zM288 204h36v12h-36zM300 216h24v12h-24zM300 228h24v12h-24zM300 240h12v12h-12zM300 252h12v12h-12zM300 264h12v12h-12zM288 312h12v12h-12zM288 324h12v12h-12zM288 336h12v12h-12zM288 348h12v12h-12zM288 360h12v12h-12zM288 372h12v12h-12zM288 384h12v12h-12zM300 396h12v12h-12zM300 408h12v12h-12zM300 420h24v12h-24zM300 432h24v12h-24z"/><path fill="#71a5fa" d="M216 -84h12v12h-12zM216 -72h12v12h-12zM216 -60h12v12h-12zM216 -48h12v12h-12zM216 -36h12v12h-12zM216 -24h12v12h-12zM216 -12h12v12h-12zM216 0h12v12h-12zM216 12h12v12h-12zM216 24h12v12h-12zM216 36h12v12h-12zM216 48h12v12h-12zM216 60h12v12h-12zM216 72h24v12h-24zM228 84h24v12h-24zM240 96h24v12h-24zM252 108h24v12h-24zM264 120h24v12h-24zM276 132h24v12h-24zM288 144h24v12h-24zM300 156h24v12h-24zM312 168h12v12h-12zM312 180h24v12h-24zM324 192h12v12h-12zM324 204h24v12h-24zM324 216h12v12h-12zM324 228h12v12h-12zM312 240h24v12h-24zM312 252h12v12h-12zM300 276h12v12h-12zM300 288h12v12h-12zM300 300h12v12h-12zM300 312h12v12h-12zM300 324h12v12h-12zM300 336h12v12h-12zM300 348h12v12h-12zM300 360h12v12h-12zM300 372h12v12h-12zM300 384h12v12h-12zM312 408h12v12h-12zM324 420h12v12h-12z"/><path fill="#70adfa" d="M228 36h12v12h-12zM228 48h12v12h-12zM228 60h12v12h-12zM240 72h12v12h-12zM252 84h12v12h-12zM264 96h12v12h-12zM276 108h12v12h-12zM288 120h12v12h-12zM300 132h12v12h-12zM312 144h12v12h-12zM324 156h12v12h-12zM324 168h24v12h-24zM336 180h12v12h-12zM336 192h12v12h-12zM336 216h12v12h-12zM336 228h12v12h-12zM336 240h12v12h-12zM324 252h12v12h-12zM312 264h12v12h-12zM312 276h12v12h-12zM312 288h12v12h-12zM312 300h12v12h-12zM312 312h12v12h-12zM312 396h12v12h-12z"/><path fill="#6eb6fb" d="M228 -72h12v12h-12zM228 -60h12v12h-12zM228 -48h12v12h-12zM228 -36h12v12h-12zM228 -24h12v12h-12zM228 -12h12v12h-12zM228 0h12v12h-12zM228 12h12v12h-12zM228 24h12v12h-12zM240 36h12v12h-12zM240 48h12v12h-12zM240 60h24v12h-24zM252 72h24v12h-24zM264 84h24v12h-24zM276 96h24v12h-24zM288 108h24v12h-24zM300 120h24v12h-24zM312 132h24v12h-24zM324 144h12v12h-12zM336 156h12v12h-12zM348 180h12v12h-12zM348 192h12v12h-12zM348 204h12v12h-12zM348 216h12v12h-12zM348 228h12v12h-12zM336 252h12v12h-12zM324 264h12v12h-12zM324 276h12v12h-12zM324 288h12v12h-12zM324 300h12v12h-12zM312 324h12v12h-12zM312 336h12v12h-12zM312 348h12v12h-12zM312 360h12v12h-12zM312 372h12v12h-12zM312 384h12v12h-12zM324 408h12v12h-12zM336 420h12v12h-12z"/><path fill="#6dbffb" d="M240 -72h24v12h-24zM240 -60h24v12h-24zM240 -48h24v12h-24zM240 -36h24v12h-24zM240 -24h24v12h-24zM240 -12h24v12h-24zM240 0h24v12h-24zM240 12h24v12h-24zM240 24h24v12h-24zM252 36h12v12h-12zM252 48h24v12h-24zM264 60h24v12h-24zM276 72h12v12h-12zM288 84h12v12h-12zM300 96h12v12h-12zM312 108h12v12h-12zM324 120h12v12h-12zM336 132h12v12h-12zM336 144h24v12h-24zM348 156h12v12h-12zM348 168h12v12h-12zM348 240h12v12h-12zM348 252h12v12h-12zM336 264h12v12h-12zM336 276h12v12h-12zM324 312h12v12h-12zM324 324h12v12h-12zM324 396h12v12h-12z"/><path fill="#6cc8fc" d="M264 -72h24v12h-24zM264 -60h24v12h-24zM264 -48h24v12h-24zM264 -36h24v12h-24zM264 -24h24v12h-24zM264 -12h24v12h-24zM264 0h24v12h-24zM264 12h36v12h-36zM264 24h36v12h-36zM264 36h36v12h-36zM276 48h24v12h-24zM288 60h12v12h-12zM288 72h24v12h-24zM300 84h24v12h-24zM312 96h24v12h-24zM324 108h24v12h-24zM336 120h24v12h-24zM348 132h12v12h-12zM360 144h12v12h-12zM360 156h12v12h-12zM360 168h12v12h-12zM360 180h12v12h-12zM360 192h12v12h-12zM360 204h12v12h-12zM360 216h12v12h-12zM360 228h12v12h-12zM348 264h12v12h-12zM336 288h12v12h-12zM336 300h12v12h-12zM336 312h12v12h-12zM336 324h12v12h-12zM324 336h12v12h-12zM324 348h12v12h-12zM324 372h12v12h-12zM324 384h12v12h-12zM336 408h12v12h-12zM348 420h12v12h-12z"/><path fill="#6bd0fd" d="M288 -72h24v12h-24zM288 -60h24v12h-24zM288 -48h24v12h-24zM288 -36h24v12h-24zM288 -24h24v12h-24zM288 -12h24v12h-24zM288 0h24v12h-24zM300 12h12v12h-12zM300 24h12v12h-12zM300 36h12v12h-12zM300 48h12v12h-12zM300 60h24v12h-24zM312 72h12v12h-12zM324 84h24v12h-24zM336 96h24v12h-24zM348 108h12v12h-12zM360 120h12v12h-12zM360 132h12v12h-12zM360 240h12v12h-12zM360 252h12v12h-12zM348 276h12v12h-12zM348 288h12v12h-12zM348 300h12v12h-12zM348 312h12v12h-12zM660 312h12v12h-12zM660 324h12v12h-12zM336 336h12v12h-12zM324 360h12v12h-12zM336 396h12v12h-12z"/><path fill="#6ad9fd" d="M312 -72h12v12h-12zM312 -60h12v12h-12zM312 -48h12v12h-12zM312 -36h12v12h-12zM312 -24h12v12h-12zM312 -12h12v12h-12zM312 0h12v12h-12zM312 12h12v12h-12zM312 24h12v12h-12zM312 36h12v12h-12zM312 48h12v12h-12zM324 60h12v12h-12zM324 72h24v12h-24zM348 84h12v12h-12zM360 96h12v12h-12zM360 108h12v12h-12zM372 120h12v12h-12zM372 132h12v12h-12zM372 144h12v12h-12zM372 156h12v12h-12zM372 168h12v12h-12zM372 180h12v12h-12zM372 192h12v12h-12zM372 204h12v12h-12zM372 216h12v12h-12zM372 228h12v12h-12zM360 264h12v12h-12zM360 276h12v12h-12zM360 288h12v12h-12zM360 300h12v12h-12zM672 300h12v12h-12zM348 324h12v12h-12zM648 324h12v12h-12zM348 336h12v12h-12zM648 336h12v12h-12zM336 348h12v12h-12zM636 348h12v12h-12zM336 360h12v12h-12zM336 372h12v12h-12zM336 384h12v12h-12zM348 408h12v12h-12z"/><path fill="#68e2fe" d="M324 -60h12v12h-12zM324 -48h12v12h-12zM324 -36h12v12h-12zM324 -24h12v12h-12zM324 -12h12v12h-12zM324 0h12v12h-12zM324 12h12v12h-12zM324 24h12v12h-12zM324 36h12v12h-12zM324 48h24v12h-24zM336 60h24v12h-24zM348 72h24v12h-24zM360 84h12v12h-12zM372 96h12v12h-12zM372 108h12v12h-12zM384 120h12v12h-12zM384 132h12v12h-12zM384 144h12v12h-12zM372 240h12v12h-12zM372 252h12v12h-12zM372 264h12v12h-12zM372 276h12v12h-12zM372 288h12v12h-12zM372 300h12v12h-12zM660 300h12v12h-12zM360 312h12v12h-12zM648 312h12v12h-12zM360 324h12v12h-12zM636 324h12v12h-12zM360 336h12v12h-12zM636 336h12v12h-12zM348 348h12v12h-12zM348 360h12v12h-12zM348 396h12v12h-12zM360 420h12v12h-12z"/><path fill="#67eafe" d="M336 -60h12v12h-12zM336 -48h12v12h-12zM336 -36h12v12h-12zM336 -24h12v12h-12zM336 -12h12v12h-12zM336 0h12v12h-12zM336 12h12v12h-12zM336 24h24v12h-24zM336 36h24v12h-24zM348 48h24v12h-24zM360 60h24v12h-24zM372 72h12v12h-12zM372 84h24v12h-24zM384 96h12v12h-12zM384 108h12v12h-12zM384 156h12v12h-12zM384 168h12v12h-12zM384 180h12v12h-12zM384 228h12v12h-12zM384 240h12v12h-12zM384 252h12v12h-12zM384 264h12v12h-12zM384 276h12v12h-12zM384 288h12v12h-12zM672 288h12v12h-12zM384 300h12v12h-12zM648 300h12v12h-12zM372 312h24v12h-24zM636 312h12v12h-12zM372 324h24v12h-24zM624 324h12v12h-12zM372 336h12v12h-12zM624 336h12v12h-12zM360 348h24v12h-24zM612 348h24v12h-24zM360 360h12v12h-12zM348 372h24v12h-24zM348 384h24v12h-24zM360 396h12v12h-12zM360 408h12v12h-12zM372 420h12v12h-12z"/><path fill="#66f3ff" d="M348 -48h24v12h-24zM348 -36h48v12h-48zM348 -24h60v12h-60zM348 -12h72v12h-72zM348 0h72v12h-72zM348 12h72v12h-72zM360 24h60v12h-60zM360 36h60v12h-60zM372 48h48v12h-48zM384 60h36v12h-36zM384 72h36v12h-36zM396 84h24v12h-24zM396 96h12v12h-12zM396 108h12v12h-12zM396 120h12v12h-12zM396 132h12v12h-12zM384 192h12v12h-12zM384 204h12v12h-12zM384 216h12v12h-12zM396 252h12v12h-12zM396 264h12v12h-12zM396 276h24v12h-24zM396 288h60v12h-60zM660 288h12v12h-12zM396 300h72v12h-72zM396 312h84v12h-84zM396 324h96v12h-96zM612 324h12v12h-12zM384 336h132v12h-132zM600 336h24v12h-24zM384 348h228v12h-228zM372 360h156v12h-156zM372 372h132v12h-132zM372 384h120v12h-120zM372 396h96v12h-96zM372 408h84v12h-84zM384 420h48v12h-48z"/><path fill="#6ef4f8" d="M624 0h24v12h-24zM420 12h12v12h-12zM624 12h36v12h-36zM420 24h12v12h-12zM648 24h24v12h-24zM420 36h12v12h-12zM672 36h12v12h-12zM420 48h12v12h-12zM684 48h12v12h-12zM420 60h12v12h-12zM684 60h12v12h-12zM420 72h12v12h-12zM696 72h12v12h-12zM420 84h12v12h-12zM408 96h12v12h-12zM408 108h12v12h-12zM396 144h12v12h-12zM396 156h12v12h-12zM396 216h12v12h-12zM396 228h12v12h-12zM396 240h12v12h-12zM408 252h12v12h-12zM408 264h24v12h-24zM420 276h36v12h-36zM456 288h24v12h-24zM468 300h24v12h-24zM636 300h12v12h-12zM480 312h24v12h-24zM624 312h12v12h-12zM492 324h48v12h-48zM600 324h12v12h-12zM516 336h84v12h-84z"/><path fill="#77f4f1" d="M612 0h12v12h-12zM432 12h12v12h-12zM612 12h12v12h-12zM432 24h12v12h-12zM624 24h24v12h-24zM432 36h12v12h-12zM648 36h24v12h-24zM432 48h12v12h-12zM672 48h12v12h-12zM432 60h12v12h-12zM672 60h12v12h-12zM432 72h12v12h-12zM684 72h12v12h-12zM420 96h12v12h-12zM408 120h12v12h-12zM396 168h12v12h-12zM396 180h12v12h-12zM396 192h12v12h-12zM396 204h12v12h-12zM408 240h12v12h-12zM420 252h12v12h-12zM432 264h24v12h-24zM456 276h24v12h-24zM480 288h12v12h-12zM648 288h12v12h-12zM492 300h12v12h-12zM504 312h24v12h-24zM612 312h12v12h-12zM540 324h60v12h-60z"/><path fill="#7ff5ea" d="M600 0h12v12h-12zM612 24h12v12h-12zM624 36h24v12h-24zM660 48h12v12h-12zM672 72h12v12h-12zM432 84h12v12h-12zM684 84h24v12h-24zM432 96h12v12h-12zM420 108h12v12h-12zM408 132h12v12h-12zM408 144h12v12h-12zM408 216h12v12h-12zM408 228h12v12h-12zM420 240h12v12h-12zM432 252h12v12h-12zM456 264h12v12h-12zM492 288h12v12h-12zM504 300h12v12h-12zM624 300h12v12h-12zM528 312h36v12h-36zM576 312h36v12h-36z"/><path fill="#88f5e3" d="M444 12h12v12h-12zM600 12h12v12h-12zM444 24h12v12h-12zM600 24h12v12h-12zM444 36h12v12h-12zM612 36h12v12h-12zM444 48h12v12h-12zM648 48h12v12h-12zM444 60h12v12h-12zM660 60h12v12h-12zM444 72h12v12h-12zM672 84h12v12h-12zM420 120h12v12h-12zM408 156h12v12h-12zM408 168h12v12h-12zM408 204h12v12h-12zM420 228h12v12h-12zM444 252h12v12h-12zM468 264h12v12h-12zM480 276h12v12h-12zM684 276h12v12h-12zM636 288h12v12h-12zM516 300h12v12h-12zM612 300h12v12h-12zM564 312h12v12h-12z"/><path fill="#90f6dc" d="M588 0h12v12h-12zM636 48h12v12h-12zM660 72h12v12h-12zM444 84h12v12h-12zM684 96h36v12h-36zM432 108h12v12h-12zM408 180h12v12h-12zM408 192h12v12h-12zM420 216h12v12h-12zM432 240h12v12h-12zM492 276h12v12h-12zM672 276h12v12h-12zM504 288h12v12h-12zM528 300h24v12h-24zM600 300h12v12h-12z"/><path fill="#98f7d6" d="M456 12h12v12h-12zM588 12h12v12h-12zM456 24h12v12h-12zM588 24h12v12h-12zM456 36h12v12h-12zM600 36h12v12h-12zM456 48h12v12h-12zM624 48h12v12h-12zM456 60h12v12h-12zM648 60h12v12h-12zM456 72h12v12h-12zM660 84h12v12h-12zM444 96h12v12h-12zM672 96h12v12h-12zM420 132h12v12h-12zM420 204h12v12h-12zM432 228h12v12h-12zM444 240h12v12h-12zM456 252h12v12h-12zM480 264h12v12h-12zM660 276h12v12h-12zM516 288h12v12h-12zM624 288h12v12h-12zM552 300h48v12h-48z"/><path fill="#a1f7cf" d="M612 48h12v12h-12zM648 72h12v12h-12zM456 84h12v12h-12zM444 108h12v12h-12zM432 120h12v12h-12zM420 144h12v12h-12zM420 156h12v12h-12zM420 168h12v12h-12zM420 180h12v12h-12zM420 192h12v12h-12zM432 216h12v12h-12zM468 252h12v12h-12zM504 276h12v12h-12zM648 276h12v12h-12zM528 288h12v12h-12zM612 288h12v12h-12z"/><path fill="#a9f8c8" d="M576 0h12v12h-12zM468 12h12v12h-12zM576 12h12v12h-12zM468 24h12v12h-12zM576 24h12v12h-12zM468 36h12v12h-12zM588 36h12v12h-12zM468 48h12v12h-12zM600 48h12v12h-12zM468 60h12v12h-12zM636 60h12v12h-12zM456 96h12v12h-12zM660 96h12v12h-12zM684 108h36v12h-36zM432 132h12v12h-12zM432 204h12v12h-12zM444 228h12v12h-12zM456 240h12v12h-12zM492 264h12v12h-12zM636 276h12v12h-12zM540 288h12v12h-12zM588 288h24v12h-24z"/><path fill="#b2f8c1" d="M624 60h12v12h-12zM468 72h12v12h-12zM468 84h12v12h-12zM648 84h12v12h-12zM672 108h12v12h-12zM444 120h12v12h-12zM432 144h12v12h-12zM432 192h12v12h-12zM480 252h12v12h-12zM516 276h12v12h-12zM624 276h12v12h-12zM552 288h36v12h-36z"/><path fill="#baf9ba" d="M564 0h12v12h-12zM480 12h12v12h-12zM564 12h12v12h-12zM480 24h12v12h-12zM564 24h12v12h-12zM480 36h12v12h-12zM576 36h12v12h-12zM480 48h12v12h-12zM588 48h12v12h-12zM636 72h12v12h-12zM468 96h12v12h-12zM456 108h12v12h-12zM432 156h12v12h-12zM432 168h12v12h-12zM432 180h12v12h-12zM444 216h12v12h-12zM456 228h12v12h-12zM468 240h12v12h-12zM504 264h12v12h-12zM528 276h12v12h-12zM600 276h24v12h-24z"/><path fill="#c1f9b2" d="M552 0h12v12h-12zM552 12h12v12h-12zM564 36h12v12h-12zM480 60h12v12h-12zM612 60h12v12h-12zM480 72h12v12h-12zM648 96h12v12h-12zM660 108h12v12h-12zM444 132h12v12h-12zM444 204h12v12h-12zM492 252h12v12h-12zM648 264h48v12h-48zM540 276h12v12h-12zM588 276h12v12h-12z"/><path fill="#c8f9a9" d="M492 0h12v12h-12zM540 0h12v12h-12zM492 12h12v12h-12zM492 24h12v12h-12zM552 24h12v12h-12zM492 36h12v12h-12zM492 48h12v12h-12zM576 48h12v12h-12zM480 84h12v12h-12zM468 108h12v12h-12zM456 120h12v12h-12zM684 120h36v12h-36zM444 144h12v12h-12zM444 192h12v12h-12zM456 216h12v12h-12zM468 228h12v12h-12zM480 240h12v12h-12zM516 264h12v12h-12zM612 264h36v12h-36zM552 276h36v12h-36z"/><path fill="#cff9a1" d="M504 -12h24v12h-24zM504 0h36v12h-36zM504 12h12v12h-12zM528 12h24v12h-24zM504 24h12v12h-12zM540 24h12v12h-12zM504 36h12v12h-12zM552 36h12v12h-12zM492 60h12v12h-12zM600 60h12v12h-12zM492 72h12v12h-12zM624 72h12v12h-12zM636 84h12v12h-12zM480 96h12v12h-12zM648 108h12v12h-12zM672 120h12v12h-12zM444 156h12v12h-12zM444 168h12v12h-12zM444 180h12v12h-12zM456 204h12v12h-12zM504 252h12v12h-12zM528 264h12v12h-12zM600 264h12v12h-12z"/><path fill="#d6f998" d="M516 12h12v12h-12zM516 24h24v12h-24zM516 36h36v12h-36zM504 48h12v12h-12zM564 48h12v12h-12zM504 60h12v12h-12zM588 60h12v12h-12zM492 84h12v12h-12zM468 120h12v12h-12zM660 120h12v12h-12zM456 132h12v12h-12zM468 216h12v12h-12zM492 240h12v12h-12zM648 252h60v12h-60zM540 264h60v12h-60z"/><path fill="#dcf990" d="M516 48h48v12h-48zM504 72h12v12h-12zM492 96h12v12h-12zM636 96h12v12h-12zM480 108h12v12h-12zM456 144h12v12h-12zM456 156h12v12h-12zM456 168h12v12h-12zM456 180h12v12h-12zM456 192h12v12h-12zM480 228h12v12h-12zM672 240h36v12h-36zM516 252h12v12h-12zM600 252h48v12h-48z"/><path fill="#e3f988" d="M516 60h12v12h-12zM576 60h12v12h-12zM612 72h12v12h-12zM504 84h12v12h-12zM480 120h12v12h-12zM648 120h12v12h-12zM468 132h12v12h-12zM672 132h48v12h-48zM468 204h12v12h-12zM660 228h48v12h-48zM636 240h36v12h-36zM528 252h12v12h-12zM576 252h24v12h-24z"/><path fill="#eaf97f" d="M528 60h48v12h-48zM516 72h12v12h-12zM624 84h12v12h-12zM492 108h12v12h-12zM636 108h12v12h-12zM660 132h12v12h-12zM468 144h12v12h-12zM468 192h12v12h-12zM480 216h12v12h-12zM660 216h48v12h-48zM492 228h12v12h-12zM648 228h12v12h-12zM504 240h12v12h-12zM612 240h24v12h-24zM540 252h36v12h-36z"/><path fill="#f1f977" d="M600 72h12v12h-12zM504 96h12v12h-12zM480 132h12v12h-12zM648 132h12v12h-12zM684 144h36v12h-36zM468 156h12v12h-12zM468 168h12v12h-12zM468 180h12v12h-12zM480 204h12v12h-12zM660 204h60v12h-60zM648 216h12v12h-12zM624 228h24v12h-24zM516 240h12v12h-12zM576 240h36v12h-36z"/><path fill="#f8f96e" d="M528 72h12v12h-12zM516 84h12v12h-12zM624 96h12v12h-12zM504 108h12v12h-12zM492 120h12v12h-12zM636 120h12v12h-12zM480 144h12v12h-12zM660 144h24v12h-24zM684 156h36v12h-36zM684 180h36v12h-36zM480 192h12v12h-12zM660 192h60v12h-60zM648 204h12v12h-12zM492 216h12v12h-12zM636 216h12v12h-12zM504 228h12v12h-12zM600 228h24v12h-24zM528 240h48v12h-48z"/><path fill="#fff966" d="M540 72h12v12h-12zM588 72h12v12h-12zM612 84h12v12h-12zM516 96h12v12h-12zM492 132h12v12h-12zM636 132h12v12h-12zM648 144h12v12h-12zM480 156h12v12h-12zM660 156h24v12h-24zM480 168h12v12h-12zM660 168h60v12h-60zM480 180h12v12h-12zM660 180h24v12h-24zM648 192h12v12h-12zM492 204h12v12h-12zM636 204h12v12h-12zM612 216h24v12h-24zM564 228h36v12h-36z"/><path fill="#fff366" d="M552 72h12v12h-12zM576 72h12v12h-12zM528 84h12v12h-12zM516 108h12v12h-12zM624 108h12v12h-12zM504 120h12v12h-12zM492 144h12v12h-12zM636 144h12v12h-12zM492 156h12v12h-12zM648 156h12v12h-12zM492 168h12v12h-12zM648 168h12v12h-12zM492 180h12v12h-12zM648 180h12v12h-12zM492 192h12v12h-12zM636 192h12v12h-12zM624 204h12v12h-12zM504 216h12v12h-12zM576 216h36v12h-36zM516 228h48v12h-48z"/><path fill="#ffec66" d="M564 72h12v12h-12zM528 96h12v12h-12zM624 120h12v12h-12zM504 132h12v12h-12zM636 156h12v12h-12zM636 168h12v12h-12zM636 180h12v12h-12zM504 192h12v12h-12zM624 192h12v12h-12zM504 204h12v12h-12zM600 204h24v12h-24zM516 216h12v12h-12zM552 216h24v12h-24z"/><path fill="#ffe666" d="M540 84h12v12h-12zM600 84h12v12h-12zM612 96h12v12h-12zM516 120h12v12h-12zM516 132h12v12h-12zM624 132h12v12h-12zM504 144h12v12h-12zM624 144h12v12h-12zM504 156h12v12h-12zM624 156h12v12h-12zM504 168h12v12h-12zM624 168h12v12h-12zM504 180h12v12h-12zM624 180h12v12h-12zM600 192h24v12h-24zM516 204h12v12h-12zM552 204h48v12h-48zM528 216h24v12h-24z"/><path fill="#ffe066" d="M588 84h12v12h-12zM528 108h12v12h-12zM612 108h12v12h-12zM516 144h12v12h-12zM516 156h12v12h-12zM612 156h12v12h-12zM516 168h12v12h-12zM612 168h12v12h-12zM516 180h12v12h-12zM600 180h24v12h-24zM516 192h84v12h-84zM528 204h24v12h-24z"/><path fill="#ffda66" d="M552 84h12v12h-12zM540 96h12v12h-12zM528 120h12v12h-12zM612 120h12v12h-12zM528 132h12v12h-12zM612 132h12v12h-12zM528 144h12v12h-12zM612 144h12v12h-12zM528 156h12v12h-12zM600 156h12v12h-12zM528 168h12v12h-12zM600 168h12v12h-12zM528 180h72v12h-72z"/><path fill="#ffd366" d="M564 84h24v12h-24zM600 96h12v12h-12zM540 108h12v12h-12zM600 132h12v12h-12zM540 144h12v12h-12zM600 144h12v12h-12zM540 156h12v12h-12zM588 156h12v12h-12zM540 168h60v12h-60z"/><path fill="#ffcd66" d="M552 96h12v12h-12zM600 108h12v12h-12zM540 120h12v12h-12zM600 120h12v12h-12zM540 132h12v12h-12zM552 144h12v12h-12zM588 144h12v12h-12zM552 156h36v12h-36z"/><path fill="#ffc766" d="M564 96h12v12h-12zM588 96h12v12h-12zM552 108h12v12h-12zM552 120h12v12h-12zM588 120h12v12h-12zM552 132h12v12h-12zM588 132h12v12h-12zM564 144h24v12h-24z"/><path fill="#ffc066" d="M576 96h12v12h-12zM564 108h12v12h-12zM588 108h12v12h-12zM564 120h24v12h-24zM564 132h24v12h-24z"/><path fill="#ffba66" d="M576 108h12v12h-12z"/></g></g><g clip-path="url(#cs)"><g filter="url(#bl)"><path fill="#6f88ee" d="M228 504h24v12h-24zM204 516h48v12h-48zM180 528h72v12h-72zM156 540h96v12h-96zM144 552h108v12h-108zM132 564h120v12h-120zM108 576h144v12h-144zM96 588h156v12h-156zM84 600h168v12h-168zM84 612h168v12h-168zM72 624h180v12h-180zM84 636h168v12h-168zM84 648h168v12h-168zM84 660h156v12h-156zM96 672h144v12h-144zM108 684h120v12h-120zM120 696h96v12h-96zM132 708h72v12h-72zM144 720h60v12h-60zM144 732h48v12h-48zM156 744h36v12h-36zM168 756h12v12h-12z"/><path fill="#708cf1" d="M252 492h12v12h-12zM252 504h12v12h-12zM252 516h12v12h-12zM252 528h12v12h-12zM252 540h12v12h-12zM252 552h12v12h-12zM252 564h12v12h-12zM252 576h12v12h-12zM252 588h12v12h-12zM252 600h12v12h-12zM252 612h12v12h-12zM252 624h12v12h-12zM252 636h12v12h-12zM252 648h12v12h-12zM240 660h24v12h-24zM240 672h24v12h-24zM228 684h24v12h-24zM216 696h24v12h-24zM204 708h24v12h-24zM204 720h24v12h-24zM192 732h24v12h-24zM192 744h24v12h-24zM180 756h24v12h-24zM180 768h12v12h-12z"/><path fill="#7090f3" d="M264 492h12v12h-12zM264 504h12v12h-12zM264 516h12v12h-12zM264 528h12v12h-12zM264 540h12v12h-12zM264 552h12v12h-12zM264 564h12v12h-12zM264 576h12v12h-12zM264 588h12v12h-12zM264 600h12v12h-12zM264 612h12v12h-12zM264 624h12v12h-12zM264 636h12v12h-12zM264 648h12v12h-12zM264 660h12v12h-12zM264 672h12v12h-12zM252 684h24v12h-24zM240 696h24v12h-24zM228 708h24v12h-24zM228 720h12v12h-12zM216 732h12v12h-12zM216 744h12v12h-12zM204 756h12v12h-12zM192 768h12v12h-12z"/><path fill="#7194f5" d="M276 492h12v12h-12zM276 504h12v12h-12zM276 516h12v12h-12zM276 528h12v12h-12zM276 540h12v12h-12zM276 552h12v12h-12zM276 564h12v12h-12zM276 576h12v12h-12zM276 588h12v12h-12zM276 600h12v12h-12zM276 612h12v12h-12zM276 624h12v12h-12zM276 636h12v12h-12zM276 648h12v12h-12zM276 660h12v12h-12zM276 672h12v12h-12zM276 684h12v12h-12zM264 696h12v12h-12zM252 708h12v12h-12zM240 720h12v12h-12zM228 732h12v12h-12zM228 744h12v12h-12zM216 756h12v12h-12zM204 768h12v12h-12z"/><path fill="#7198f7" d="M288 492h12v12h-12zM288 504h12v12h-12zM288 516h12v12h-12zM288 528h12v12h-12zM288 540h12v12h-12zM288 552h12v12h-12zM288 564h12v12h-12zM288 576h12v12h-12zM288 588h12v12h-12zM288 600h12v12h-12zM288 612h12v12h-12zM288 624h12v12h-12zM288 636h12v12h-12zM288 648h12v12h-12zM288 660h12v12h-12zM288 672h12v12h-12zM288 684h12v12h-12zM276 696h12v12h-12zM264 708h24v12h-24zM252 720h24v12h-24zM240 732h24v12h-24zM240 744h12v12h-12zM228 756h12v12h-12zM216 768h12v12h-12zM192 780h12v12h-12z"/><path fill="#729cf9" d="M312 468h24v12h-24zM288 480h48v12h-48zM300 492h36v12h-36zM300 504h36v12h-36zM300 516h36v12h-36zM300 528h36v12h-36zM300 540h36v12h-36zM300 552h36v12h-36zM300 564h36v12h-36zM300 576h36v12h-36zM300 588h36v12h-36zM300 600h36v12h-36zM300 612h36v12h-36zM300 624h36v12h-36zM300 636h36v12h-36zM300 648h36v12h-36zM300 660h36v12h-36zM300 672h36v12h-36zM300 684h24v12h-24zM288 696h24v12h-24zM288 708h12v12h-12zM276 720h12v12h-12zM264 732h12v12h-12zM252 744h12v12h-12zM240 756h12v12h-12zM228 768h12v12h-12zM204 780h12v12h-12z"/><path fill="#71a5fa" d="M336 456h12v12h-12zM336 468h12v12h-12zM336 480h12v12h-12zM336 492h12v12h-12zM336 504h12v12h-12zM336 516h24v12h-24zM336 528h24v12h-24zM336 540h24v12h-24zM336 552h24v12h-24zM336 564h24v12h-24zM336 576h24v12h-24zM336 588h24v12h-24zM336 600h24v12h-24zM336 612h24v12h-24zM336 624h24v12h-24zM336 636h24v12h-24zM336 648h24v12h-24zM336 660h12v12h-12zM336 672h12v12h-12zM324 684h24v12h-24zM312 696h24v12h-24zM300 708h24v12h-24zM288 720h24v12h-24zM276 732h24v12h-24zM264 744h24v12h-24zM252 756h24v12h-24zM240 768h24v12h-24zM216 780h24v12h-24z"/><path fill="#70adfa" d="M348 456h12v12h-12zM348 468h12v12h-12zM348 480h12v12h-12zM348 492h12v12h-12zM348 504h12v12h-12zM348 660h12v12h-12zM348 672h12v12h-12zM348 684h12v12h-12zM336 696h12v12h-12zM324 708h12v12h-12zM312 720h12v12h-12zM300 732h12v12h-12zM288 744h12v12h-12zM276 756h12v12h-12zM264 768h12v12h-12zM240 780h24v12h-24zM204 792h36v12h-36z"/><path fill="#6eb6fb" d="M360 456h12v12h-12zM360 468h12v12h-12zM360 480h12v12h-12zM360 492h12v12h-12zM360 504h12v12h-12zM360 516h12v12h-12zM360 528h12v12h-12zM360 540h12v12h-12zM360 552h12v12h-12zM360 564h12v12h-12zM360 576h12v12h-12zM360 588h12v12h-12zM360 600h12v12h-12zM360 612h12v12h-12zM360 624h12v12h-12zM360 636h12v12h-12zM360 648h12v12h-12zM360 660h12v12h-12zM360 672h12v12h-12zM348 696h12v12h-12zM336 708h12v12h-12zM324 720h12v12h-12zM312 732h12v12h-12zM300 744h12v12h-12zM288 756h12v12h-12zM276 768h12v12h-12zM264 780h12v12h-12zM240 792h24v12h-24zM204 804h36v12h-36z"/><path fill="#6dbffb" d="M372 456h12v12h-12zM372 468h12v12h-12zM372 480h12v12h-12zM372 492h12v12h-12zM372 504h12v12h-12zM372 516h12v12h-12zM372 528h12v12h-12zM372 540h12v12h-12zM372 552h12v12h-12zM372 564h12v12h-12zM372 576h12v12h-12zM372 588h12v12h-12zM372 600h12v12h-12zM372 612h12v12h-12zM372 624h12v12h-12zM372 636h12v12h-12zM372 648h12v12h-12zM372 660h12v12h-12zM372 672h12v12h-12zM360 684h12v12h-12zM360 696h12v12h-12zM348 708h12v12h-12zM336 720h12v12h-12zM324 732h12v12h-12zM312 744h12v12h-12zM300 756h12v12h-12zM288 768h12v12h-12zM276 780h12v12h-12zM264 792h12v12h-12zM240 804h24v12h-24zM216 816h24v12h-24z"/><path fill="#6cc8fc" d="M384 444h12v12h-12zM384 456h12v12h-12zM384 468h12v12h-12zM384 480h12v12h-12zM384 492h12v12h-12zM384 504h12v12h-12zM384 516h12v12h-12zM384 528h12v12h-12zM384 540h12v12h-12zM384 552h12v12h-12zM384 564h12v12h-12zM384 576h12v12h-12zM384 588h12v12h-12zM384 600h12v12h-12zM384 612h12v12h-12zM384 624h12v12h-12zM384 636h12v12h-12zM384 648h12v12h-12zM372 684h12v12h-12zM360 708h12v12h-12zM348 720h12v12h-12zM336 732h12v12h-12zM324 744h12v12h-12zM312 756h12v12h-12zM300 768h12v12h-12zM288 780h12v12h-12zM276 792h12v12h-12zM264 804h12v12h-12zM240 816h24v12h-24zM216 828h36v12h-36zM228 840h12v12h-12z"/><path fill="#6bd0fd" d="M396 444h12v12h-12zM396 456h12v12h-12zM396 468h12v12h-12zM396 480h12v12h-12zM396 492h12v12h-12zM396 504h12v12h-12zM396 516h12v12h-12zM396 528h12v12h-12zM396 540h12v12h-12zM396 552h12v12h-12zM396 564h12v12h-12zM396 576h12v12h-12zM396 588h12v12h-12zM396 600h12v12h-12zM396 612h12v12h-12zM396 624h12v12h-12zM384 660h12v12h-12zM384 672h12v12h-12zM372 696h12v12h-12zM348 732h12v12h-12zM336 744h12v12h-12zM324 756h12v12h-12zM312 768h12v12h-12zM300 780h12v12h-12zM288 792h12v12h-12zM276 804h12v12h-12zM264 816h12v12h-12zM252 828h12v12h-12zM240 840h12v12h-12zM228 852h24v12h-24z"/><path fill="#6ad9fd" d="M396 636h12v12h-12zM396 648h12v12h-12zM396 660h12v12h-12zM384 684h12v12h-12zM384 696h12v12h-12zM372 708h12v12h-12zM360 720h12v12h-12zM360 732h12v12h-12zM348 744h12v12h-12zM336 756h12v12h-12zM324 768h12v12h-12zM312 780h12v12h-12zM300 792h12v12h-12zM288 804h12v12h-12zM276 816h12v12h-12zM264 828h12v12h-12zM252 840h12v12h-12zM252 852h12v12h-12zM240 864h12v12h-12z"/><path fill="#68e2fe" d="M408 444h12v12h-12zM408 456h12v12h-12zM408 468h12v12h-12zM408 480h12v12h-12zM408 492h12v12h-12zM408 504h12v12h-12zM408 516h12v12h-12zM408 528h12v12h-12zM408 540h12v12h-12zM408 552h12v12h-12zM408 564h12v12h-12zM408 576h12v12h-12zM408 588h12v12h-12zM408 600h12v12h-12zM408 612h12v12h-12zM408 624h12v12h-12zM408 636h12v12h-12zM396 672h12v12h-12zM396 684h12v12h-12zM384 708h12v12h-12zM372 720h12v12h-12zM360 744h12v12h-12zM348 756h12v12h-12zM336 768h12v12h-12zM324 780h12v12h-12zM312 792h12v12h-12zM300 804h12v12h-12zM288 816h12v12h-12zM276 828h12v12h-12zM264 840h12v12h-12zM264 852h12v12h-12zM252 864h12v12h-12z"/><path fill="#67eafe" d="M420 444h12v12h-12zM420 456h24v12h-24zM420 468h24v12h-24zM420 480h24v12h-24zM420 492h24v12h-24zM420 504h12v12h-12zM420 516h12v12h-12zM420 528h12v12h-12zM420 540h12v12h-12zM420 552h12v12h-12zM420 564h12v12h-12zM420 576h12v12h-12zM420 588h12v12h-12zM420 600h12v12h-12zM420 612h12v12h-12zM420 624h12v12h-12zM408 648h12v12h-12zM408 660h12v12h-12zM396 696h12v12h-12zM384 720h12v12h-12zM372 732h12v12h-12zM372 744h12v12h-12zM360 756h12v12h-12zM348 768h24v12h-24zM336 780h24v12h-24zM324 792h24v12h-24zM312 804h24v12h-24zM300 816h24v12h-24zM288 828h24v12h-24zM276 840h24v12h-24zM276 852h12v12h-12zM264 864h12v12h-12zM252 876h24v12h-24zM252 888h12v12h-12z"/><path fill="#66f3ff" d="M444 456h36v12h-36zM444 468h48v12h-48zM444 480h48v12h-48zM444 492h24v12h-24zM432 504h24v12h-24zM432 516h12v12h-12zM432 528h12v12h-12zM432 540h12v12h-12zM432 552h12v12h-12zM432 564h12v12h-12zM432 576h12v12h-12zM432 588h24v12h-24zM432 600h12v12h-12zM432 612h12v12h-12zM432 624h12v12h-12zM420 636h12v12h-12zM420 648h12v12h-12zM408 672h12v12h-12zM408 684h12v12h-12zM396 708h12v12h-12zM384 732h12v12h-12zM384 744h12v12h-12zM372 756h24v12h-24zM372 768h12v12h-12zM360 780h24v12h-24zM348 792h36v12h-36zM336 804h48v12h-48zM324 816h48v12h-48zM312 828h48v12h-48zM300 840h48v12h-48zM288 852h60v12h-60zM276 864h60v12h-60zM276 876h60v12h-60zM264 888h72v12h-72zM276 900h12v12h-12z"/><path fill="#6ef4f8" d="M492 480h24v12h-24zM468 492h24v12h-24zM456 504h24v12h-24zM444 516h24v12h-24zM444 528h12v12h-12zM444 540h12v12h-12zM444 552h12v12h-12zM444 564h12v12h-12zM444 576h24v12h-24zM456 588h12v12h-12zM444 600h24v12h-24zM444 612h12v12h-12zM444 624h12v12h-12zM432 636h12v12h-12zM420 660h12v12h-12zM408 696h12v12h-12zM396 720h12v12h-12zM396 732h12v12h-12zM396 744h12v12h-12zM384 768h12v12h-12zM384 780h12v12h-12zM384 792h12v12h-12zM384 804h12v12h-12zM372 816h24v12h-24zM360 828h24v12h-24zM348 840h24v12h-24zM348 852h12v12h-12zM336 864h24v12h-24zM336 876h24v12h-24zM336 888h24v12h-24z"/><path fill="#77f4f1" d="M492 492h12v12h-12zM480 504h12v12h-12zM468 516h12v12h-12zM456 528h12v12h-12zM456 540h12v12h-12zM456 552h12v12h-12zM456 564h12v12h-12zM468 576h12v12h-12zM468 588h12v12h-12zM468 600h12v12h-12zM456 612h12v12h-12zM456 624h12v12h-12zM444 636h12v12h-12zM432 648h12v12h-12zM420 672h12v12h-12zM408 708h12v12h-12zM408 720h12v12h-12zM396 756h12v12h-12zM396 768h12v12h-12zM396 780h12v12h-12zM396 792h12v12h-12zM396 804h12v12h-12zM396 816h12v12h-12zM384 828h12v12h-12zM372 840h12v12h-12zM360 852h12v12h-12zM360 864h12v12h-12zM360 876h12v12h-12zM360 888h12v12h-12z"/><path fill="#7ff5ea" d="M504 492h12v12h-12zM492 504h12v12h-12zM480 516h12v12h-12zM468 528h12v12h-12zM468 540h12v12h-12zM468 564h12v12h-12zM480 588h12v12h-12zM480 600h12v12h-12zM468 612h12v12h-12zM468 624h12v12h-12zM456 636h12v12h-12zM444 648h12v12h-12zM432 660h12v12h-12zM420 684h12v12h-12zM420 696h12v12h-12zM408 732h12v12h-12zM408 744h12v12h-12zM408 756h12v12h-12zM408 768h12v12h-12zM408 780h12v12h-12zM408 792h12v12h-12zM408 804h12v12h-12zM408 816h12v12h-12zM396 828h12v12h-12zM384 840h12v12h-12zM372 852h12v12h-12zM372 864h12v12h-12z"/><path fill="#88f5e3" d="M480 528h12v12h-12zM468 552h12v12h-12zM480 576h12v12h-12zM480 612h12v12h-12zM480 624h12v12h-12zM468 636h12v12h-12zM456 648h12v12h-12zM444 660h12v12h-12zM432 672h12v12h-12zM432 684h12v12h-12zM420 708h12v12h-12zM420 720h12v12h-12zM420 732h12v12h-12zM420 744h12v12h-12zM420 756h12v12h-12zM420 768h12v12h-12zM420 780h12v12h-12zM420 792h12v12h-12zM420 804h12v12h-12zM408 828h12v12h-12zM396 840h12v12h-12zM384 852h12v12h-12zM384 864h12v12h-12zM372 876h12v12h-12z"/><path fill="#90f6dc" d="M516 492h12v12h-12zM504 504h12v12h-12zM492 516h12v12h-12zM480 540h12v12h-12zM480 552h12v12h-12zM480 564h12v12h-12zM492 588h12v12h-12zM492 600h12v12h-12zM492 612h12v12h-12zM492 624h12v12h-12zM480 636h12v12h-12zM468 648h12v12h-12zM444 672h12v12h-12zM432 696h12v12h-12zM420 816h12v12h-12zM420 828h12v12h-12zM408 840h12v12h-12zM396 852h12v12h-12zM384 876h12v12h-12zM384 888h12v12h-12z"/><path fill="#98f7d6" d="M492 528h12v12h-12zM492 576h12v12h-12zM492 636h12v12h-12zM480 648h12v12h-12zM456 660h12v12h-12zM444 684h12v12h-12zM432 708h12v12h-12zM432 720h12v12h-12zM432 732h12v12h-12zM432 744h12v12h-12zM432 756h12v12h-12zM432 768h12v12h-12zM432 780h12v12h-12zM432 792h12v12h-12zM432 804h12v12h-12zM432 816h12v12h-12zM432 828h12v12h-12zM420 840h12v12h-12zM408 852h12v12h-12zM396 864h12v12h-12zM396 876h12v12h-12zM396 888h12v12h-12z"/><path fill="#a1f7cf" d="M516 504h12v12h-12zM504 516h12v12h-12zM492 540h12v12h-12zM492 552h12v12h-12zM492 564h12v12h-12zM504 600h12v12h-12zM504 612h12v12h-12zM504 624h12v12h-12zM504 636h12v12h-12zM492 648h12v12h-12zM468 660h12v12h-12zM456 672h12v12h-12zM444 696h12v12h-12zM444 804h12v12h-12zM444 816h12v12h-12zM444 828h12v12h-12zM432 840h12v12h-12zM420 852h12v12h-12zM408 864h12v12h-12zM408 876h12v12h-12zM408 888h12v12h-12z"/><path fill="#a9f8c8" d="M504 576h12v12h-12zM504 588h12v12h-12zM504 648h12v12h-12zM480 660h12v12h-12zM468 672h12v12h-12zM456 684h12v12h-12zM444 708h12v12h-12zM444 720h12v12h-12zM444 732h12v12h-12zM444 744h12v12h-12zM444 756h12v12h-12zM444 768h12v12h-12zM444 780h12v12h-12zM444 792h12v12h-12zM444 840h12v12h-12zM432 852h24v12h-24zM420 864h24v12h-24zM420 876h12v12h-12zM420 888h12v12h-12z"/><path fill="#b2f8c1" d="M504 528h12v12h-12zM504 564h12v12h-12zM516 612h12v12h-12zM516 624h12v12h-12zM516 636h12v12h-12zM492 660h12v12h-12zM480 672h12v12h-12zM468 684h12v12h-12zM456 696h12v12h-12zM456 804h12v12h-12zM456 816h12v12h-12zM456 828h12v12h-12zM456 840h12v12h-12zM456 852h12v12h-12zM444 864h24v12h-24zM432 876h24v12h-24zM432 888h24v12h-24z"/><path fill="#baf9ba" d="M528 504h12v12h-12zM516 516h12v12h-12zM504 540h12v12h-12zM504 552h12v12h-12zM516 588h12v12h-12zM516 600h12v12h-12zM516 648h12v12h-12zM504 660h12v12h-12zM468 696h12v12h-12zM456 708h12v12h-12zM456 720h12v12h-12zM456 780h12v12h-12zM456 792h12v12h-12zM468 816h12v12h-12zM468 828h12v12h-12zM468 840h12v12h-12zM468 852h12v12h-12zM468 864h12v12h-12zM456 876h24v12h-24zM456 888h36v12h-36z"/><path fill="#c1f9b2" d="M516 528h12v12h-12zM516 576h12v12h-12zM492 672h12v12h-12zM480 684h12v12h-12zM468 708h12v12h-12zM456 732h12v12h-12zM456 744h12v12h-12zM456 756h12v12h-12zM456 768h12v12h-12zM468 804h12v12h-12zM480 852h12v12h-12zM480 864h12v12h-12zM480 876h12v12h-12z"/><path fill="#c8f9a9" d="M528 516h12v12h-12zM516 540h12v12h-12zM516 552h12v12h-12zM516 564h12v12h-12zM528 624h12v12h-12zM528 636h12v12h-12zM516 660h12v12h-12zM504 672h12v12h-12zM492 684h12v12h-12zM480 696h12v12h-12zM468 720h12v12h-12zM468 780h12v12h-12zM468 792h12v12h-12zM480 816h12v12h-12zM480 828h12v12h-12zM480 840h12v12h-12z"/><path fill="#cff9a1" d="M528 528h12v12h-12zM528 600h12v12h-12zM528 612h12v12h-12zM528 648h12v12h-12zM516 672h12v12h-12zM504 684h12v12h-12zM492 696h12v12h-12zM480 708h12v12h-12zM468 732h12v12h-12zM468 744h12v12h-12zM468 756h12v12h-12zM468 768h12v12h-12zM480 804h12v12h-12zM492 864h12v12h-12zM492 876h12v12h-12z"/><path fill="#d6f998" d="M540 516h12v12h-12zM528 540h12v12h-12zM528 552h12v12h-12zM528 564h12v12h-12zM528 576h12v12h-12zM528 588h12v12h-12zM528 660h12v12h-12zM480 720h12v12h-12zM480 780h12v12h-12zM480 792h12v12h-12zM492 816h12v12h-12zM492 828h12v12h-12zM492 840h12v12h-12zM492 852h12v12h-12z"/><path fill="#dcf990" d="M552 516h12v12h-12zM540 528h12v12h-12zM540 540h12v12h-12zM516 684h12v12h-12zM504 696h12v12h-12zM492 708h12v12h-12zM480 732h12v12h-12zM480 744h12v12h-12zM480 756h12v12h-12zM480 768h12v12h-12zM492 792h12v12h-12zM492 804h12v12h-12z"/><path fill="#e3f988" d="M552 528h12v12h-12zM540 552h12v12h-12zM540 624h12v12h-12zM540 636h12v12h-12zM540 648h12v12h-12zM528 672h12v12h-12zM516 696h12v12h-12zM504 708h12v12h-12zM492 720h12v12h-12zM492 732h12v12h-12zM492 744h12v12h-12zM492 768h12v12h-12zM492 780h12v12h-12zM504 828h12v12h-12zM504 840h12v12h-12zM504 852h12v12h-12zM504 864h12v12h-12zM504 876h12v12h-12z"/><path fill="#eaf97f" d="M540 564h12v12h-12zM540 612h12v12h-12zM540 660h12v12h-12zM528 684h12v12h-12zM516 708h12v12h-12zM504 720h12v12h-12zM492 756h12v12h-12zM504 792h12v12h-12zM504 804h12v12h-12zM504 816h12v12h-12z"/><path fill="#f1f977" d="M552 540h12v12h-12zM540 576h12v12h-12zM540 588h12v12h-12zM540 600h12v12h-12zM540 672h12v12h-12zM528 696h12v12h-12zM516 720h12v12h-12zM504 732h12v12h-12zM504 744h12v12h-12zM504 756h12v12h-12zM504 768h12v12h-12zM504 780h12v12h-12zM516 804h12v12h-12zM516 816h12v12h-12zM516 828h12v12h-12zM516 840h12v12h-12zM516 852h12v12h-12zM516 864h12v12h-12zM516 876h12v12h-12z"/><path fill="#f8f96e" d="M564 528h12v12h-12zM552 552h12v12h-12zM540 684h12v12h-12zM528 708h12v12h-12zM528 720h12v12h-12zM516 732h24v12h-24zM516 744h12v12h-12zM516 756h12v12h-12zM516 768h12v12h-12zM516 780h24v12h-24zM516 792h24v12h-24zM528 804h12v12h-12zM528 816h12v12h-12zM528 828h12v12h-12zM528 840h12v12h-12zM528 852h12v12h-12zM528 864h12v12h-12z"/><path fill="#fff966" d="M552 636h12v12h-12zM552 648h12v12h-12zM540 696h12v12h-12zM540 708h12v12h-12zM540 720h12v12h-12zM540 732h12v12h-12zM528 744h36v12h-36zM528 756h36v12h-36zM528 768h48v12h-48zM540 780h48v12h-48zM540 792h72v12h-72zM540 804h84v12h-84zM540 816h96v12h-96zM540 828h96v12h-96zM540 840h108v12h-108zM540 852h96v12h-96zM540 864h24v12h-24z"/><path fill="#fff366" d="M564 540h12v12h-12zM552 564h12v12h-12zM552 624h12v12h-12zM552 660h12v12h-12zM552 672h12v12h-12zM552 696h12v12h-12zM552 708h12v12h-12zM552 720h12v12h-12zM552 732h24v12h-24zM564 744h12v12h-12zM564 756h24v12h-24zM576 768h24v12h-24zM588 780h36v12h-36zM612 792h24v12h-24zM624 804h12v12h-12zM636 816h12v12h-12zM636 828h24v12h-24zM648 840h24v12h-24z"/><path fill="#ffec66" d="M552 576h12v12h-12zM552 600h12v12h-12zM552 612h12v12h-12zM552 684h12v12h-12zM564 720h12v12h-12zM576 744h12v12h-12zM588 756h12v12h-12zM600 768h12v12h-12zM624 780h12v12h-12zM636 792h12v12h-12zM636 804h12v12h-12zM648 816h12v12h-12zM660 828h12v12h-12zM672 840h12v12h-12z"/><path fill="#ffe666" d="M552 588h12v12h-12zM564 708h12v12h-12zM576 732h12v12h-12zM588 744h12v12h-12zM600 756h12v12h-12zM612 768h12v12h-12zM636 780h12v12h-12zM648 792h12v12h-12zM648 804h12v12h-12zM660 816h12v12h-12zM672 828h12v12h-12z"/><path fill="#ffe066" d="M564 552h12v12h-12zM564 636h12v12h-12zM564 648h12v12h-12zM564 660h12v12h-12zM564 672h12v12h-12zM564 684h12v12h-12zM564 696h12v12h-12zM576 720h12v12h-12zM612 756h12v12h-12zM624 768h12v12h-12zM648 780h12v12h-12zM660 792h12v12h-12zM660 804h24v12h-24zM672 816h24v12h-24zM684 828h24v12h-24z"/><path fill="#ffda66" d="M564 624h12v12h-12zM576 708h12v12h-12zM588 732h12v12h-12zM600 744h12v12h-12zM624 756h12v12h-12zM636 768h12v12h-12zM660 780h12v12h-12zM672 792h12v12h-12zM684 804h24v12h-24zM696 816h24v12h-24z"/><path fill="#ffd366" d="M564 564h12v12h-12zM564 612h12v12h-12zM576 696h12v12h-12zM588 720h12v12h-12zM600 732h12v12h-12zM612 744h12v12h-12zM648 768h12v12h-12zM672 780h24v12h-24zM684 792h24v12h-24zM708 804h12v12h-12z"/><path fill="#ffcd66" d="M576 540h12v12h-12zM564 576h12v12h-12zM564 588h12v12h-12zM564 600h12v12h-12zM576 648h12v12h-12zM576 660h12v12h-12zM576 672h12v12h-12zM576 684h12v12h-12zM588 708h12v12h-12zM636 756h12v12h-12zM660 768h24v12h-24zM696 780h12v12h-12zM708 792h12v12h-12zM720 804h12v12h-12z"/><path fill="#ffc766" d="M576 624h12v12h-12zM576 636h12v12h-12zM588 696h12v12h-12zM600 720h12v12h-12zM612 732h12v12h-12zM624 744h12v12h-12zM648 756h24v12h-24zM684 768h24v12h-24zM708 780h12v12h-12zM720 792h12v12h-12z"/><path fill="#ffc066" d="M576 552h12v12h-12zM576 612h12v12h-12zM588 684h12v12h-12zM600 708h12v12h-12zM636 744h12v12h-12zM672 756h24v12h-24zM708 768h24v12h-24zM720 780h24v12h-24z"/><path fill="#ffba66" d="M576 564h12v12h-12zM576 600h12v12h-12zM588 648h12v12h-12zM588 660h12v12h-12zM588 672h12v12h-12zM612 720h12v12h-12zM624 732h12v12h-12zM648 744h24v12h-24zM708 744h60v12h-60zM696 756h60v12h-60zM732 768h24v12h-24z"/><path fill="#feb266" d="M576 576h12v12h-12zM576 588h12v12h-12zM588 624h12v12h-12zM588 636h12v12h-12zM600 696h12v12h-12zM612 708h12v12h-12zM624 720h12v12h-12zM732 720h36v12h-36zM636 732h12v12h-12zM696 732h72v12h-72zM672 744h36v12h-36z"/><path fill="#fda966" d="M588 540h12v12h-12zM588 612h12v12h-12zM600 660h12v12h-12zM600 672h12v12h-12zM600 684h12v12h-12zM720 708h48v12h-48zM696 720h36v12h-36zM648 732h48v12h-48z"/><path fill="#fba166" d="M588 552h12v12h-12zM588 600h12v12h-12zM600 636h12v12h-12zM600 648h12v12h-12zM612 696h12v12h-12zM732 696h36v12h-36zM624 708h12v12h-12zM696 708h24v12h-24zM636 720h12v12h-12zM684 720h12v12h-12z"/><path fill="#fa9866" d="M588 564h12v12h-12zM588 576h12v12h-12zM588 588h12v12h-12zM600 624h12v12h-12zM612 660h12v12h-12zM612 672h12v12h-12zM612 684h12v12h-12zM720 684h48v12h-48zM624 696h12v12h-12zM696 696h36v12h-36zM636 708h12v12h-12zM684 708h12v12h-12zM648 720h36v12h-36z"/><path fill="#f99066" d="M732 600h12v12h-12zM600 612h12v12h-12zM732 612h12v12h-12zM720 624h36v12h-36zM612 636h12v12h-12zM720 636h48v12h-48zM612 648h12v12h-12zM720 648h48v12h-48zM708 660h60v12h-60zM708 672h60v12h-60zM624 684h12v12h-12zM696 684h24v12h-24zM684 696h12v12h-12zM648 708h36v12h-36z"/><path fill="#f88866" d="M600 540h12v12h-12zM600 588h12v12h-12zM720 588h12v12h-12zM600 600h12v12h-12zM720 600h12v12h-12zM708 612h24v12h-24zM612 624h12v12h-12zM696 624h24v12h-24zM696 636h24v12h-24zM624 648h12v12h-12zM696 648h24v12h-24zM624 660h12v12h-12zM696 660h12v12h-12zM624 672h12v12h-12zM696 672h12v12h-12zM684 684h12v12h-12zM636 696h24v12h-24zM672 696h12v12h-12z"/><path fill="#f77f66" d="M600 552h12v12h-12zM600 564h12v12h-12zM600 576h12v12h-12zM708 588h12v12h-12zM612 600h12v12h-12zM708 600h12v12h-12zM612 612h12v12h-12zM696 612h12v12h-12zM624 624h12v12h-12zM684 624h12v12h-12zM624 636h12v12h-12zM684 636h12v12h-12zM684 648h12v12h-12zM636 660h12v12h-12zM684 660h12v12h-12zM636 672h12v12h-12zM672 672h24v12h-24zM636 684h48v12h-48zM660 696h12v12h-12z"/><path fill="#f57766" d="M612 552h12v12h-12zM612 564h12v12h-12zM612 576h12v12h-12zM708 576h12v12h-12zM612 588h12v12h-12zM696 588h12v12h-12zM624 600h12v12h-12zM684 600h24v12h-24zM624 612h12v12h-12zM684 612h12v12h-12zM636 624h12v12h-12zM672 624h12v12h-12zM636 636h12v12h-12zM672 636h12v12h-12zM636 648h48v12h-48zM648 660h36v12h-36zM648 672h24v12h-24z"/><path fill="#f46e66" d="M624 552h12v12h-12zM624 564h12v12h-12zM624 576h12v12h-12zM684 576h24v12h-24zM624 588h24v12h-24zM684 588h12v12h-12zM636 600h48v12h-48zM636 612h48v12h-48zM648 624h24v12h-24zM648 636h24v12h-24z"/><path fill="#f36666" d="M636 564h60v12h-60zM636 576h48v12h-48zM648 588h36v12h-36z"/></g></g><g filter="url(#bl2)"><ellipse cx="362.4" cy="682.6" rx="21.7" ry="21.7" fill="#fff" fill-opacity="0.85"/><ellipse cx="457.5" cy="732.4" rx="18.1" ry="18.1" fill="#fff" fill-opacity="0.75"/><ellipse cx="244.7" cy="569.4" rx="10.0" ry="10.0" fill="#fff" fill-opacity="0.60"/><ellipse cx="530.0" cy="202.6" rx="20.4" ry="20.4" fill="#fff" fill-opacity="0.55"/><ellipse cx="597.9" cy="139.2" rx="15.8" ry="15.8" fill="#fff" fill-opacity="0.50"/><ellipse cx="108.9" cy="84.9" rx="24.9" ry="24.9" fill="#fff" fill-opacity="0.35"/><ellipse cx="158.7" cy="130.2" rx="20.4" ry="20.4" fill="#fff" fill-opacity="0.30"/></g><polygon points="96.8,41.2 153.6,-21.9 193.6,-52.2 324.1,-35.4 368.3,-9.3 385.1,5.5 376.7,-0.9 359.9,-0.9 334.6,3.3 300.9,11.8 267.3,18.1 225.2,24.4 187.3,30.7 132.6,37.0 94.7,43.3" fill="#fff" filter="url(#bl3)"/><polygon points="193.6,-52.2 324.1,-35.4 368.3,-9.3 385.1,5.5 402.0,26.5 420.9,39.1 444.1,46.3 469.3,45.4 490.4,41.2 513.5,23.1 555.6,26.5 639.8,33.7 662.9,66.5 679.8,91.7 690.3,121.2 688.2,188.5 681.9,230.6 667.1,264.3 631.4,333.8 536.7,330.8 503.0,346.4 469.3,367.4 423.0,396.9 397.8,403.2 334.6,401.1 284.1,417.9 254.6,439.0 216.8,462.1 187.3,487.4 130.5,491.6 115.7,514.7 92.6,529.5 90.5,356.9 80.0,272.7 67.3,171.7 64.4,142.2 80.0,70.7 96.8,41.2 153.6,-21.9" fill="none" stroke="#2a2a2a" stroke-width="2" stroke-linejoin="round"/><polygon points="365.9,481.2 400.6,478.6 459.2,481.2 478.7,497.2 522.1,534.1 578.4,566.6 630.5,588.3 665.2,588.3 695.5,605.6 719.4,620.8 725.9,642.5 738.9,659.8 741.1,716.2 734.6,737.9 721.6,768.2 695.5,802.9 682.5,816.0 643.5,826.8 587.1,833.3 548.1,842.0 496.0,859.3 452.7,874.5 418.0,875.8 400.6,870.2 383.3,861.5 331.3,868.9 279.2,876.7 253.2,833.3 227.2,781.3 192.5,742.2 170.8,716.2 136.1,681.5 118.8,659.8 107.9,629.5 127.4,607.8 162.1,581.8 201.2,555.7 235.8,538.4 287.9,516.7 335.6,499.4" fill="none" stroke="#2a2a2a" stroke-width="2" stroke-linejoin="round"/></g><path d="M155.8 2162.5v21M249.4 2162.5v21M343.0 2162.5v21M436.6 2162.5v21M530.2 2162.5v21M623.8 2162.5v21M717.4 2162.5v21M811.0 2162.5v21M904.6 2162.5v21M998.2 2162.5v21M109.5 1248.0h-21M109.5 1369.6h-21M109.5 1491.2h-21M109.5 1612.8h-21M109.5 1734.4h-21M109.5 1856.0h-21M109.5 1977.6h-21M109.5 2099.2h-21" stroke="#444" stroke-width="3" fill="none"/><rect x="109.5" y="1161.7" width="949.0" height="1000.8" fill="none" stroke="#000" stroke-width="5"/><text x="155.8" y="2223.5" text-anchor="middle" class="ax">116°24'0&quot;E</text><text x="436.6" y="2223.5" text-anchor="middle" class="ax">116°28'30&quot;E</text><text x="717.4" y="2223.5" text-anchor="middle" class="ax">116°33'0&quot;E</text><text x="998.2" y="2223.5" text-anchor="middle" class="ax">116°37'30&quot;E</text><text transform="translate(74.0,1248.0) rotate(-90)" text-anchor="middle" class="ay">40°3'0&quot;N</text><text transform="translate(74.0,1491.2) rotate(-90)" text-anchor="middle" class="ay">40°0'0&quot;N</text><text transform="translate(74.0,1734.4) rotate(-90)" text-anchor="middle" class="ay">39°57'0&quot;N</text><text transform="translate(74.0,1977.6) rotate(-90)" text-anchor="middle" class="ay">39°54'0&quot;N</text><text x="160.7" y="1255.5" class="let">c</text><text x="897.5" y="2110.5" class="yr">2013</text></g><g><g transform="translate(1292.9,1234.0)"><g clip-path="url(#cn)"><g filter="url(#bl)"><path fill="#6c75e4" d="M36 108h12v12h-12zM36 120h24v12h-24zM36 132h24v12h-24zM36 144h24v12h-24zM36 156h36v12h-36zM36 168h48v12h-48zM36 180h60v12h-60zM36 192h72v12h-72zM36 204h72v12h-72zM48 216h60v12h-60zM48 228h60v12h-60zM48 240h72v12h-72zM48 252h72v12h-72zM48 264h84v12h-84zM48 276h96v12h-96zM48 288h108v12h-108zM48 300h108v12h-108zM60 312h96v12h-96zM60 324h96v12h-96zM60 336h96v12h-96zM60 348h96v12h-96zM60 360h96v12h-96zM60 372h96v12h-96zM60 384h96v12h-96zM60 396h96v12h-96zM60 408h96v12h-96zM60 420h96v12h-96zM60 432h108v12h-108zM60 444h108v12h-108zM60 456h120v12h-120zM60 468h132v12h-132zM60 480h144v12h-144zM60 492h156v12h-156zM60 504h144v12h-144zM60 516h84v12h-84zM60 528h84v12h-84zM72 540h48v12h-48zM84 552h12v12h-12z"/><path fill="#6d79e6" d="M48 96h12v12h-12zM48 108h24v12h-24zM60 120h12v12h-12zM60 132h24v12h-24zM60 144h24v12h-24zM72 156h24v12h-24zM84 168h24v12h-24zM96 180h24v12h-24zM108 192h12v12h-12zM108 204h24v12h-24zM108 216h24v12h-24zM108 228h24v12h-24zM120 240h12v12h-12zM120 252h24v12h-24zM132 264h24v12h-24zM144 276h24v12h-24zM156 288h12v12h-12zM156 300h12v12h-12zM156 312h24v12h-24zM156 324h24v12h-24zM156 336h24v12h-24zM156 348h24v12h-24zM156 360h24v12h-24zM156 372h24v12h-24zM156 384h24v12h-24zM156 396h24v12h-24zM156 408h24v12h-24zM156 420h24v12h-24zM168 432h12v12h-12zM168 444h24v12h-24zM180 456h24v12h-24zM192 468h12v12h-12zM204 480h12v12h-12z"/><path fill="#6d7de8" d="M48 84h12v12h-12zM60 96h12v12h-12zM72 108h12v12h-12zM72 120h12v12h-12zM84 132h12v12h-12zM84 144h12v12h-12zM96 156h12v12h-12zM108 168h24v12h-24zM120 180h12v12h-12zM120 192h24v12h-24zM132 204h12v12h-12zM132 216h12v12h-12zM132 228h12v12h-12zM132 240h24v12h-24zM144 252h24v12h-24zM156 264h24v12h-24zM168 276h12v12h-12zM168 288h12v12h-12zM168 300h12v12h-12zM180 384h12v12h-12zM180 396h12v12h-12zM180 408h12v12h-12zM180 420h12v12h-12zM180 432h12v12h-12zM192 444h12v12h-12zM204 468h12v12h-12zM216 480h12v12h-12z"/><path fill="#6e81ea" d="M48 72h12v12h-12zM60 84h12v12h-12zM72 96h12v12h-12zM84 108h12v12h-12zM84 120h12v12h-12zM96 132h12v12h-12zM96 144h24v12h-24zM108 156h24v12h-24zM132 168h12v12h-12zM132 180h12v12h-12zM144 192h12v12h-12zM144 204h12v12h-12zM144 216h12v12h-12zM144 228h12v12h-12zM156 240h12v12h-12zM168 252h12v12h-12zM180 264h12v12h-12zM180 276h12v12h-12zM180 288h12v12h-12zM180 300h12v12h-12zM180 312h12v12h-12zM180 324h12v12h-12zM180 336h12v12h-12zM180 348h12v12h-12zM180 360h12v12h-12zM180 372h12v12h-12zM192 396h12v12h-12zM192 408h12v12h-12zM192 420h12v12h-12zM192 432h12v12h-12zM204 444h12v12h-12zM204 456h12v12h-12zM216 468h12v12h-12z"/><path fill="#6e85ec" d="M48 60h12v12h-12zM60 72h12v12h-12zM72 84h12v12h-12zM84 96h12v12h-12zM96 108h12v12h-12zM96 120h24v12h-24zM108 132h12v12h-12zM120 144h12v12h-12zM132 156h12v12h-12zM144 168h12v12h-12zM144 180h24v12h-24zM156 192h12v12h-12zM156 204h12v12h-12zM156 216h12v12h-12zM156 228h24v12h-24zM168 240h24v12h-24zM180 252h24v12h-24zM192 264h12v12h-12zM192 276h12v12h-12zM192 288h24v12h-24zM192 300h24v12h-24zM192 312h24v12h-24zM192 324h24v12h-24zM192 336h24v12h-24zM192 348h24v12h-24zM192 360h24v12h-24zM192 372h24v12h-24zM192 384h24v12h-24zM204 396h12v12h-12zM204 408h12v12h-12zM204 420h12v12h-12zM204 432h12v12h-12zM216 444h12v12h-12zM216 456h12v12h-12zM228 468h12v12h-12zM228 480h12v12h-12z"/><path fill="#6f88ee" d="M96 -12h12v12h-12zM84 0h24v12h-24zM72 12h36v12h-36zM72 24h36v12h-36zM60 36h48v12h-48zM60 48h48v12h-48zM60 60h48v12h-48zM72 72h36v12h-36zM84 84h24v12h-24zM96 96h24v12h-24zM108 108h12v12h-12zM120 120h12v12h-12zM120 132h24v12h-24zM132 144h24v12h-24zM144 156h24v12h-24zM156 168h24v12h-24zM168 180h24v12h-24zM168 192h24v12h-24zM168 204h36v12h-36zM168 216h36v12h-36zM180 228h24v12h-24zM192 240h24v12h-24zM204 252h12v12h-12zM204 264h24v12h-24zM204 276h36v12h-36zM216 288h24v12h-24zM216 300h36v12h-36zM216 312h36v12h-36zM216 324h24v12h-24zM216 336h24v12h-24zM216 348h24v12h-24zM216 360h24v12h-24zM216 372h24v12h-24zM216 384h24v12h-24zM216 396h24v12h-24zM216 408h24v12h-24zM216 420h24v12h-24zM216 432h24v12h-24zM228 444h12v12h-12zM228 456h12v12h-12z"/><path fill="#708cf1" d="M120 -36h12v12h-12zM108 -24h24v12h-24zM108 -12h24v12h-24zM108 0h24v12h-24zM108 12h24v12h-24zM108 24h24v12h-24zM108 36h24v12h-24zM108 48h24v12h-24zM108 60h24v12h-24zM108 72h24v12h-24zM108 84h24v12h-24zM120 96h12v12h-12zM120 108h24v12h-24zM132 120h24v12h-24zM144 132h24v12h-24zM156 144h24v12h-24zM168 156h12v12h-12zM180 168h12v12h-12zM192 180h12v12h-12zM192 192h24v12h-24zM204 204h12v12h-12zM204 216h12v12h-12zM204 228h24v12h-24zM216 240h12v12h-12zM216 252h24v12h-24zM228 264h24v12h-24zM240 276h24v12h-24zM240 288h24v12h-24zM252 300h12v12h-12zM252 312h12v12h-12zM240 324h24v12h-24zM240 336h24v12h-24zM240 348h12v12h-12zM240 360h12v12h-12zM240 372h12v12h-12zM240 384h12v12h-12zM240 396h12v12h-12zM240 408h12v12h-12zM240 420h12v12h-12zM240 432h12v12h-12zM240 444h12v12h-12zM240 456h12v12h-12zM240 468h12v12h-12z"/><path fill="#7090f3" d="M132 -48h12v12h-12zM132 -36h12v12h-12zM132 -24h12v12h-12zM132 -12h12v12h-12zM132 0h12v12h-12zM132 12h12v12h-12zM132 24h12v12h-12zM132 36h12v12h-12zM132 48h12v12h-12zM132 60h12v12h-12zM132 72h12v12h-12zM132 84h12v12h-12zM132 96h12v12h-12zM144 108h12v12h-12zM156 120h12v12h-12zM168 132h12v12h-12zM180 144h12v12h-12zM180 156h24v12h-24zM192 168h24v12h-24zM204 180h12v12h-12zM216 192h12v12h-12zM216 204h12v12h-12zM216 216h12v12h-12zM228 228h12v12h-12zM228 240h12v12h-12zM240 252h12v12h-12zM252 264h12v12h-12zM264 276h12v12h-12zM264 288h12v12h-12zM264 300h12v12h-12zM264 312h12v12h-12zM264 324h12v12h-12zM252 348h12v12h-12zM252 360h12v12h-12zM252 372h12v12h-12zM252 384h12v12h-12zM252 396h12v12h-12zM252 408h12v12h-12zM252 420h12v12h-12zM252 432h12v12h-12zM252 444h12v12h-12zM252 456h12v12h-12z"/><path fill="#7194f5" d="M144 72h12v12h-12zM144 84h12v12h-12zM144 96h12v12h-12zM156 108h12v12h-12zM168 120h12v12h-12zM180 132h12v12h-12zM192 144h12v12h-12zM204 156h12v12h-12zM216 168h12v12h-12zM216 180h12v12h-12zM228 192h12v12h-12zM228 204h12v12h-12zM228 216h12v12h-12zM240 228h12v12h-12zM240 240h24v12h-24zM252 252h24v12h-24zM264 264h12v12h-12zM264 336h12v12h-12zM264 348h12v12h-12z"/><path fill="#7198f7" d="M144 -60h12v12h-12zM144 -48h12v12h-12zM144 -36h12v12h-12zM144 -24h12v12h-12zM144 -12h12v12h-12zM144 0h12v12h-12zM144 12h12v12h-12zM144 24h12v12h-12zM144 36h12v12h-12zM144 48h12v12h-12zM144 60h12v12h-12zM156 72h12v12h-12zM156 84h12v12h-12zM156 96h24v12h-24zM168 108h24v12h-24zM180 120h24v12h-24zM192 132h12v12h-12zM204 144h12v12h-12zM216 156h12v12h-12zM228 180h12v12h-12zM240 192h12v12h-12zM240 204h12v12h-12zM240 216h24v12h-24zM252 228h24v12h-24zM264 240h12v12h-12zM276 252h12v12h-12zM276 264h12v12h-12zM276 276h12v12h-12zM276 288h12v12h-12zM276 300h12v12h-12zM276 312h12v12h-12zM276 324h12v12h-12zM264 360h12v12h-12zM264 372h12v12h-12zM264 384h12v12h-12zM264 396h12v12h-12zM264 408h12v12h-12zM264 420h12v12h-12zM264 432h12v12h-12zM264 444h12v12h-12zM264 456h12v12h-12z"/><path fill="#729cf9" d="M156 -60h12v12h-12zM156 -48h12v12h-12zM156 -36h12v12h-12zM156 -24h12v12h-12zM156 -12h12v12h-12zM156 0h12v12h-12zM156 12h12v12h-12zM156 24h12v12h-12zM156 36h12v12h-12zM156 48h12v12h-12zM156 60h12v12h-12zM168 72h12v12h-12zM168 84h24v12h-24zM180 96h24v12h-24zM192 108h12v12h-12zM204 120h12v12h-12zM204 132h12v12h-12zM216 144h12v12h-12zM228 168h12v12h-12zM240 180h24v12h-24zM252 192h24v12h-24zM252 204h36v12h-36zM264 216h24v12h-24zM276 228h24v12h-24zM276 240h24v12h-24zM288 252h12v12h-12zM288 264h12v12h-12zM288 276h12v12h-12zM288 288h12v12h-12zM288 300h12v12h-12zM288 312h12v12h-12zM276 336h12v12h-12zM276 348h12v12h-12z"/><path fill="#71a5fa" d="M168 -72h12v12h-12zM168 -60h12v12h-12zM168 -48h12v12h-12zM168 -36h12v12h-12zM168 -24h12v12h-12zM168 -12h12v12h-12zM168 0h12v12h-12zM168 12h12v12h-12zM168 24h12v12h-12zM168 36h12v12h-12zM168 48h12v12h-12zM168 60h12v12h-12zM180 72h12v12h-12zM192 84h12v12h-12zM204 96h12v12h-12zM204 108h12v12h-12zM216 120h12v12h-12zM216 132h12v12h-12zM228 156h12v12h-12zM240 168h24v12h-24zM264 180h36v12h-36zM276 192h24v12h-24zM288 204h24v12h-24zM288 216h24v12h-24zM300 228h12v12h-12zM300 240h12v12h-12zM288 324h12v12h-12zM288 336h12v12h-12zM276 360h12v12h-12zM276 372h12v12h-12zM276 384h12v12h-12zM276 396h12v12h-12zM276 408h12v12h-12zM276 420h12v12h-12zM276 432h12v12h-12zM276 444h12v12h-12z"/><path fill="#70adfa" d="M180 0h12v12h-12zM180 12h12v12h-12zM180 24h12v12h-12zM180 36h12v12h-12zM180 48h12v12h-12zM180 60h12v12h-12zM192 72h12v12h-12zM204 84h12v12h-12zM216 96h12v12h-12zM216 108h12v12h-12zM228 132h12v12h-12zM228 144h12v12h-12zM240 156h24v12h-24zM264 168h36v12h-36zM300 180h12v12h-12zM300 192h12v12h-12zM312 204h12v12h-12zM312 216h12v12h-12zM300 252h12v12h-12zM300 264h12v12h-12zM300 276h12v12h-12zM300 288h12v12h-12zM300 300h12v12h-12zM300 312h12v12h-12zM288 348h12v12h-12z"/><path fill="#6eb6fb" d="M180 -84h12v12h-12zM180 -72h12v12h-12zM180 -60h12v12h-12zM180 -48h12v12h-12zM180 -36h12v12h-12zM180 -24h12v12h-12zM180 -12h12v12h-12zM192 48h12v12h-12zM192 60h12v12h-12zM204 72h12v12h-12zM216 84h12v12h-12zM228 96h12v12h-12zM228 108h12v12h-12zM228 120h12v12h-12zM240 132h12v12h-12zM240 144h24v12h-24zM264 156h24v12h-24zM300 168h12v12h-12zM312 180h12v12h-12zM312 192h12v12h-12zM312 228h12v12h-12zM312 240h12v12h-12zM312 252h12v12h-12zM300 324h12v12h-12zM300 336h12v12h-12zM288 360h12v12h-12zM288 372h12v12h-12zM288 384h12v12h-12zM288 396h12v12h-12zM288 408h12v12h-12zM288 420h12v12h-12zM288 432h12v12h-12z"/><path fill="#6dbffb" d="M192 -84h12v12h-12zM192 -72h12v12h-12zM192 -60h12v12h-12zM192 -48h12v12h-12zM192 -36h12v12h-12zM192 -24h12v12h-12zM192 -12h12v12h-12zM192 0h12v12h-12zM192 12h12v12h-12zM192 24h12v12h-12zM192 36h12v12h-12zM204 48h12v12h-12zM204 60h12v12h-12zM216 72h12v12h-12zM228 84h12v12h-12zM240 108h12v12h-12zM240 120h12v12h-12zM252 132h12v12h-12zM264 144h24v12h-24zM288 156h24v12h-24zM312 168h12v12h-12zM324 180h12v12h-12zM324 192h12v12h-12zM324 204h12v12h-12zM324 216h12v12h-12zM324 228h12v12h-12zM324 240h12v12h-12zM312 264h12v12h-12zM312 276h12v12h-12zM312 288h12v12h-12zM312 300h12v12h-12zM312 312h12v12h-12zM300 348h12v12h-12zM300 360h12v12h-12zM300 396h12v12h-12zM300 408h12v12h-12zM300 420h12v12h-12zM300 432h12v12h-12z"/><path fill="#6cc8fc" d="M204 -84h12v12h-12zM204 -72h12v12h-12zM204 -60h12v12h-12zM204 -48h12v12h-12zM204 -36h12v12h-12zM204 -24h12v12h-12zM204 -12h12v12h-12zM204 0h12v12h-12zM204 12h12v12h-12zM204 24h12v12h-12zM204 36h12v12h-12zM216 60h12v12h-12zM228 72h12v12h-12zM240 84h12v12h-12zM240 96h12v12h-12zM252 108h12v12h-12zM252 120h24v12h-24zM264 132h24v12h-24zM288 144h24v12h-24zM312 156h12v12h-12zM324 168h12v12h-12zM336 192h12v12h-12zM336 204h12v12h-12zM336 216h12v12h-12zM336 228h12v12h-12zM324 252h12v12h-12zM312 324h12v12h-12zM312 336h12v12h-12zM300 372h12v12h-12zM300 384h12v12h-12zM312 408h12v12h-12zM312 420h12v12h-12zM312 432h12v12h-12z"/><path fill="#6bd0fd" d="M216 -84h12v12h-12zM216 -72h12v12h-12zM216 -60h12v12h-12zM216 -48h12v12h-12zM216 -36h12v12h-12zM216 -24h12v12h-12zM216 -12h12v12h-12zM216 0h12v12h-12zM216 12h12v12h-12zM216 24h12v12h-12zM216 36h12v12h-12zM216 48h12v12h-12zM228 60h12v12h-12zM240 72h12v12h-12zM252 84h12v12h-12zM252 96h12v12h-12zM264 108h12v12h-12zM276 120h12v12h-12zM288 132h24v12h-24zM312 144h12v12h-12zM324 156h12v12h-12zM336 168h12v12h-12zM336 180h12v12h-12zM348 192h12v12h-12zM348 204h12v12h-12zM348 216h12v12h-12zM336 240h12v12h-12zM324 264h12v12h-12zM324 276h12v12h-12zM324 288h12v12h-12zM312 348h12v12h-12zM312 360h12v12h-12zM312 372h12v12h-12zM312 384h12v12h-12zM312 396h12v12h-12zM324 408h12v12h-12zM324 420h12v12h-12z"/><path fill="#6ad9fd" d="M228 24h12v12h-12zM228 36h12v12h-12zM228 48h12v12h-12zM240 60h12v12h-12zM252 72h12v12h-12zM264 84h12v12h-12zM264 96h12v12h-12zM276 108h12v12h-12zM288 120h24v12h-24zM312 132h12v12h-12zM324 144h12v12h-12zM336 156h12v12h-12zM348 168h12v12h-12zM348 180h12v12h-12zM360 204h12v12h-12zM348 228h12v12h-12zM348 240h12v12h-12zM336 252h12v12h-12zM336 264h12v12h-12zM324 300h12v12h-12zM324 312h12v12h-12zM324 324h12v12h-12zM324 336h12v12h-12zM324 396h12v12h-12zM336 420h12v12h-12z"/><path fill="#68e2fe" d="M228 -72h12v12h-12zM228 -60h12v12h-12zM228 -48h12v12h-12zM228 -36h12v12h-12zM228 -24h12v12h-12zM228 -12h12v12h-12zM228 0h12v12h-12zM228 12h12v12h-12zM240 36h12v12h-12zM240 48h12v12h-12zM252 60h12v12h-12zM264 72h12v12h-12zM276 84h12v12h-12zM276 96h24v12h-24zM288 108h24v12h-24zM312 120h12v12h-12zM324 132h12v12h-12zM336 144h12v12h-12zM348 156h12v12h-12zM360 168h12v12h-12zM360 180h12v12h-12zM360 192h12v12h-12zM360 216h12v12h-12zM360 228h12v12h-12zM360 240h12v12h-12zM348 252h12v12h-12zM348 264h12v12h-12zM336 276h12v12h-12zM336 288h12v12h-12zM324 348h12v12h-12zM324 360h12v12h-12zM324 372h12v12h-12zM324 384h12v12h-12zM336 408h12v12h-12z"/><path fill="#67eafe" d="M240 -72h24v12h-24zM240 -60h24v12h-24zM240 -48h24v12h-24zM240 -36h24v12h-24zM240 -24h24v12h-24zM240 -12h24v12h-24zM240 0h24v12h-24zM240 12h24v12h-24zM240 24h24v12h-24zM252 36h12v12h-12zM252 48h24v12h-24zM264 60h24v12h-24zM276 72h12v12h-12zM288 84h12v12h-12zM300 96h12v12h-12zM312 108h12v12h-12zM324 120h12v12h-12zM336 132h12v12h-12zM348 144h12v12h-12zM360 156h12v12h-12zM372 168h12v12h-12zM372 180h12v12h-12zM372 192h12v12h-12zM372 204h12v12h-12zM372 216h12v12h-12zM372 228h12v12h-12zM372 240h12v12h-12zM360 252h12v12h-12zM360 264h12v12h-12zM348 276h12v12h-12zM336 300h12v12h-12zM336 312h12v12h-12zM336 324h12v12h-12zM336 336h12v12h-12zM336 348h12v12h-12zM336 360h12v12h-12zM336 372h12v12h-12zM336 384h12v12h-12zM336 396h12v12h-12zM348 420h12v12h-12z"/><path fill="#66f3ff" d="M264 -72h24v12h-24zM264 -60h24v12h-24zM264 -48h24v12h-24zM264 -36h24v12h-24zM264 -24h24v12h-24zM264 -12h24v12h-24zM264 0h24v12h-24zM264 12h36v12h-36zM264 24h36v12h-36zM264 36h36v12h-36zM276 48h24v12h-24zM288 60h12v12h-12zM288 72h24v12h-24zM300 84h24v12h-24zM312 96h24v12h-24zM324 108h24v12h-24zM336 120h24v12h-24zM348 132h24v12h-24zM360 144h24v12h-24zM372 156h12v12h-12zM384 168h12v12h-12zM384 180h12v12h-12zM384 192h24v12h-24zM384 204h12v12h-12zM384 216h12v12h-12zM384 228h12v12h-12zM384 240h12v12h-12zM372 252h12v12h-12zM372 264h12v12h-12zM360 276h12v12h-12zM348 288h12v12h-12zM348 300h12v12h-12zM348 312h12v12h-12zM348 396h12v12h-12zM348 408h12v12h-12z"/><path fill="#6ef4f8" d="M288 -72h24v12h-24zM288 -60h24v12h-24zM288 -48h24v12h-24zM288 -36h24v12h-24zM288 -24h24v12h-24zM288 -12h24v12h-24zM288 0h24v12h-24zM300 12h12v12h-12zM300 24h12v12h-12zM300 36h12v12h-12zM300 48h12v12h-12zM300 60h24v12h-24zM312 72h12v12h-12zM324 84h12v12h-12zM336 96h12v12h-12zM348 108h12v12h-12zM360 120h12v12h-12zM372 132h12v12h-12zM384 144h12v12h-12zM384 156h12v12h-12zM396 168h12v12h-12zM396 180h12v12h-12zM408 192h12v12h-12zM396 204h12v12h-12zM396 216h12v12h-12zM396 228h12v12h-12zM396 240h12v12h-12zM384 252h12v12h-12zM384 264h12v12h-12zM372 276h24v12h-24zM360 288h24v12h-24zM360 300h12v12h-12zM348 324h12v12h-12zM348 336h12v12h-12zM348 348h12v12h-12zM348 360h12v12h-12zM348 372h12v12h-12zM348 384h12v12h-12zM360 420h12v12h-12z"/><path fill="#77f4f1" d="M312 -72h12v12h-12zM312 -60h12v12h-12zM312 -48h12v12h-12zM312 -36h12v12h-12zM312 -24h12v12h-12zM312 -12h12v12h-12zM312 0h12v12h-12zM312 12h12v12h-12zM312 24h12v12h-12zM312 36h12v12h-12zM312 48h12v12h-12zM324 72h12v12h-12zM336 84h12v12h-12zM348 96h12v12h-12zM360 108h12v12h-12zM372 120h24v12h-24zM384 132h12v12h-12zM396 144h12v12h-12zM396 156h12v12h-12zM408 168h12v12h-12zM408 180h12v12h-12zM420 192h12v12h-12zM408 204h12v12h-12zM408 216h12v12h-12zM408 228h12v12h-12zM396 252h12v12h-12zM396 264h12v12h-12zM396 276h12v12h-12zM384 288h12v12h-12zM372 300h12v12h-12zM360 312h12v12h-12zM360 324h12v12h-12zM360 336h12v12h-12zM360 348h12v12h-12zM360 360h12v12h-12zM360 372h12v12h-12zM360 384h12v12h-12zM360 396h12v12h-12zM360 408h12v12h-12z"/><path fill="#7ff5ea" d="M324 36h12v12h-12zM324 48h12v12h-12zM324 60h12v12h-12zM336 72h12v12h-12zM348 84h12v12h-12zM360 96h12v12h-12zM372 108h24v12h-24zM396 120h12v12h-12zM396 132h12v12h-12zM408 156h12v12h-12zM420 180h12v12h-12zM420 204h12v12h-12zM420 216h12v12h-12zM408 240h12v12h-12zM408 252h12v12h-12zM408 264h12v12h-12zM396 288h12v12h-12zM384 300h12v12h-12zM372 312h12v12h-12zM372 324h12v12h-12zM372 336h12v12h-12zM372 348h12v12h-12zM372 360h12v12h-12zM372 372h12v12h-12zM372 384h12v12h-12zM372 396h12v12h-12zM372 408h12v12h-12zM372 420h12v12h-12z"/><path fill="#88f5e3" d="M324 -60h12v12h-12zM324 -48h12v12h-12zM324 -36h12v12h-12zM324 -24h12v12h-12zM324 -12h12v12h-12zM324 0h12v12h-12zM324 12h12v12h-12zM324 24h12v12h-12zM336 48h12v12h-12zM336 60h12v12h-12zM348 72h12v12h-12zM360 84h12v12h-12zM420 84h12v12h-12zM372 96h60v12h-60zM396 108h24v12h-24zM408 120h12v12h-12zM408 132h12v12h-12zM408 144h12v12h-12zM420 168h12v12h-12zM432 192h12v12h-12zM432 204h12v12h-12zM420 228h12v12h-12zM420 240h12v12h-12zM420 252h12v12h-12zM420 264h12v12h-12zM408 276h12v12h-12zM564 276h24v12h-24zM408 288h12v12h-12zM564 288h36v12h-36zM396 300h12v12h-12zM564 300h36v12h-36zM384 312h12v12h-12zM564 312h36v12h-36zM384 324h12v12h-12zM384 360h12v12h-12zM384 372h12v12h-12zM384 384h12v12h-12zM384 396h12v12h-12zM384 408h12v12h-12zM384 420h12v12h-12z"/><path fill="#90f6dc" d="M336 -60h12v12h-12zM336 -48h12v12h-12zM336 -36h12v12h-12zM336 -24h12v12h-12zM336 -12h12v12h-12zM336 0h12v12h-12zM636 0h12v12h-12zM336 12h12v12h-12zM336 24h12v12h-12zM336 36h12v12h-12zM348 60h12v12h-12zM360 72h12v12h-12zM420 72h24v12h-24zM372 84h48v12h-48zM432 84h12v12h-12zM432 96h12v12h-12zM420 108h12v12h-12zM420 156h12v12h-12zM432 180h12v12h-12zM432 216h12v12h-12zM432 228h12v12h-12zM432 240h12v12h-12zM432 252h12v12h-12zM432 264h12v12h-12zM420 276h24v12h-24zM552 276h12v12h-12zM588 276h24v12h-24zM420 288h12v12h-12zM552 288h12v12h-12zM600 288h24v12h-24zM408 300h12v12h-12zM540 300h24v12h-24zM600 300h48v12h-48zM396 312h12v12h-12zM540 312h24v12h-24zM600 312h72v12h-72zM396 324h12v12h-12zM540 324h132v12h-132zM384 336h24v12h-24zM540 336h120v12h-120zM384 348h24v12h-24zM528 348h120v12h-120zM396 360h12v12h-12zM396 372h36v12h-36zM396 384h60v12h-60zM396 396h72v12h-72zM396 408h60v12h-60zM396 420h36v12h-36z"/><path fill="#98f7d6" d="M612 0h24v12h-24zM612 12h48v12h-48zM636 24h12v12h-12zM348 48h12v12h-12zM432 48h12v12h-12zM420 60h24v12h-24zM408 72h12v12h-12zM432 108h12v12h-12zM420 120h12v12h-12zM420 132h12v12h-12zM420 144h12v12h-12zM432 168h12v12h-12zM444 192h12v12h-12zM444 204h12v12h-12zM444 216h12v12h-12zM444 228h12v12h-12zM444 240h12v12h-12zM444 252h12v12h-12zM444 264h24v12h-24zM564 264h36v12h-36zM444 276h24v12h-24zM612 276h12v12h-12zM432 288h12v12h-12zM540 288h12v12h-12zM624 288h24v12h-24zM420 300h12v12h-12zM528 300h12v12h-12zM648 300h24v12h-24zM408 312h12v12h-12zM516 312h24v12h-24zM408 324h12v12h-12zM516 324h24v12h-24zM408 336h12v12h-12zM516 336h24v12h-24zM408 348h24v12h-24zM516 348h12v12h-12zM408 360h48v12h-48zM516 360h12v12h-12zM432 372h36v12h-36zM456 384h36v12h-36z"/><path fill="#a1f7cf" d="M348 -48h12v12h-12zM348 -36h12v12h-12zM348 -24h12v12h-12zM348 -12h12v12h-12zM348 0h12v12h-12zM600 0h12v12h-12zM348 12h12v12h-12zM432 12h24v12h-24zM600 12h12v12h-12zM348 24h12v12h-12zM432 24h24v12h-24zM612 24h24v12h-24zM648 24h24v12h-24zM348 36h12v12h-12zM420 36h36v12h-36zM420 48h12v12h-12zM444 48h12v12h-12zM360 60h12v12h-12zM408 60h12v12h-12zM444 60h12v12h-12zM372 72h36v12h-36zM444 72h12v12h-12zM444 84h12v12h-12zM444 96h12v12h-12zM432 120h12v12h-12zM432 156h12v12h-12zM444 180h12v12h-12zM456 240h12v12h-12zM456 252h24v12h-24zM468 264h12v12h-12zM552 264h12v12h-12zM600 264h12v12h-12zM468 276h24v12h-24zM540 276h12v12h-12zM624 276h24v12h-24zM444 288h48v12h-48zM516 288h24v12h-24zM648 288h12v12h-12zM432 300h12v12h-12zM504 300h24v12h-24zM672 300h12v12h-12zM420 312h12v12h-12zM504 312h12v12h-12zM420 324h12v12h-12zM504 324h12v12h-12zM420 336h12v12h-12zM504 336h12v12h-12zM432 348h24v12h-24zM504 348h12v12h-12zM456 360h12v12h-12zM504 360h12v12h-12zM468 372h36v12h-36z"/><path fill="#a9f8c8" d="M588 0h12v12h-12zM420 12h12v12h-12zM456 12h12v12h-12zM588 12h12v12h-12zM420 24h12v12h-12zM456 24h12v12h-12zM600 24h12v12h-12zM456 36h12v12h-12zM612 36h60v12h-60zM360 48h12v12h-12zM408 48h12v12h-12zM456 48h12v12h-12zM372 60h12v12h-12zM396 60h12v12h-12zM456 60h12v12h-12zM432 132h12v12h-12zM432 144h12v12h-12zM444 168h12v12h-12zM456 216h12v12h-12zM456 228h12v12h-12zM468 240h12v12h-12zM480 252h12v12h-12zM480 264h24v12h-24zM540 264h12v12h-12zM612 264h24v12h-24zM492 276h48v12h-48zM492 288h24v12h-24zM660 288h12v12h-12zM444 300h60v12h-60zM432 312h72v12h-72zM432 324h24v12h-24zM480 324h24v12h-24zM432 336h24v12h-24zM480 336h24v12h-24zM456 348h48v12h-48zM468 360h36v12h-36z"/><path fill="#b2f8c1" d="M360 -48h12v12h-12zM360 -36h12v12h-12zM360 -24h12v12h-12zM360 -12h12v12h-12zM360 0h12v12h-12zM576 0h12v12h-12zM360 12h12v12h-12zM408 12h12v12h-12zM468 12h12v12h-12zM576 12h12v12h-12zM360 24h12v12h-12zM408 24h12v12h-12zM468 24h12v12h-12zM588 24h12v12h-12zM360 36h12v12h-12zM408 36h12v12h-12zM468 36h12v12h-12zM600 36h12v12h-12zM672 36h12v12h-12zM384 60h12v12h-12zM456 72h12v12h-12zM456 84h12v12h-12zM444 108h12v12h-12zM456 192h12v12h-12zM456 204h12v12h-12zM468 228h12v12h-12zM480 240h12v12h-12zM492 252h12v12h-12zM552 252h60v12h-60zM504 264h36v12h-36zM648 276h12v12h-12zM672 288h12v12h-12zM456 324h24v12h-24zM456 336h24v12h-24z"/><path fill="#baf9ba" d="M408 -12h12v12h-12zM504 -12h24v12h-24zM408 0h12v12h-12zM492 0h84v12h-84zM480 12h96v12h-96zM480 24h36v12h-36zM564 24h24v12h-24zM372 36h12v12h-12zM396 36h12v12h-12zM480 36h12v12h-12zM588 36h12v12h-12zM372 48h36v12h-36zM468 48h12v12h-12zM624 48h72v12h-72zM468 60h12v12h-12zM456 96h12v12h-12zM444 120h12v12h-12zM444 156h12v12h-12zM456 180h12v12h-12zM468 216h12v12h-12zM504 252h12v12h-12zM540 252h12v12h-12zM612 252h12v12h-12zM636 264h12v12h-12zM660 276h12v12h-12z"/><path fill="#c1f9b2" d="M372 -36h12v12h-12zM372 -24h12v12h-12zM396 -24h12v12h-12zM372 -12h12v12h-12zM396 -12h12v12h-12zM372 0h12v12h-12zM396 0h12v12h-12zM372 12h12v12h-12zM396 12h12v12h-12zM372 24h12v12h-12zM396 24h12v12h-12zM516 24h48v12h-48zM384 36h12v12h-12zM492 36h36v12h-36zM576 36h12v12h-12zM480 48h12v12h-12zM600 48h24v12h-24zM660 60h36v12h-36zM468 72h12v12h-12zM672 72h36v12h-36zM696 84h12v12h-12zM444 132h12v12h-12zM444 144h12v12h-12zM456 168h12v12h-12zM468 204h12v12h-12zM480 228h12v12h-12zM492 240h12v12h-12zM564 240h24v12h-24zM516 252h24v12h-24zM624 252h12v12h-12zM648 264h12v12h-12z"/><path fill="#c8f9a9" d="M384 -36h12v12h-12zM384 -24h12v12h-12zM384 -12h12v12h-12zM384 0h12v12h-12zM384 12h12v12h-12zM384 24h12v12h-12zM528 36h48v12h-48zM492 48h24v12h-24zM480 60h12v12h-12zM648 60h12v12h-12zM660 72h12v12h-12zM468 84h12v12h-12zM672 84h24v12h-24zM696 96h24v12h-24zM456 108h12v12h-12zM468 192h12v12h-12zM480 216h12v12h-12zM492 228h12v12h-12zM504 240h24v12h-24zM540 240h24v12h-24zM588 240h36v12h-36zM636 252h12v12h-12zM660 264h12v12h-12zM672 276h12v12h-12z"/><path fill="#cff9a1" d="M516 48h24v12h-24zM588 48h12v12h-12zM492 60h12v12h-12zM636 60h12v12h-12zM480 72h12v12h-12zM660 84h12v12h-12zM468 96h12v12h-12zM672 96h24v12h-24zM456 120h12v12h-12zM456 156h12v12h-12zM468 180h12v12h-12zM480 204h12v12h-12zM492 216h12v12h-12zM504 228h12v12h-12zM528 240h12v12h-12zM624 240h12v12h-12zM648 252h12v12h-12zM684 276h12v12h-12z"/><path fill="#d6f998" d="M540 48h48v12h-48zM504 60h12v12h-12zM612 60h24v12h-24zM648 72h12v12h-12zM660 96h12v12h-12zM468 108h12v12h-12zM684 108h36v12h-36zM456 132h12v12h-12zM456 144h12v12h-12zM468 168h12v12h-12zM480 192h12v12h-12zM492 204h12v12h-12zM504 216h12v12h-12zM516 228h108v12h-108zM636 240h24v12h-24zM660 252h12v12h-12zM672 264h24v12h-24z"/><path fill="#dcf990" d="M516 60h12v12h-12zM600 60h12v12h-12zM492 72h12v12h-12zM480 84h12v12h-12zM648 84h12v12h-12zM672 108h12v12h-12zM468 156h12v12h-12zM480 180h12v12h-12zM516 216h12v12h-12zM624 228h36v12h-36zM660 240h48v12h-48zM672 252h36v12h-36z"/><path fill="#e3f988" d="M528 60h12v12h-12zM636 72h12v12h-12zM480 96h12v12h-12zM648 96h12v12h-12zM660 108h12v12h-12zM468 120h12v12h-12zM684 120h36v12h-36zM468 132h12v12h-12zM468 144h12v12h-12zM480 168h12v12h-12zM492 192h12v12h-12zM504 204h12v12h-12zM528 216h120v12h-120zM660 228h48v12h-48z"/><path fill="#eaf97f" d="M540 60h12v12h-12zM588 60h12v12h-12zM504 72h12v12h-12zM624 72h12v12h-12zM492 84h12v12h-12zM480 108h12v12h-12zM660 120h24v12h-24zM492 180h12v12h-12zM504 192h12v12h-12zM516 204h36v12h-36zM648 216h60v12h-60z"/><path fill="#f1f977" d="M552 60h36v12h-36zM516 72h12v12h-12zM636 84h12v12h-12zM492 96h12v12h-12zM648 108h12v12h-12zM480 120h12v12h-12zM672 132h48v12h-48zM480 144h12v12h-12zM480 156h12v12h-12zM492 168h12v12h-12zM504 180h12v12h-12zM516 192h12v12h-12zM552 204h168v12h-168z"/><path fill="#f8f96e" d="M612 72h12v12h-12zM504 84h12v12h-12zM636 96h12v12h-12zM492 108h12v12h-12zM648 120h12v12h-12zM480 132h12v12h-12zM660 132h12v12h-12zM672 144h48v12h-48zM492 156h12v12h-12zM516 180h12v12h-12zM660 180h60v12h-60zM528 192h192v12h-192z"/><path fill="#fff966" d="M528 72h12v12h-12zM600 72h12v12h-12zM624 84h12v12h-12zM636 108h12v12h-12zM492 120h12v12h-12zM492 132h12v12h-12zM648 132h12v12h-12zM492 144h12v12h-12zM648 144h24v12h-24zM648 156h72v12h-72zM504 168h12v12h-12zM648 168h72v12h-72zM528 180h132v12h-132z"/><path fill="#fff366" d="M516 84h12v12h-12zM504 96h12v12h-12zM636 120h12v12h-12zM636 132h12v12h-12zM636 144h12v12h-12zM504 156h12v12h-12zM636 156h12v12h-12zM516 168h24v12h-24zM612 168h36v12h-36z"/><path fill="#ffec66" d="M540 72h12v12h-12zM588 72h12v12h-12zM624 96h12v12h-12zM504 108h12v12h-12zM504 120h12v12h-12zM504 132h12v12h-12zM504 144h12v12h-12zM516 156h12v12h-12zM612 156h24v12h-24zM540 168h72v12h-72z"/><path fill="#ffe666" d="M552 72h12v12h-12zM576 72h12v12h-12zM528 84h12v12h-12zM612 84h12v12h-12zM516 96h12v12h-12zM624 108h12v12h-12zM624 120h12v12h-12zM624 132h12v12h-12zM516 144h12v12h-12zM624 144h12v12h-12zM528 156h84v12h-84z"/><path fill="#ffe066" d="M564 72h12v12h-12zM516 108h12v12h-12zM516 120h12v12h-12zM516 132h12v12h-12zM612 132h12v12h-12zM528 144h24v12h-24zM600 144h24v12h-24z"/><path fill="#ffda66" d="M540 84h12v12h-12zM600 84h12v12h-12zM528 96h12v12h-12zM612 96h12v12h-12zM612 120h12v12h-12zM528 132h12v12h-12zM552 144h48v12h-48z"/><path fill="#ffd366" d="M528 108h12v12h-12zM612 108h12v12h-12zM528 120h12v12h-12zM540 132h24v12h-24zM588 132h24v12h-24z"/><path fill="#ffcd66" d="M552 84h12v12h-12zM588 84h12v12h-12zM600 96h12v12h-12zM540 120h12v12h-12zM600 120h12v12h-12zM564 132h24v12h-24z"/><path fill="#ffc766" d="M564 84h24v12h-24zM540 96h12v12h-12zM540 108h12v12h-12zM600 108h12v12h-12zM552 120h12v12h-12zM588 120h12v12h-12z"/><path fill="#ffc066" d="M588 96h12v12h-12zM588 108h12v12h-12zM564 120h24v12h-24z"/><path fill="#ffba66" d="M552 96h12v12h-12zM576 96h12v12h-12zM552 108h12v12h-12z"/><path fill="#feb266" d="M564 96h12v12h-12zM564 108h24v12h-24z"/></g></g><g clip-path="url(#cs)"><g filter="url(#bl)"><path fill="#6c75e4" d="M84 612h12v12h-12zM72 624h24v12h-24zM84 636h24v12h-24zM84 648h12v12h-12zM84 660h12v12h-12z"/><path fill="#6d79e6" d="M84 600h24v12h-24zM96 612h24v12h-24zM96 624h24v12h-24zM108 636h12v12h-12zM96 648h24v12h-24zM96 660h24v12h-24zM96 672h12v12h-12z"/><path fill="#6d7de8" d="M96 588h12v12h-12zM108 600h12v12h-12zM120 612h12v12h-12zM120 624h12v12h-12zM120 636h12v12h-12zM120 648h12v12h-12zM120 660h12v12h-12zM108 672h12v12h-12z"/><path fill="#6e81ea" d="M108 576h12v12h-12zM108 588h12v12h-12zM120 600h12v12h-12zM132 612h12v12h-12zM132 624h12v12h-12zM132 636h12v12h-12zM132 648h12v12h-12zM132 660h12v12h-12zM120 672h12v12h-12zM108 684h12v12h-12z"/><path fill="#6e85ec" d="M120 576h12v12h-12zM120 588h24v12h-24zM132 600h24v12h-24zM144 612h12v12h-12zM144 624h24v12h-24zM144 636h24v12h-24zM144 648h24v12h-24zM144 660h12v12h-12zM132 672h24v12h-24zM120 684h24v12h-24zM120 696h12v12h-12z"/><path fill="#6f88ee" d="M228 504h12v12h-12zM204 516h36v12h-36zM180 528h60v12h-60zM156 540h72v12h-72zM144 552h84v12h-84zM132 564h84v12h-84zM132 576h72v12h-72zM144 588h60v12h-60zM156 600h48v12h-48zM156 612h60v12h-60zM168 624h48v12h-48zM168 636h60v12h-60zM168 648h72v12h-72zM156 660h84v12h-84zM156 672h96v12h-96zM144 684h108v12h-108zM132 696h120v12h-120zM132 708h120v12h-120zM144 720h108v12h-108zM144 732h108v12h-108zM156 744h84v12h-84zM168 756h72v12h-72zM180 768h36v12h-36z"/><path fill="#708cf1" d="M252 492h12v12h-12zM240 504h24v12h-24zM240 516h24v12h-24zM240 528h24v12h-24zM228 540h36v12h-36zM228 552h24v12h-24zM216 564h24v12h-24zM204 576h24v12h-24zM204 588h24v12h-24zM204 600h24v12h-24zM216 612h24v12h-24zM216 624h36v12h-36zM228 636h24v12h-24zM240 648h24v12h-24zM240 660h24v12h-24zM252 672h12v12h-12zM252 684h12v12h-12zM252 696h12v12h-12zM252 708h12v12h-12zM252 720h12v12h-12zM252 732h12v12h-12zM240 744h24v12h-24zM240 756h24v12h-24zM216 768h36v12h-36zM192 780h48v12h-48z"/><path fill="#7090f3" d="M264 504h12v12h-12zM264 516h12v12h-12zM264 528h12v12h-12zM264 540h12v12h-12zM252 552h12v12h-12zM240 564h24v12h-24zM228 576h24v12h-24zM228 588h12v12h-12zM228 600h12v12h-12zM240 612h12v12h-12zM252 624h12v12h-12zM252 636h24v12h-24zM264 648h12v12h-12zM264 660h12v12h-12zM264 672h12v12h-12zM264 684h12v12h-12zM264 696h12v12h-12zM264 708h12v12h-12zM264 720h12v12h-12zM264 732h12v12h-12zM264 744h12v12h-12zM264 756h12v12h-12zM252 768h12v12h-12zM240 780h24v12h-24zM204 792h36v12h-36z"/><path fill="#7194f5" d="M264 492h12v12h-12zM276 516h12v12h-12zM276 528h12v12h-12zM276 540h12v12h-12zM264 552h12v12h-12zM264 564h12v12h-12zM252 576h12v12h-12zM240 588h24v12h-24zM240 600h24v12h-24zM252 612h24v12h-24zM264 624h12v12h-12zM276 636h12v12h-12zM276 648h12v12h-12zM276 660h12v12h-12zM276 672h12v12h-12zM276 684h12v12h-12zM276 696h12v12h-12zM276 708h12v12h-12zM276 720h12v12h-12zM276 732h12v12h-12zM276 744h12v12h-12zM276 756h12v12h-12zM264 768h12v12h-12zM264 780h12v12h-12zM240 792h24v12h-24zM204 804h24v12h-24z"/><path fill="#7198f7" d="M276 504h12v12h-12zM288 528h12v12h-12zM288 540h12v12h-12zM276 552h24v12h-24zM276 564h24v12h-24zM264 576h24v12h-24zM264 588h24v12h-24zM264 600h24v12h-24zM276 612h24v12h-24zM276 624h24v12h-24zM288 636h12v12h-12zM288 648h12v12h-12zM288 660h12v12h-12zM288 672h12v12h-12zM288 684h12v12h-12zM288 696h12v12h-12zM288 708h12v12h-12zM288 720h12v12h-12zM288 732h12v12h-12zM276 768h12v12h-12zM264 792h12v12h-12zM228 804h24v12h-24zM216 816h24v12h-24z"/><path fill="#729cf9" d="M276 492h12v12h-12zM288 516h12v12h-12zM300 528h12v12h-12zM300 540h24v12h-24zM300 552h24v12h-24zM300 564h36v12h-36zM288 576h48v12h-48zM288 588h48v12h-48zM288 600h48v12h-48zM300 612h36v12h-36zM300 624h36v12h-36zM300 636h36v12h-36zM300 648h36v12h-36zM300 660h36v12h-36zM300 672h36v12h-36zM300 684h24v12h-24zM300 696h12v12h-12zM300 708h12v12h-12zM300 720h12v12h-12zM288 744h12v12h-12zM288 756h12v12h-12zM288 768h12v12h-12zM276 780h12v12h-12zM252 804h12v12h-12zM240 816h12v12h-12zM216 828h24v12h-24z"/><path fill="#71a5fa" d="M288 504h12v12h-12zM300 516h12v12h-12zM312 528h12v12h-12zM324 540h12v12h-12zM324 552h24v12h-24zM336 564h12v12h-12zM336 576h24v12h-24zM336 588h24v12h-24zM336 600h24v12h-24zM336 612h24v12h-24zM336 624h24v12h-24zM336 636h24v12h-24zM336 648h24v12h-24zM336 660h12v12h-12zM336 672h12v12h-12zM324 684h24v12h-24zM312 696h24v12h-24zM312 708h12v12h-12zM300 732h12v12h-12zM300 744h12v12h-12zM300 756h12v12h-12zM300 768h12v12h-12zM288 780h12v12h-12zM276 792h12v12h-12zM264 804h12v12h-12zM252 816h12v12h-12zM240 828h24v12h-24zM228 840h24v12h-24zM228 852h12v12h-12z"/><path fill="#70adfa" d="M288 492h12v12h-12zM300 504h12v12h-12zM312 516h12v12h-12zM324 528h24v12h-24zM336 540h24v12h-24zM348 552h12v12h-12zM348 564h12v12h-12zM348 660h12v12h-12zM348 672h12v12h-12zM348 684h12v12h-12zM336 696h12v12h-12zM324 708h12v12h-12zM312 720h12v12h-12zM312 732h12v12h-12zM312 744h12v12h-12zM312 756h12v12h-12zM300 780h12v12h-12zM288 792h12v12h-12zM276 804h12v12h-12zM264 816h12v12h-12zM240 852h12v12h-12z"/><path fill="#6eb6fb" d="M288 480h12v12h-12zM300 492h12v12h-12zM312 504h12v12h-12zM324 516h12v12h-12zM348 528h12v12h-12zM360 552h12v12h-12zM360 564h12v12h-12zM360 576h12v12h-12zM360 588h12v12h-12zM360 600h12v12h-12zM360 612h12v12h-12zM360 624h12v12h-12zM360 636h12v12h-12zM360 648h12v12h-12zM360 660h12v12h-12zM360 672h12v12h-12zM348 696h12v12h-12zM336 708h12v12h-12zM324 720h12v12h-12zM324 732h12v12h-12zM324 744h12v12h-12zM312 768h12v12h-12zM312 780h12v12h-12zM300 792h12v12h-12zM288 804h12v12h-12zM276 816h12v12h-12zM264 828h12v12h-12zM252 840h12v12h-12z"/><path fill="#6dbffb" d="M300 480h12v12h-12zM312 492h12v12h-12zM324 504h24v12h-24zM336 516h24v12h-24zM360 528h12v12h-12zM360 540h12v12h-12zM372 552h12v12h-12zM372 564h12v12h-12zM372 576h12v12h-12zM372 588h12v12h-12zM372 600h12v12h-12zM372 612h12v12h-12zM372 624h12v12h-12zM372 636h12v12h-12zM372 648h12v12h-12zM372 660h12v12h-12zM372 672h12v12h-12zM360 684h12v12h-12zM360 696h12v12h-12zM348 708h12v12h-12zM336 720h12v12h-12zM336 732h12v12h-12zM324 756h12v12h-12zM324 768h12v12h-12zM312 792h12v12h-12zM300 804h12v12h-12zM288 816h12v12h-12zM276 828h12v12h-12zM264 840h12v12h-12zM252 852h12v12h-12zM240 864h12v12h-12z"/><path fill="#6cc8fc" d="M312 468h24v12h-24zM312 480h36v12h-36zM324 492h24v12h-24zM348 504h12v12h-12zM360 516h12v12h-12zM372 540h12v12h-12zM384 552h12v12h-12zM384 564h12v12h-12zM384 576h12v12h-12zM384 588h12v12h-12zM384 600h12v12h-12zM384 612h12v12h-12zM384 624h12v12h-12zM384 636h12v12h-12zM384 648h12v12h-12zM372 684h12v12h-12zM360 708h12v12h-12zM348 720h12v12h-12zM336 744h12v12h-12zM336 756h12v12h-12zM336 768h12v12h-12zM324 780h12v12h-12zM300 816h12v12h-12zM288 828h12v12h-12z"/><path fill="#6bd0fd" d="M336 456h24v12h-24zM336 468h24v12h-24zM348 480h12v12h-12zM348 492h12v12h-12zM360 504h12v12h-12zM372 528h12v12h-12zM384 540h12v12h-12zM396 576h12v12h-12zM396 588h12v12h-12zM396 600h12v12h-12zM396 612h12v12h-12zM384 660h12v12h-12zM384 672h12v12h-12zM372 696h12v12h-12zM360 720h12v12h-12zM348 732h12v12h-12zM348 744h12v12h-12zM348 756h12v12h-12zM348 768h12v12h-12zM336 780h12v12h-12zM324 792h12v12h-12zM312 804h12v12h-12zM276 840h12v12h-12zM264 852h12v12h-12zM252 864h12v12h-12z"/><path fill="#6ad9fd" d="M360 456h12v12h-12zM360 468h12v12h-12zM360 480h12v12h-12zM360 492h12v12h-12zM372 504h12v12h-12zM372 516h12v12h-12zM384 528h12v12h-12zM396 540h12v12h-12zM396 552h12v12h-12zM396 564h12v12h-12zM396 624h12v12h-12zM396 636h12v12h-12zM396 648h12v12h-12zM396 660h12v12h-12zM384 684h12v12h-12zM372 708h12v12h-12zM360 732h12v12h-12zM360 744h12v12h-12zM348 780h12v12h-12zM336 792h12v12h-12zM324 804h12v12h-12zM312 816h12v12h-12zM300 828h12v12h-12zM288 840h12v12h-12zM276 852h12v12h-12zM264 864h12v12h-12z"/><path fill="#68e2fe" d="M372 456h12v12h-12zM372 468h12v12h-12zM372 480h12v12h-12zM372 492h12v12h-12zM384 504h12v12h-12zM384 516h24v12h-24zM396 528h12v12h-12zM408 552h12v12h-12zM408 564h12v12h-12zM408 576h12v12h-12zM408 588h12v12h-12zM408 600h12v12h-12zM408 612h12v12h-12zM408 624h12v12h-12zM408 636h12v12h-12zM396 672h12v12h-12zM384 696h12v12h-12zM372 720h12v12h-12zM360 756h12v12h-12zM360 768h12v12h-12zM360 780h12v12h-12zM348 792h12v12h-12zM336 804h12v12h-12zM324 816h12v12h-12zM312 828h24v12h-24zM300 840h24v12h-24zM288 852h12v12h-12zM276 864h12v12h-12zM252 876h12v12h-12z"/><path fill="#67eafe" d="M384 444h12v12h-12zM384 456h12v12h-12zM384 468h12v12h-12zM384 480h12v12h-12zM384 492h24v12h-24zM396 504h12v12h-12zM408 516h12v12h-12zM408 528h12v12h-12zM408 540h12v12h-12zM408 648h12v12h-12zM408 660h12v12h-12zM396 684h12v12h-12zM384 708h12v12h-12zM372 732h12v12h-12zM372 744h12v12h-12zM372 756h12v12h-12zM372 768h12v12h-12zM372 780h12v12h-12zM360 792h12v12h-12zM348 804h24v12h-24zM336 816h24v12h-24zM336 828h12v12h-12zM324 840h12v12h-12zM300 852h24v12h-24zM288 864h24v12h-24zM264 876h36v12h-36zM252 888h24v12h-24z"/><path fill="#66f3ff" d="M396 444h36v12h-36zM396 456h36v12h-36zM396 468h36v12h-36zM396 480h36v12h-36zM408 492h24v12h-24zM408 504h24v12h-24zM420 516h12v12h-12zM420 528h12v12h-12zM420 540h12v12h-12zM420 552h12v12h-12zM420 564h12v12h-12zM420 576h12v12h-12zM420 588h12v12h-12zM420 600h12v12h-12zM420 612h12v12h-12zM420 624h12v12h-12zM420 636h12v12h-12zM408 672h12v12h-12zM396 696h12v12h-12zM384 720h12v12h-12zM384 732h12v12h-12zM372 792h12v12h-12zM372 804h12v12h-12zM360 816h12v12h-12zM348 828h12v12h-12zM336 840h24v12h-24zM324 852h24v12h-24zM312 864h36v12h-36zM300 876h36v12h-36zM276 888h60v12h-60zM276 900h12v12h-12z"/><path fill="#6ef4f8" d="M432 456h12v12h-12zM432 468h12v12h-12zM432 480h12v12h-12zM432 492h12v12h-12zM432 504h12v12h-12zM420 648h12v12h-12zM408 684h12v12h-12zM396 708h12v12h-12zM384 744h12v12h-12zM384 756h12v12h-12zM384 768h12v12h-12zM384 780h12v12h-12zM384 792h12v12h-12zM384 804h12v12h-12zM372 816h24v12h-24zM360 828h24v12h-24zM360 840h12v12h-12zM348 852h12v12h-12zM348 864h12v12h-12zM336 876h24v12h-24zM336 888h24v12h-24z"/><path fill="#77f4f1" d="M444 456h12v12h-12zM444 468h12v12h-12zM444 480h12v12h-12zM444 492h12v12h-12zM432 516h12v12h-12zM432 528h12v12h-12zM432 612h12v12h-12zM432 624h12v12h-12zM432 636h12v12h-12zM420 660h12v12h-12zM408 696h12v12h-12zM396 720h12v12h-12zM396 732h12v12h-12zM396 792h12v12h-12zM396 804h12v12h-12zM384 828h12v12h-12zM372 840h12v12h-12zM360 852h12v12h-12zM360 864h12v12h-12zM360 876h12v12h-12zM360 888h12v12h-12z"/><path fill="#7ff5ea" d="M456 456h12v12h-12zM456 468h12v12h-12zM456 480h12v12h-12zM444 504h12v12h-12zM432 540h12v12h-12zM432 552h12v12h-12zM432 564h12v12h-12zM432 576h12v12h-12zM432 588h12v12h-12zM432 600h12v12h-12zM432 648h12v12h-12zM420 672h12v12h-12zM408 708h12v12h-12zM396 744h12v12h-12zM396 756h12v12h-12zM396 768h12v12h-12zM396 780h12v12h-12zM396 816h12v12h-12zM396 828h12v12h-12zM384 840h12v12h-12zM372 852h12v12h-12zM372 864h12v12h-12zM372 876h12v12h-12z"/><path fill="#88f5e3" d="M468 456h12v12h-12zM468 468h12v12h-12zM456 492h12v12h-12zM444 516h12v12h-12zM432 660h12v12h-12zM420 684h12v12h-12zM408 720h12v12h-12zM408 792h12v12h-12zM408 804h12v12h-12zM408 816h12v12h-12zM408 828h12v12h-12zM396 840h12v12h-12zM384 852h12v12h-12zM384 864h12v12h-12z"/><path fill="#90f6dc" d="M480 468h12v12h-12zM468 480h24v12h-24zM468 492h12v12h-12zM456 504h12v12h-12zM444 528h12v12h-12zM444 624h12v12h-12zM444 636h12v12h-12zM432 672h12v12h-12zM420 696h12v12h-12zM408 732h12v12h-12zM408 744h12v12h-12zM408 756h12v12h-12zM408 768h12v12h-12zM408 780h12v12h-12zM408 840h12v12h-12zM396 852h12v12h-12zM384 876h12v12h-12zM384 888h12v12h-12z"/><path fill="#98f7d6" d="M492 480h12v12h-12zM444 540h12v12h-12zM444 600h12v12h-12zM444 612h12v12h-12zM444 648h12v12h-12zM420 708h12v12h-12zM420 804h12v12h-12zM420 816h12v12h-12zM420 828h12v12h-12zM420 840h12v12h-12zM408 852h12v12h-12zM396 864h12v12h-12zM396 876h12v12h-12zM396 888h12v12h-12z"/><path fill="#a1f7cf" d="M480 492h12v12h-12zM468 504h12v12h-12zM456 516h12v12h-12zM444 552h12v12h-12zM444 564h12v12h-12zM444 576h12v12h-12zM444 588h12v12h-12zM444 660h12v12h-12zM432 684h12v12h-12zM420 720h12v12h-12zM420 780h12v12h-12zM420 792h12v12h-12zM432 816h12v12h-12zM432 828h12v12h-12zM420 852h12v12h-12zM408 864h12v12h-12zM408 876h12v12h-12zM408 888h12v12h-12z"/><path fill="#a9f8c8" d="M504 480h12v12h-12zM492 492h12v12h-12zM456 528h12v12h-12zM456 624h12v12h-12zM456 636h12v12h-12zM432 696h12v12h-12zM420 732h12v12h-12zM420 744h12v12h-12zM420 756h12v12h-12zM420 768h12v12h-12zM432 804h12v12h-12zM432 840h12v12h-12zM432 852h12v12h-12zM420 864h12v12h-12zM420 876h12v12h-12zM420 888h12v12h-12z"/><path fill="#b2f8c1" d="M480 504h12v12h-12zM468 516h12v12h-12zM456 612h12v12h-12zM456 648h12v12h-12zM444 672h12v12h-12zM432 708h12v12h-12zM432 792h12v12h-12zM444 816h12v12h-12zM444 828h12v12h-12zM444 840h12v12h-12zM444 852h12v12h-12zM432 864h24v12h-24zM432 876h24v12h-24zM432 888h12v12h-12z"/><path fill="#baf9ba" d="M504 492h12v12h-12zM456 540h12v12h-12zM456 600h12v12h-12zM456 660h12v12h-12zM444 684h12v12h-12zM432 720h12v12h-12zM432 732h12v12h-12zM432 744h12v12h-12zM432 756h12v12h-12zM432 768h12v12h-12zM432 780h12v12h-12zM444 804h12v12h-12zM456 864h12v12h-12zM456 876h12v12h-12zM444 888h36v12h-36z"/><path fill="#c1f9b2" d="M492 504h12v12h-12zM456 552h12v12h-12zM456 564h12v12h-12zM456 576h12v12h-12zM456 588h12v12h-12zM468 624h12v12h-12zM468 636h12v12h-12zM444 696h12v12h-12zM444 792h12v12h-12zM456 828h12v12h-12zM456 840h12v12h-12zM456 852h12v12h-12zM468 876h12v12h-12z"/><path fill="#c8f9a9" d="M480 516h12v12h-12zM468 528h12v12h-12zM468 648h12v12h-12zM456 672h12v12h-12zM444 708h12v12h-12zM444 780h12v12h-12zM456 816h12v12h-12zM468 852h12v12h-12zM468 864h12v12h-12zM480 888h12v12h-12z"/><path fill="#cff9a1" d="M516 492h12v12h-12zM468 612h12v12h-12zM468 660h12v12h-12zM456 684h12v12h-12zM444 720h12v12h-12zM444 732h12v12h-12zM444 744h12v12h-12zM444 756h12v12h-12zM444 768h12v12h-12zM456 804h12v12h-12zM468 840h12v12h-12zM480 876h12v12h-12z"/><path fill="#d6f998" d="M504 504h12v12h-12zM492 516h12v12h-12zM468 540h12v12h-12zM468 600h12v12h-12zM480 624h12v12h-12zM480 636h12v12h-12zM480 648h12v12h-12zM456 696h12v12h-12zM456 792h12v12h-12zM468 816h12v12h-12zM468 828h12v12h-12zM480 864h12v12h-12z"/><path fill="#dcf990" d="M480 528h12v12h-12zM468 552h12v12h-12zM468 588h12v12h-12zM468 672h12v12h-12zM456 708h12v12h-12zM456 720h12v12h-12zM456 768h12v12h-12zM456 780h12v12h-12zM468 804h12v12h-12zM480 852h12v12h-12z"/><path fill="#e3f988" d="M468 564h12v12h-12zM468 576h12v12h-12zM480 612h12v12h-12zM492 636h12v12h-12zM480 660h12v12h-12zM468 684h12v12h-12zM456 732h12v12h-12zM456 744h12v12h-12zM456 756h12v12h-12zM468 792h12v12h-12zM480 828h12v12h-12zM480 840h12v12h-12zM492 876h12v12h-12z"/><path fill="#eaf97f" d="M480 540h12v12h-12zM480 600h12v12h-12zM492 624h12v12h-12zM492 648h12v12h-12zM468 696h12v12h-12zM468 780h12v12h-12zM480 816h12v12h-12zM492 864h12v12h-12z"/><path fill="#f1f977" d="M516 504h12v12h-12zM504 516h12v12h-12zM492 528h12v12h-12zM480 588h12v12h-12zM492 612h12v12h-12zM492 660h12v12h-12zM480 672h12v12h-12zM468 708h12v12h-12zM468 720h12v12h-12zM468 732h12v12h-12zM468 756h12v12h-12zM468 768h12v12h-12zM480 804h12v12h-12zM492 852h12v12h-12z"/><path fill="#f8f96e" d="M480 552h12v12h-12zM480 564h12v12h-12zM480 576h12v12h-12zM504 624h12v12h-12zM504 636h12v12h-12zM504 648h12v12h-12zM480 684h12v12h-12zM468 744h12v12h-12zM480 792h12v12h-12zM492 828h12v12h-12zM492 840h12v12h-12z"/><path fill="#fff966" d="M492 600h12v12h-12zM504 612h12v12h-12zM504 660h12v12h-12zM492 672h12v12h-12zM480 696h12v12h-12zM480 708h12v12h-12zM480 780h12v12h-12zM492 816h12v12h-12zM504 876h12v12h-12z"/><path fill="#fff366" d="M492 540h12v12h-12zM492 588h12v12h-12zM516 624h12v12h-12zM516 636h12v12h-12zM516 648h12v12h-12zM492 684h12v12h-12zM480 720h12v12h-12zM480 732h12v12h-12zM480 744h12v12h-12zM480 756h12v12h-12zM480 768h12v12h-12zM492 804h12v12h-12zM504 852h12v12h-12zM504 864h12v12h-12z"/><path fill="#ffec66" d="M528 504h12v12h-12zM516 516h12v12h-12zM504 528h12v12h-12zM492 552h12v12h-12zM492 564h12v12h-12zM492 576h12v12h-12zM504 600h12v12h-12zM516 660h12v12h-12zM504 672h12v12h-12zM492 696h12v12h-12zM492 792h12v12h-12zM504 816h12v12h-12zM504 828h12v12h-12zM504 840h12v12h-12z"/><path fill="#ffe666" d="M504 588h12v12h-12zM516 612h12v12h-12zM528 636h12v12h-12zM528 648h12v12h-12zM516 672h12v12h-12zM504 684h12v12h-12zM492 708h12v12h-12zM492 720h12v12h-12zM492 768h12v12h-12zM492 780h12v12h-12zM504 804h12v12h-12zM516 876h12v12h-12z"/><path fill="#ffe066" d="M504 540h12v12h-12zM504 552h12v12h-12zM504 564h12v12h-12zM504 576h12v12h-12zM516 600h12v12h-12zM528 624h12v12h-12zM528 660h12v12h-12zM504 696h12v12h-12zM492 732h12v12h-12zM492 744h12v12h-12zM492 756h12v12h-12zM504 792h12v12h-12zM516 816h12v12h-12zM516 828h12v12h-12zM516 840h12v12h-12zM516 852h12v12h-12zM516 864h12v12h-12z"/><path fill="#ffda66" d="M528 516h12v12h-12zM516 528h12v12h-12zM516 588h12v12h-12zM528 612h12v12h-12zM528 672h12v12h-12zM516 684h12v12h-12zM504 708h12v12h-12zM504 720h12v12h-12zM504 780h12v12h-12zM516 804h12v12h-12zM528 864h12v12h-12z"/><path fill="#ffd366" d="M516 540h12v12h-12zM516 564h12v12h-12zM516 576h12v12h-12zM528 600h12v12h-12zM540 624h12v12h-12zM540 636h12v12h-12zM540 648h12v12h-12zM540 660h12v12h-12zM528 684h12v12h-12zM516 696h12v12h-12zM504 732h12v12h-12zM504 744h12v12h-12zM504 756h12v12h-12zM504 768h12v12h-12zM516 792h12v12h-12zM528 816h12v12h-12zM528 828h12v12h-12zM528 840h12v12h-12zM528 852h12v12h-12z"/><path fill="#ffcd66" d="M528 528h12v12h-12zM516 552h12v12h-12zM528 576h12v12h-12zM528 588h12v12h-12zM540 612h12v12h-12zM540 672h12v12h-12zM540 684h12v12h-12zM528 696h12v12h-12zM516 708h12v12h-12zM516 720h12v12h-12zM516 780h12v12h-12zM528 804h12v12h-12zM540 828h12v12h-12zM540 840h12v12h-12zM540 852h12v12h-12zM540 864h12v12h-12z"/><path fill="#ffc766" d="M540 516h12v12h-12zM528 540h12v12h-12zM528 552h12v12h-12zM528 564h12v12h-12zM540 600h12v12h-12zM552 624h12v12h-12zM552 636h12v12h-12zM552 648h12v12h-12zM552 660h12v12h-12zM552 672h12v12h-12zM540 696h12v12h-12zM528 708h12v12h-12zM528 720h12v12h-12zM516 732h12v12h-12zM516 744h12v12h-12zM516 756h12v12h-12zM516 768h12v12h-12zM528 780h12v12h-12zM528 792h12v12h-12zM540 804h12v12h-12zM540 816h12v12h-12zM552 828h12v12h-12zM552 840h12v12h-12zM552 852h12v12h-12zM552 864h12v12h-12z"/><path fill="#ffc066" d="M552 516h12v12h-12zM540 528h12v12h-12zM540 540h12v12h-12zM540 552h12v12h-12zM540 564h12v12h-12zM540 576h12v12h-12zM540 588h12v12h-12zM552 612h12v12h-12zM564 636h12v12h-12zM564 648h12v12h-12zM564 660h12v12h-12zM552 684h12v12h-12zM552 696h12v12h-12zM540 708h12v12h-12zM540 720h12v12h-12zM528 732h12v12h-12zM528 744h12v12h-12zM528 756h12v12h-12zM528 768h24v12h-24zM540 780h12v12h-12zM540 792h24v12h-24zM552 804h24v12h-24zM552 816h24v12h-24zM564 828h12v12h-12zM564 840h12v12h-12zM564 852h12v12h-12z"/><path fill="#ffba66" d="M552 528h12v12h-12zM552 540h12v12h-12zM552 600h12v12h-12zM564 624h12v12h-12zM576 636h12v12h-12zM576 648h12v12h-12zM576 660h12v12h-12zM564 672h12v12h-12zM564 684h12v12h-12zM564 696h12v12h-12zM552 708h24v12h-24zM552 720h24v12h-24zM540 732h36v12h-36zM540 744h36v12h-36zM540 756h36v12h-36zM552 768h36v12h-36zM552 780h48v12h-48zM564 792h48v12h-48zM576 804h36v12h-36zM576 816h48v12h-48zM576 828h60v12h-60zM576 840h60v12h-60zM576 852h60v12h-60z"/><path fill="#feb266" d="M564 528h12v12h-12zM564 540h12v12h-12zM552 552h12v12h-12zM552 564h12v12h-12zM552 576h12v12h-12zM612 576h12v12h-12zM552 588h12v12h-12zM600 588h24v12h-24zM564 600h12v12h-12zM600 600h24v12h-24zM564 612h60v12h-60zM576 624h48v12h-48zM588 636h36v12h-36zM588 648h24v12h-24zM588 660h12v12h-12zM576 672h12v12h-12zM576 684h12v12h-12zM576 696h12v12h-12zM576 708h12v12h-12zM576 720h12v12h-12zM576 732h12v12h-12zM576 744h12v12h-12zM576 756h24v12h-24zM588 768h24v12h-24zM600 780h12v12h-12zM612 792h12v12h-12zM612 804h12v12h-12zM624 816h12v12h-12zM636 828h12v12h-12zM636 840h24v12h-24z"/><path fill="#fda966" d="M576 540h36v12h-36zM564 552h72v12h-72zM564 564h12v12h-12zM588 564h48v12h-48zM564 576h12v12h-12zM588 576h24v12h-24zM624 576h12v12h-12zM564 588h36v12h-36zM624 588h12v12h-12zM576 600h24v12h-24zM624 600h12v12h-12zM624 612h12v12h-12zM624 624h12v12h-12zM624 636h12v12h-12zM612 648h24v12h-24zM600 660h36v12h-36zM588 672h24v12h-24zM588 684h12v12h-12zM588 696h12v12h-12zM588 708h12v12h-12zM588 720h12v12h-12zM588 732h12v12h-12zM588 744h24v12h-24zM600 756h12v12h-12zM612 768h12v12h-12zM612 780h12v12h-12zM624 792h12v12h-12zM624 804h12v12h-12zM636 816h12v12h-12zM648 828h12v12h-12zM660 840h12v12h-12z"/><path fill="#fba166" d="M576 564h12v12h-12zM636 564h12v12h-12zM576 576h12v12h-12zM636 576h12v12h-12zM636 588h12v12h-12zM636 600h12v12h-12zM636 612h12v12h-12zM636 624h12v12h-12zM636 636h24v12h-24zM636 648h24v12h-24zM636 660h36v12h-36zM612 672h72v12h-72zM600 684h84v12h-84zM600 696h12v12h-12zM636 696h36v12h-36zM600 708h12v12h-12zM600 720h12v12h-12zM600 732h12v12h-12zM612 744h12v12h-12zM612 756h12v12h-12zM624 768h12v12h-12zM624 780h12v12h-12zM636 804h12v12h-12zM648 816h12v12h-12z"/><path fill="#fa9866" d="M648 564h24v12h-24zM648 576h24v12h-24zM648 588h24v12h-24zM648 600h24v12h-24zM648 612h24v12h-24zM648 624h24v12h-24zM660 636h24v12h-24zM660 648h36v12h-36zM672 660h24v12h-24zM684 672h12v12h-12zM684 684h12v12h-12zM612 696h24v12h-24zM672 696h12v12h-12zM612 708h60v12h-60zM612 720h36v12h-36zM612 732h24v12h-24zM624 744h12v12h-12zM624 756h12v12h-12zM636 792h12v12h-12zM660 828h12v12h-12zM672 840h12v12h-12z"/><path fill="#f99066" d="M672 564h24v12h-24zM672 576h48v12h-48zM672 588h60v12h-60zM672 600h72v12h-72zM672 612h72v12h-72zM672 624h84v12h-84zM684 636h84v12h-84zM696 648h72v12h-72zM696 660h72v12h-72zM696 672h72v12h-72zM696 684h24v12h-24zM684 696h12v12h-12zM672 708h12v12h-12zM648 720h24v12h-24zM636 732h24v12h-24zM636 744h12v12h-12zM636 756h12v12h-12zM636 768h12v12h-12zM636 780h12v12h-12zM648 804h12v12h-12zM660 816h12v12h-12z"/><path fill="#f88866" d="M720 684h48v12h-48zM696 696h24v12h-24zM684 708h12v12h-12zM672 720h12v12h-12zM660 732h12v12h-12zM648 744h12v12h-12zM648 756h12v12h-12zM648 792h12v12h-12zM672 828h12v12h-12z"/><path fill="#f77f66" d="M720 696h48v12h-48zM696 708h24v12h-24zM684 720h12v12h-12zM672 732h12v12h-12zM660 744h24v12h-24zM660 756h12v12h-12zM648 768h12v12h-12zM648 780h12v12h-12zM660 804h12v12h-12zM672 816h12v12h-12zM684 828h12v12h-12z"/><path fill="#f57766" d="M720 708h48v12h-48zM696 720h36v12h-36zM684 732h24v12h-24zM684 744h12v12h-12zM672 756h12v12h-12zM660 768h24v12h-24zM660 780h12v12h-12zM660 792h12v12h-12zM672 804h12v12h-12z"/><path fill="#f46e66" d="M732 720h36v12h-36zM708 732h60v12h-60zM696 744h36v12h-36zM684 756h36v12h-36zM684 768h24v12h-24zM672 780h36v12h-36zM672 792h24v12h-24zM684 804h12v12h-12zM684 816h24v12h-24zM696 828h12v12h-12z"/><path fill="#f36666" d="M732 744h36v12h-36zM720 756h36v12h-36zM708 768h48v12h-48zM708 780h36v12h-36zM696 792h36v12h-36zM696 804h36v12h-36zM708 816h12v12h-12z"/></g></g><g filter="url(#bl2)"><ellipse cx="362.4" cy="682.6" rx="21.7" ry="21.7" fill="#fff" fill-opacity="0.85"/><ellipse cx="457.5" cy="732.4" rx="18.1" ry="18.1" fill="#fff" fill-opacity="0.75"/><ellipse cx="244.7" cy="569.4" rx="10.0" ry="10.0" fill="#fff" fill-opacity="0.60"/><ellipse cx="530.0" cy="202.6" rx="20.4" ry="20.4" fill="#fff" fill-opacity="0.55"/><ellipse cx="597.9" cy="139.2" rx="15.8" ry="15.8" fill="#fff" fill-opacity="0.50"/><ellipse cx="108.9" cy="84.9" rx="24.9" ry="24.9" fill="#fff" fill-opacity="0.35"/><ellipse cx="158.7" cy="130.2" rx="20.4" ry="20.4" fill="#fff" fill-opacity="0.30"/></g><polygon points="96.8,41.2 153.6,-21.9 193.6,-52.2 324.1,-35.4 368.3,-9.3 385.1,5.5 376.7,-0.9 359.9,-0.9 334.6,3.3 300.9,11.8 267.3,18.1 225.2,24.4 187.3,30.7 132.6,37.0 94.7,43.3" fill="#fff" filter="url(#bl3)"/><polygon points="193.6,-52.2 324.1,-35.4 368.3,-9.3 385.1,5.5 402.0,26.5 420.9,39.1 444.1,46.3 469.3,45.4 490.4,41.2 513.5,23.1 555.6,26.5 639.8,33.7 662.9,66.5 679.8,91.7 690.3,121.2 688.2,188.5 681.9,230.6 667.1,264.3 631.4,333.8 536.7,330.8 503.0,346.4 469.3,367.4 423.0,396.9 397.8,403.2 334.6,401.1 284.1,417.9 254.6,439.0 216.8,462.1 187.3,487.4 130.5,491.6 115.7,514.7 92.6,529.5 90.5,356.9 80.0,272.7 67.3,171.7 64.4,142.2 80.0,70.7 96.8,41.2 153.6,-21.9" fill="none" stroke="#2a2a2a" stroke-width="2" stroke-linejoin="round"/><polygon points="365.9,481.2 400.6,478.6 459.2,481.2 478.7,497.2 522.1,534.1 578.4,566.6 630.5,588.3 665.2,588.3 695.5,605.6 719.4,620.8 725.9,642.5 738.9,659.8 741.1,716.2 734.6,737.9 721.6,768.2 695.5,802.9 682.5,816.0 643.5,826.8 587.1,833.3 548.1,842.0 496.0,859.3 452.7,874.5 418.0,875.8 400.6,870.2 383.3,861.5 331.3,868.9 279.2,876.7 253.2,833.3 227.2,781.3 192.5,742.2 170.8,716.2 136.1,681.5 118.8,659.8 107.9,629.5 127.4,607.8 162.1,581.8 201.2,555.7 235.8,538.4 287.9,516.7 335.6,499.4" fill="none" stroke="#2a2a2a" stroke-width="2" stroke-linejoin="round"/></g><path d="M1292.9 2162.5v21M1386.5 2162.5v21M1480.1 2162.5v21M1573.7 2162.5v21M1667.3 2162.5v21M1760.9 2162.5v21M1854.5 2162.5v21M1948.1 2162.5v21M2041.7 2162.5v21M2135.3 2162.5v21M1240.0 1234.0h-21M1240.0 1355.6h-21M1240.0 1477.2h-21M1240.0 1598.8h-21M1240.0 1720.4h-21M1240.0 1842.0h-21M1240.0 1963.6h-21M1240.0 2085.2h-21" stroke="#444" stroke-width="3" fill="none"/><rect x="1240.0" y="1161.5" width="950.5" height="1001.0" fill="none" stroke="#000" stroke-width="5"/><text x="1292.9" y="2223.5" text-anchor="middle" class="ax">116°24'0&quot;E</text><text x="1573.7" y="2223.5" text-anchor="middle" class="ax">116°28'30&quot;E</text><text x="1854.5" y="2223.5" text-anchor="middle" class="ax">116°33'0&quot;E</text><text x="2135.3" y="2223.5" text-anchor="middle" class="ax">116°37'30&quot;E</text><text transform="translate(1204.5,1234.0) rotate(-90)" text-anchor="middle" class="ay">40°3'0&quot;N</text><text transform="translate(1204.5,1477.2) rotate(-90)" text-anchor="middle" class="ay">40°0'0&quot;N</text><text transform="translate(1204.5,1720.4) rotate(-90)" text-anchor="middle" class="ay">39°57'0&quot;N</text><text transform="translate(1204.5,1963.6) rotate(-90)" text-anchor="middle" class="ay">39°54'0&quot;N</text><text x="1282.7" y="1245.0" class="let">d</text><text x="2040.0" y="2110.0" class="yr">2014</text></g><g><g transform="translate(160.7,2362.5)"><g clip-path="url(#cn)"><g filter="url(#bl)"><path fill="#6c75e4" d="M36 108h12v12h-12zM36 120h24v12h-24zM36 132h24v12h-24zM36 144h24v12h-24zM36 156h36v12h-36zM36 168h48v12h-48zM36 180h60v12h-60zM36 192h72v12h-72zM36 204h72v12h-72zM48 216h60v12h-60zM48 228h60v12h-60zM48 240h72v12h-72zM48 252h72v12h-72zM48 264h84v12h-84zM48 276h96v12h-96zM48 288h108v12h-108zM48 300h108v12h-108zM60 312h96v12h-96zM60 324h96v12h-96zM60 336h96v12h-96zM60 348h96v12h-96zM60 360h96v12h-96zM60 372h96v12h-96zM60 384h96v12h-96zM60 396h96v12h-96zM60 408h96v12h-96zM60 420h96v12h-96zM60 432h108v12h-108zM60 444h108v12h-108zM60 456h120v12h-120zM60 468h132v12h-132zM60 480h144v12h-144zM60 492h156v12h-156zM60 504h144v12h-144zM60 516h84v12h-84zM60 528h84v12h-84zM72 540h48v12h-48zM84 552h12v12h-12z"/><path fill="#6d79e6" d="M48 96h12v12h-12zM48 108h24v12h-24zM60 120h12v12h-12zM60 132h24v12h-24zM60 144h24v12h-24zM72 156h24v12h-24zM84 168h24v12h-24zM96 180h24v12h-24zM108 192h12v12h-12zM108 204h24v12h-24zM108 216h24v12h-24zM108 228h24v12h-24zM120 240h12v12h-12zM120 252h24v12h-24zM132 264h24v12h-24zM144 276h24v12h-24zM156 288h12v12h-12zM156 300h12v12h-12zM156 312h24v12h-24zM156 324h24v12h-24zM156 336h24v12h-24zM156 348h24v12h-24zM156 360h24v12h-24zM156 372h24v12h-24zM156 384h24v12h-24zM156 396h24v12h-24zM156 408h24v12h-24zM156 420h24v12h-24zM168 432h12v12h-12zM168 444h24v12h-24zM180 456h24v12h-24zM192 468h12v12h-12zM204 480h12v12h-12z"/><path fill="#6d7de8" d="M48 84h12v12h-12zM60 96h12v12h-12zM72 108h12v12h-12zM72 120h12v12h-12zM84 132h12v12h-12zM84 144h12v12h-12zM96 156h12v12h-12zM108 168h24v12h-24zM120 180h12v12h-12zM120 192h24v12h-24zM132 204h12v12h-12zM132 216h12v12h-12zM132 228h12v12h-12zM132 240h24v12h-24zM144 252h24v12h-24zM156 264h24v12h-24zM168 276h12v12h-12zM168 288h12v12h-12zM168 300h12v12h-12zM180 384h12v12h-12zM180 396h12v12h-12zM180 408h12v12h-12zM180 420h12v12h-12zM180 432h12v12h-12zM192 444h12v12h-12zM204 468h12v12h-12zM216 480h12v12h-12z"/><path fill="#6e81ea" d="M48 72h12v12h-12zM60 84h12v12h-12zM72 96h12v12h-12zM84 108h12v12h-12zM84 120h12v12h-12zM96 132h12v12h-12zM96 144h24v12h-24zM108 156h24v12h-24zM132 168h12v12h-12zM132 180h12v12h-12zM144 192h12v12h-12zM144 204h12v12h-12zM144 216h12v12h-12zM144 228h12v12h-12zM156 240h12v12h-12zM168 252h12v12h-12zM180 264h12v12h-12zM180 276h12v12h-12zM180 288h12v12h-12zM180 300h12v12h-12zM180 312h12v12h-12zM180 324h12v12h-12zM180 336h12v12h-12zM180 348h12v12h-12zM180 360h12v12h-12zM180 372h12v12h-12zM192 396h12v12h-12zM192 408h12v12h-12zM192 420h12v12h-12zM192 432h12v12h-12zM204 444h12v12h-12zM204 456h12v12h-12zM216 468h12v12h-12z"/><path fill="#6e85ec" d="M48 60h12v12h-12zM60 72h12v12h-12zM72 84h24v12h-24zM84 96h24v12h-24zM96 108h12v12h-12zM96 120h24v12h-24zM108 132h24v12h-24zM120 144h24v12h-24zM132 156h24v12h-24zM144 168h24v12h-24zM144 180h24v12h-24zM156 192h12v12h-12zM156 204h12v12h-12zM156 216h24v12h-24zM156 228h24v12h-24zM168 240h24v12h-24zM180 252h24v12h-24zM192 264h12v12h-12zM192 276h24v12h-24zM192 288h24v12h-24zM192 300h24v12h-24zM192 312h24v12h-24zM192 324h24v12h-24zM192 336h24v12h-24zM192 348h24v12h-24zM192 360h24v12h-24zM192 372h24v12h-24zM192 384h24v12h-24zM204 396h12v12h-12zM204 408h12v12h-12zM204 420h12v12h-12zM204 432h12v12h-12zM216 444h12v12h-12zM216 456h12v12h-12zM228 468h12v12h-12zM228 480h12v12h-12z"/><path fill="#6f88ee" d="M144 -60h12v12h-12zM132 -48h24v12h-24zM120 -36h36v12h-36zM108 -24h48v12h-48zM96 -12h60v12h-60zM84 0h72v12h-72zM72 12h84v12h-84zM72 24h84v12h-84zM60 36h96v12h-96zM60 48h96v12h-96zM60 60h96v12h-96zM72 72h84v12h-84zM96 84h60v12h-60zM108 96h48v12h-48zM108 108h60v12h-60zM120 120h48v12h-48zM132 132h48v12h-48zM144 144h48v12h-48zM156 156h48v12h-48zM168 168h48v12h-48zM168 180h60v12h-60zM168 192h72v12h-72zM168 204h72v12h-72zM180 216h72v12h-72zM180 228h72v12h-72zM192 240h60v12h-60zM204 252h48v12h-48zM204 264h48v12h-48zM216 276h36v12h-36zM216 288h36v12h-36zM216 300h36v12h-36zM216 312h36v12h-36zM216 324h36v12h-36zM216 336h36v12h-36zM216 348h36v12h-36zM216 360h36v12h-36zM216 372h24v12h-24zM216 384h24v12h-24zM216 396h24v12h-24zM216 408h24v12h-24zM216 420h24v12h-24zM216 432h24v12h-24zM228 444h12v12h-12zM228 456h12v12h-12z"/><path fill="#708cf1" d="M168 -72h12v12h-12zM156 -60h24v12h-24zM156 -48h24v12h-24zM156 -36h24v12h-24zM156 -24h24v12h-24zM156 -12h24v12h-24zM156 0h24v12h-24zM156 12h24v12h-24zM156 24h24v12h-24zM156 36h24v12h-24zM156 48h24v12h-24zM156 60h24v12h-24zM156 72h24v12h-24zM156 84h24v12h-24zM156 96h24v12h-24zM168 108h12v12h-12zM168 120h24v12h-24zM180 132h24v12h-24zM192 144h24v12h-24zM204 156h24v12h-24zM216 168h24v12h-24zM228 180h36v12h-36zM240 192h24v12h-24zM240 204h24v12h-24zM252 216h12v12h-12zM252 228h12v12h-12zM252 240h12v12h-12zM252 252h12v12h-12zM252 264h12v12h-12zM252 276h12v12h-12zM252 288h12v12h-12zM252 300h12v12h-12zM252 312h12v12h-12zM252 324h12v12h-12zM252 336h12v12h-12zM252 348h12v12h-12zM252 360h12v12h-12zM240 372h24v12h-24zM240 384h24v12h-24zM240 396h12v12h-12zM240 408h12v12h-12zM240 420h12v12h-12zM240 432h12v12h-12zM240 444h12v12h-12zM240 456h12v12h-12zM240 468h12v12h-12z"/><path fill="#7090f3" d="M180 60h12v12h-12zM180 72h12v12h-12zM180 84h12v12h-12zM180 96h12v12h-12zM180 108h24v12h-24zM192 120h24v12h-24zM204 132h24v12h-24zM216 144h24v12h-24zM228 156h36v12h-36zM240 168h36v12h-36zM264 180h12v12h-12zM264 192h12v12h-12zM264 204h12v12h-12zM264 216h12v12h-12zM264 228h12v12h-12zM264 240h12v12h-12zM264 252h12v12h-12zM264 264h12v12h-12zM264 276h12v12h-12zM264 288h12v12h-12zM264 300h12v12h-12zM264 312h12v12h-12zM264 324h12v12h-12zM264 336h12v12h-12zM264 348h12v12h-12zM264 360h12v12h-12zM264 372h12v12h-12zM252 396h12v12h-12zM252 408h12v12h-12zM252 420h12v12h-12zM252 432h12v12h-12zM252 444h12v12h-12zM252 456h12v12h-12z"/><path fill="#7194f5" d="M180 -84h12v12h-12zM180 -72h12v12h-12zM180 -60h12v12h-12zM180 -48h12v12h-12zM180 -36h12v12h-12zM180 -24h12v12h-12zM180 -12h12v12h-12zM180 0h12v12h-12zM180 12h12v12h-12zM180 24h12v12h-12zM180 36h12v12h-12zM180 48h12v12h-12zM192 72h12v12h-12zM192 84h12v12h-12zM192 96h12v12h-12zM204 108h12v12h-12zM216 120h24v12h-24zM276 120h24v12h-24zM228 132h24v12h-24zM264 132h48v12h-48zM240 144h72v12h-72zM264 156h48v12h-48zM276 168h24v12h-24zM276 180h12v12h-12zM276 192h12v12h-12zM276 204h12v12h-12zM276 216h12v12h-12zM276 228h12v12h-12zM276 240h12v12h-12zM276 252h12v12h-12zM276 264h12v12h-12zM276 276h12v12h-12zM276 288h12v12h-12zM276 300h12v12h-12zM276 312h12v12h-12zM276 324h12v12h-12zM276 336h12v12h-12zM276 348h12v12h-12zM264 384h12v12h-12zM264 396h12v12h-12zM264 408h12v12h-12z"/><path fill="#7198f7" d="M192 -84h24v12h-24zM192 -72h24v12h-24zM192 -60h24v12h-24zM192 -48h24v12h-24zM192 -36h24v12h-24zM192 -24h24v12h-24zM192 -12h24v12h-24zM192 0h24v12h-24zM192 12h24v12h-24zM192 24h24v12h-24zM192 36h24v12h-24zM192 48h24v12h-24zM192 60h24v12h-24zM204 72h12v12h-12zM204 84h24v12h-24zM204 96h36v12h-36zM216 108h84v12h-84zM240 120h36v12h-36zM300 120h12v12h-12zM252 132h12v12h-12zM312 132h12v12h-12zM312 144h12v12h-12zM312 156h12v12h-12zM300 168h24v12h-24zM288 180h24v12h-24zM288 192h24v12h-24zM288 204h12v12h-12zM288 216h12v12h-12zM288 228h12v12h-12zM288 240h12v12h-12zM288 252h12v12h-12zM288 264h12v12h-12zM288 276h12v12h-12zM288 288h12v12h-12zM288 300h12v12h-12zM276 360h12v12h-12zM276 372h12v12h-12zM276 384h12v12h-12zM264 420h12v12h-12zM264 432h12v12h-12zM264 444h12v12h-12zM264 456h12v12h-12z"/><path fill="#729cf9" d="M216 -84h12v12h-12zM216 -72h36v12h-36zM216 -60h36v12h-36zM216 -48h36v12h-36zM216 -36h36v12h-36zM216 -24h36v12h-36zM216 -12h36v12h-36zM216 0h36v12h-36zM216 12h36v12h-36zM216 24h36v12h-36zM216 36h36v12h-36zM216 48h36v12h-36zM216 60h36v12h-36zM216 72h48v12h-48zM228 84h48v12h-48zM240 96h60v12h-60zM300 108h12v12h-12zM312 120h12v12h-12zM324 132h12v12h-12zM324 144h12v12h-12zM324 156h12v12h-12zM324 168h12v12h-12zM312 180h24v12h-24zM312 192h24v12h-24zM300 204h36v12h-36zM300 216h24v12h-24zM300 228h24v12h-24zM300 240h12v12h-12zM300 252h12v12h-12zM300 264h12v12h-12zM288 312h12v12h-12zM288 324h12v12h-12zM288 336h12v12h-12zM288 348h12v12h-12zM288 360h12v12h-12zM276 396h12v12h-12zM276 408h12v12h-12z"/><path fill="#71a5fa" d="M252 -72h12v12h-12zM252 -60h12v12h-12zM252 -48h12v12h-12zM252 -36h12v12h-12zM252 -24h12v12h-12zM252 -12h12v12h-12zM252 0h12v12h-12zM252 12h12v12h-12zM252 24h12v12h-12zM252 36h12v12h-12zM252 48h12v12h-12zM252 60h24v12h-24zM264 72h24v12h-24zM276 84h24v12h-24zM300 96h12v12h-12zM312 108h12v12h-12zM324 120h12v12h-12zM336 144h12v12h-12zM336 156h12v12h-12zM336 168h12v12h-12zM336 180h12v12h-12zM336 192h12v12h-12zM336 204h12v12h-12zM324 216h12v12h-12zM324 228h12v12h-12zM312 240h24v12h-24zM312 252h12v12h-12zM300 276h12v12h-12zM300 288h12v12h-12zM300 300h12v12h-12zM300 312h12v12h-12zM300 324h12v12h-12zM300 336h12v12h-12zM288 372h12v12h-12zM288 384h12v12h-12zM276 420h12v12h-12zM276 432h12v12h-12zM276 444h12v12h-12z"/><path fill="#70adfa" d="M264 -72h12v12h-12zM264 -60h12v12h-12zM264 -48h12v12h-12zM264 -36h12v12h-12zM264 -24h12v12h-12zM264 -12h12v12h-12zM264 0h12v12h-12zM264 12h12v12h-12zM264 24h12v12h-12zM264 36h12v12h-12zM264 48h12v12h-12zM276 60h12v12h-12zM288 72h12v12h-12zM300 84h12v12h-12zM312 96h12v12h-12zM324 108h12v12h-12zM336 120h12v12h-12zM336 132h12v12h-12zM336 216h12v12h-12zM336 228h12v12h-12zM336 240h12v12h-12zM324 252h12v12h-12zM312 264h12v12h-12zM312 276h12v12h-12zM312 288h12v12h-12zM312 300h12v12h-12zM312 312h12v12h-12zM300 348h12v12h-12zM300 360h12v12h-12zM300 372h12v12h-12zM288 396h12v12h-12zM288 408h12v12h-12zM288 420h12v12h-12zM288 432h12v12h-12z"/><path fill="#6eb6fb" d="M276 -72h12v12h-12zM276 -60h12v12h-12zM276 -48h12v12h-12zM276 -36h12v12h-12zM276 -24h12v12h-12zM276 -12h12v12h-12zM276 0h12v12h-12zM276 12h12v12h-12zM276 24h12v12h-12zM276 36h12v12h-12zM276 48h12v12h-12zM288 60h12v12h-12zM300 72h12v12h-12zM312 84h12v12h-12zM324 96h12v12h-12zM336 108h12v12h-12zM348 132h12v12h-12zM348 144h12v12h-12zM348 156h12v12h-12zM348 168h12v12h-12zM348 180h12v12h-12zM348 192h12v12h-12zM348 204h12v12h-12zM348 216h12v12h-12zM348 228h12v12h-12zM336 252h12v12h-12zM324 264h12v12h-12zM324 276h12v12h-12zM324 288h12v12h-12zM324 300h12v12h-12zM312 324h12v12h-12zM312 336h12v12h-12zM312 348h12v12h-12zM300 384h12v12h-12zM300 396h12v12h-12zM300 408h12v12h-12z"/><path fill="#6dbffb" d="M288 -72h12v12h-12zM288 -60h12v12h-12zM288 -48h12v12h-12zM288 -36h12v12h-12zM288 -24h12v12h-12zM288 -12h12v12h-12zM288 0h12v12h-12zM288 12h12v12h-12zM288 24h12v12h-12zM288 36h12v12h-12zM288 48h12v12h-12zM300 60h12v12h-12zM312 72h12v12h-12zM324 84h12v12h-12zM336 96h12v12h-12zM348 120h12v12h-12zM348 240h12v12h-12zM348 252h12v12h-12zM336 264h12v12h-12zM336 276h12v12h-12zM324 312h12v12h-12zM324 324h12v12h-12zM312 360h12v12h-12zM312 372h12v12h-12zM312 384h12v12h-12zM312 396h12v12h-12zM312 408h12v12h-12zM300 420h24v12h-24zM300 432h24v12h-24z"/><path fill="#6cc8fc" d="M300 36h12v12h-12zM300 48h12v12h-12zM312 60h12v12h-12zM324 72h12v12h-12zM348 108h12v12h-12zM360 144h12v12h-12zM360 156h12v12h-12zM360 168h12v12h-12zM360 180h12v12h-12zM360 192h12v12h-12zM360 204h12v12h-12zM360 216h12v12h-12zM360 228h12v12h-12zM348 264h12v12h-12zM336 288h12v12h-12zM336 300h12v12h-12zM336 312h12v12h-12zM336 324h12v12h-12zM324 336h12v12h-12zM324 348h12v12h-12zM324 408h12v12h-12zM324 420h12v12h-12z"/><path fill="#6bd0fd" d="M300 -72h12v12h-12zM300 -60h12v12h-12zM300 -48h12v12h-12zM300 -36h12v12h-12zM300 -24h12v12h-12zM300 -12h12v12h-12zM300 0h12v12h-12zM300 12h12v12h-12zM300 24h12v12h-12zM312 48h12v12h-12zM336 84h12v12h-12zM348 96h12v12h-12zM360 120h12v12h-12zM360 132h12v12h-12zM360 240h12v12h-12zM360 252h12v12h-12zM348 276h12v12h-12zM348 288h12v12h-12zM348 300h12v12h-12zM348 312h12v12h-12zM336 336h12v12h-12zM324 360h12v12h-12zM324 372h12v12h-12zM324 384h12v12h-12zM324 396h12v12h-12zM336 420h12v12h-12z"/><path fill="#6ad9fd" d="M312 -72h12v12h-12zM312 -60h12v12h-12zM312 -48h12v12h-12zM312 -36h12v12h-12zM312 -24h12v12h-12zM312 -12h12v12h-12zM312 0h12v12h-12zM312 12h12v12h-12zM312 24h12v12h-12zM312 36h12v12h-12zM324 48h12v12h-12zM324 60h12v12h-12zM336 72h12v12h-12zM348 84h12v12h-12zM360 96h12v12h-12zM360 108h12v12h-12zM360 264h12v12h-12zM360 276h12v12h-12zM360 288h12v12h-12zM360 300h12v12h-12zM348 324h12v12h-12zM348 336h12v12h-12zM336 348h12v12h-12zM336 360h12v12h-12zM336 396h12v12h-12zM336 408h12v12h-12zM348 420h12v12h-12z"/><path fill="#68e2fe" d="M324 -60h12v12h-12zM324 -48h12v12h-12zM324 -36h12v12h-12zM324 -24h12v12h-12zM324 -12h12v12h-12zM324 0h12v12h-12zM324 12h12v12h-12zM324 24h12v12h-12zM324 36h12v12h-12zM336 48h12v12h-12zM336 60h24v12h-24zM348 72h24v12h-24zM360 84h12v12h-12zM372 120h12v12h-12zM372 132h12v12h-12zM372 144h12v12h-12zM372 156h12v12h-12zM372 168h12v12h-12zM372 180h12v12h-12zM372 192h12v12h-12zM372 204h12v12h-12zM372 216h12v12h-12zM372 228h12v12h-12zM372 240h12v12h-12zM372 252h12v12h-12zM372 264h12v12h-12zM372 276h12v12h-12zM372 288h12v12h-12zM372 300h12v12h-12zM360 312h12v12h-12zM360 324h12v12h-12zM360 336h12v12h-12zM348 348h12v12h-12zM348 360h12v12h-12zM336 372h12v12h-12zM336 384h12v12h-12zM348 408h12v12h-12z"/><path fill="#67eafe" d="M336 -60h12v12h-12zM336 -48h12v12h-12zM336 -36h12v12h-12zM336 -24h12v12h-12zM336 -12h12v12h-12zM336 0h12v12h-12zM336 12h12v12h-12zM336 24h24v12h-24zM336 36h24v12h-24zM348 48h24v12h-24zM360 60h12v12h-12zM372 72h12v12h-12zM372 84h12v12h-12zM372 96h12v12h-12zM372 108h12v12h-12zM384 264h12v12h-12zM384 276h12v12h-12zM384 288h12v12h-12zM384 300h12v12h-12zM372 312h24v12h-24zM372 324h24v12h-24zM372 336h12v12h-12zM360 348h24v12h-24zM360 360h12v12h-12zM348 372h24v12h-24zM348 384h12v12h-12zM348 396h24v12h-24zM360 408h12v12h-12zM360 420h12v12h-12z"/><path fill="#66f3ff" d="M348 -48h24v12h-24zM348 -36h48v12h-48zM348 -24h60v12h-60zM348 -12h72v12h-72zM348 0h72v12h-72zM348 12h60v12h-60zM360 24h48v12h-48zM360 36h48v12h-48zM372 48h24v12h-24zM372 60h24v12h-24zM384 72h12v12h-12zM384 120h12v12h-12zM384 132h12v12h-12zM384 144h12v12h-12zM384 156h12v12h-12zM384 204h12v12h-12zM384 216h12v12h-12zM384 228h12v12h-12zM384 240h12v12h-12zM384 252h12v12h-12zM396 276h12v12h-12zM396 288h24v12h-24zM396 300h36v12h-36zM396 312h36v12h-36zM396 324h36v12h-36zM384 336h48v12h-48zM384 348h60v12h-60zM588 348h60v12h-60zM372 360h72v12h-72zM372 372h84v12h-84zM360 384h108v12h-108zM372 396h96v12h-96zM372 408h84v12h-84zM372 420h60v12h-60z"/><path fill="#6ef4f8" d="M408 12h24v12h-24zM408 24h12v12h-12zM408 36h12v12h-12zM396 48h24v12h-24zM396 60h12v12h-12zM384 84h12v12h-12zM384 96h12v12h-12zM384 108h12v12h-12zM384 168h12v12h-12zM384 180h12v12h-12zM384 192h12v12h-12zM396 252h12v12h-12zM396 264h12v12h-12zM408 276h24v12h-24zM420 288h24v12h-24zM432 300h12v12h-12zM432 312h12v12h-12zM432 324h12v12h-12zM588 324h72v12h-72zM432 336h24v12h-24zM564 336h96v12h-96zM444 348h12v12h-12zM564 348h24v12h-24zM444 360h24v12h-24zM456 372h24v12h-24zM468 384h12v12h-12z"/><path fill="#77f4f1" d="M420 24h12v12h-12zM420 36h12v12h-12zM408 60h12v12h-12zM396 72h12v12h-12zM396 84h12v12h-12zM396 228h12v12h-12zM396 240h12v12h-12zM408 264h12v12h-12zM432 276h12v12h-12zM444 288h12v12h-12zM444 300h12v12h-12zM444 312h12v12h-12zM444 324h12v12h-12zM564 324h24v12h-24zM660 324h12v12h-12zM456 336h12v12h-12zM552 336h12v12h-12zM456 348h12v12h-12zM552 348h12v12h-12zM468 360h12v12h-12zM480 384h12v12h-12z"/><path fill="#7ff5ea" d="M432 12h12v12h-12zM432 24h12v12h-12zM420 48h12v12h-12zM408 72h12v12h-12zM396 96h12v12h-12zM396 108h12v12h-12zM396 120h12v12h-12zM396 132h12v12h-12zM396 144h12v12h-12zM396 156h12v12h-12zM396 204h12v12h-12zM396 216h12v12h-12zM408 252h12v12h-12zM420 264h12v12h-12zM444 276h12v12h-12zM456 300h12v12h-12zM456 312h12v12h-12zM552 312h120v12h-120zM456 324h12v12h-12zM540 324h24v12h-24zM468 336h12v12h-12zM540 336h12v12h-12zM468 348h12v12h-12zM540 348h12v12h-12zM480 360h12v12h-12zM480 372h12v12h-12z"/><path fill="#88f5e3" d="M432 36h12v12h-12zM432 48h12v12h-12zM420 60h12v12h-12zM408 84h12v12h-12zM396 168h12v12h-12zM396 180h12v12h-12zM396 192h12v12h-12zM408 240h12v12h-12zM420 252h12v12h-12zM432 264h12v12h-12zM456 288h12v12h-12zM468 300h12v12h-12zM468 312h12v12h-12zM528 312h24v12h-24zM468 324h24v12h-24zM528 324h12v12h-12zM480 336h12v12h-12zM516 336h24v12h-24zM480 348h12v12h-12zM516 348h24v12h-24zM492 360h12v12h-12zM516 360h12v12h-12zM492 372h12v12h-12z"/><path fill="#90f6dc" d="M420 72h12v12h-12zM408 96h12v12h-12zM408 108h12v12h-12zM408 228h12v12h-12zM444 264h12v12h-12zM456 276h12v12h-12zM468 288h24v12h-24zM480 300h168v12h-168zM480 312h48v12h-48zM492 324h36v12h-36zM492 336h24v12h-24zM492 348h24v12h-24zM504 360h12v12h-12z"/><path fill="#98f7d6" d="M444 12h12v12h-12zM444 24h12v12h-12zM444 36h12v12h-12zM432 60h12v12h-12zM420 84h12v12h-12zM408 120h12v12h-12zM408 132h12v12h-12zM408 144h12v12h-12zM408 216h12v12h-12zM420 240h12v12h-12zM432 252h12v12h-12zM456 264h12v12h-12zM468 276h12v12h-12zM492 288h60v12h-60zM648 300h12v12h-12z"/><path fill="#a1f7cf" d="M444 48h12v12h-12zM432 72h12v12h-12zM420 96h12v12h-12zM408 156h12v12h-12zM408 168h12v12h-12zM408 180h12v12h-12zM408 192h12v12h-12zM408 204h12v12h-12zM420 228h12v12h-12zM444 252h12v12h-12zM480 276h36v12h-36zM552 288h72v12h-72zM660 300h12v12h-12z"/><path fill="#a9f8c8" d="M444 60h12v12h-12zM420 108h12v12h-12zM420 120h12v12h-12zM432 240h12v12h-12zM468 264h12v12h-12zM516 276h36v12h-36zM624 288h24v12h-24zM672 300h12v12h-12z"/><path fill="#b2f8c1" d="M456 12h12v12h-12zM456 24h12v12h-12zM432 84h12v12h-12zM420 132h12v12h-12zM420 144h12v12h-12zM420 216h12v12h-12zM456 252h12v12h-12zM480 264h12v12h-12zM552 276h24v12h-24zM648 288h12v12h-12z"/><path fill="#baf9ba" d="M456 36h12v12h-12zM456 48h12v12h-12zM444 72h12v12h-12zM432 96h12v12h-12zM420 156h12v12h-12zM420 168h12v12h-12zM420 180h12v12h-12zM420 192h12v12h-12zM420 204h12v12h-12zM432 228h12v12h-12zM444 240h12v12h-12zM492 264h36v12h-36zM576 276h48v12h-48z"/><path fill="#c1f9b2" d="M624 0h24v12h-24zM636 12h12v12h-12zM456 60h12v12h-12zM444 84h12v12h-12zM432 108h12v12h-12zM432 120h12v12h-12zM432 216h12v12h-12zM468 252h12v12h-12zM528 264h24v12h-24zM624 276h12v12h-12z"/><path fill="#c8f9a9" d="M612 0h12v12h-12zM468 12h12v12h-12zM612 12h24v12h-24zM648 12h12v12h-12zM468 24h12v12h-12zM624 24h24v12h-24zM432 132h12v12h-12zM432 144h12v12h-12zM432 204h12v12h-12zM444 228h12v12h-12zM456 240h12v12h-12zM480 252h12v12h-12zM552 264h36v12h-36zM636 276h12v12h-12zM660 288h12v12h-12z"/><path fill="#cff9a1" d="M600 0h12v12h-12zM612 24h12v12h-12zM648 24h12v12h-12zM468 36h12v12h-12zM468 48h12v12h-12zM456 72h12v12h-12zM444 96h12v12h-12zM432 156h12v12h-12zM432 168h12v12h-12zM432 180h12v12h-12zM432 192h12v12h-12zM444 216h12v12h-12zM492 252h12v12h-12zM588 264h24v12h-24z"/><path fill="#d6f998" d="M600 12h12v12h-12zM600 24h12v12h-12zM660 24h12v12h-12zM612 36h36v12h-36zM468 60h12v12h-12zM456 84h12v12h-12zM444 108h12v12h-12zM444 120h12v12h-12zM456 228h12v12h-12zM468 240h12v12h-12zM504 252h36v12h-36zM612 264h12v12h-12zM648 276h12v12h-12z"/><path fill="#dcf990" d="M588 0h12v12h-12zM480 12h12v12h-12zM588 12h12v12h-12zM480 24h12v12h-12zM480 36h12v12h-12zM648 36h12v12h-12zM444 132h12v12h-12zM444 144h12v12h-12zM444 156h12v12h-12zM444 192h12v12h-12zM444 204h12v12h-12zM480 240h12v12h-12zM540 252h48v12h-48zM624 264h12v12h-12zM672 288h12v12h-12z"/><path fill="#e3f988" d="M588 24h12v12h-12zM600 36h12v12h-12zM480 48h12v12h-12zM468 72h12v12h-12zM456 96h12v12h-12zM444 168h12v12h-12zM444 180h12v12h-12zM456 216h12v12h-12zM468 228h12v12h-12zM492 240h12v12h-12zM588 252h12v12h-12zM636 264h12v12h-12z"/><path fill="#eaf97f" d="M492 0h12v12h-12zM576 0h12v12h-12zM492 12h12v12h-12zM576 12h12v12h-12zM492 24h12v12h-12zM492 36h12v12h-12zM588 36h12v12h-12zM660 36h12v12h-12zM612 48h24v12h-24zM480 60h12v12h-12zM468 84h12v12h-12zM456 108h12v12h-12zM456 120h12v12h-12zM456 192h12v12h-12zM456 204h12v12h-12zM504 240h12v12h-12zM600 252h24v12h-24zM660 276h12v12h-12z"/><path fill="#f1f977" d="M504 -12h12v12h-12zM504 0h12v12h-12zM504 12h12v12h-12zM504 24h12v12h-12zM576 24h12v12h-12zM492 48h12v12h-12zM600 48h12v12h-12zM636 48h12v12h-12zM492 60h12v12h-12zM480 72h12v12h-12zM468 96h12v12h-12zM456 132h12v12h-12zM456 144h12v12h-12zM456 156h12v12h-12zM456 168h12v12h-12zM456 180h12v12h-12zM468 216h12v12h-12zM480 228h12v12h-12zM516 240h72v12h-72zM648 264h12v12h-12z"/><path fill="#f8f96e" d="M516 -12h12v12h-12zM516 0h12v12h-12zM552 0h24v12h-24zM516 12h12v12h-12zM564 12h12v12h-12zM516 24h12v12h-12zM564 24h12v12h-12zM504 36h12v12h-12zM576 36h12v12h-12zM504 48h12v12h-12zM588 48h12v12h-12zM648 48h12v12h-12zM480 84h12v12h-12zM468 108h12v12h-12zM468 192h12v12h-12zM468 204h12v12h-12zM480 216h12v12h-12zM492 228h12v12h-12zM588 240h12v12h-12zM624 252h12v12h-12z"/><path fill="#fff966" d="M528 0h24v12h-24zM528 12h36v12h-36zM528 24h36v12h-36zM516 36h24v12h-24zM564 36h12v12h-12zM672 36h12v12h-12zM516 48h12v12h-12zM504 60h12v12h-12zM492 72h12v12h-12zM480 96h12v12h-12zM468 120h12v12h-12zM468 168h12v12h-12zM468 180h12v12h-12zM480 204h12v12h-12zM504 228h12v12h-12zM552 228h24v12h-24zM600 240h12v12h-12zM636 252h12v12h-12zM672 276h12v12h-12z"/><path fill="#fff366" d="M540 36h24v12h-24zM528 48h12v12h-12zM564 48h24v12h-24zM660 48h12v12h-12zM516 60h12v12h-12zM612 60h24v12h-24zM504 72h12v12h-12zM492 84h12v12h-12zM480 108h12v12h-12zM468 132h12v12h-12zM468 144h12v12h-12zM468 156h12v12h-12zM480 180h12v12h-12zM480 192h12v12h-12zM492 216h12v12h-12zM516 228h36v12h-36zM576 228h12v12h-12zM612 240h12v12h-12zM660 264h12v12h-12z"/><path fill="#ffec66" d="M540 48h24v12h-24zM672 48h12v12h-12zM528 60h12v12h-12zM600 60h12v12h-12zM636 60h12v12h-12zM504 84h12v12h-12zM492 96h12v12h-12zM480 168h12v12h-12zM492 192h12v12h-12zM492 204h12v12h-12zM504 216h12v12h-12zM540 216h36v12h-36zM588 228h24v12h-24zM624 240h12v12h-12zM648 252h12v12h-12zM684 276h12v12h-12z"/><path fill="#ffe666" d="M540 60h12v12h-12zM576 60h24v12h-24zM648 60h12v12h-12zM516 72h12v12h-12zM492 108h12v12h-12zM480 120h12v12h-12zM480 132h12v12h-12zM480 144h12v12h-12zM480 156h12v12h-12zM492 180h12v12h-12zM504 192h12v12h-12zM504 204h12v12h-12zM516 216h24v12h-24zM576 216h24v12h-24zM612 228h12v12h-12zM636 240h12v12h-12zM660 252h12v12h-12zM672 264h12v12h-12z"/><path fill="#ffe066" d="M684 48h12v12h-12zM552 60h24v12h-24zM660 60h24v12h-24zM528 72h12v12h-12zM516 84h12v12h-12zM504 96h12v12h-12zM492 120h12v12h-12zM492 156h12v12h-12zM492 168h12v12h-12zM504 180h12v12h-12zM516 192h12v12h-12zM516 204h72v12h-72zM600 216h12v12h-12zM624 228h12v12h-12zM648 240h12v12h-12zM672 252h12v12h-12zM684 264h12v12h-12z"/><path fill="#ffda66" d="M684 60h12v12h-12zM540 72h12v12h-12zM660 72h48v12h-48zM528 84h12v12h-12zM516 96h12v12h-12zM504 108h12v12h-12zM492 132h12v12h-12zM492 144h12v12h-12zM504 168h12v12h-12zM516 180h24v12h-24zM528 192h60v12h-60zM588 204h12v12h-12zM612 216h12v12h-12zM636 228h24v12h-24zM660 240h48v12h-48zM684 252h24v12h-24z"/><path fill="#ffd366" d="M552 72h12v12h-12zM612 72h48v12h-48zM672 84h36v12h-36zM684 96h36v12h-36zM516 108h12v12h-12zM504 120h12v12h-12zM504 132h12v12h-12zM504 144h12v12h-12zM504 156h12v12h-12zM516 168h24v12h-24zM540 180h36v12h-36zM588 192h12v12h-12zM600 204h12v12h-12zM624 216h36v12h-36zM660 228h48v12h-48z"/><path fill="#ffcd66" d="M564 72h48v12h-48zM540 84h12v12h-12zM648 84h24v12h-24zM528 96h12v12h-12zM660 96h24v12h-24zM684 108h36v12h-36zM516 120h12v12h-12zM516 144h12v12h-12zM516 156h24v12h-24zM540 168h36v12h-36zM576 180h24v12h-24zM600 192h12v12h-12zM612 204h36v12h-36zM660 216h48v12h-48z"/><path fill="#ffc766" d="M540 96h12v12h-12zM528 108h12v12h-12zM660 108h24v12h-24zM528 120h12v12h-12zM672 120h48v12h-48zM516 132h12v12h-12zM528 144h12v12h-12zM540 156h36v12h-36zM576 168h24v12h-24zM600 180h12v12h-12zM612 192h24v12h-24zM648 204h72v12h-72z"/><path fill="#ffc066" d="M552 84h12v12h-12zM636 84h12v12h-12zM648 96h12v12h-12zM540 108h12v12h-12zM648 108h12v12h-12zM540 120h12v12h-12zM660 120h12v12h-12zM528 132h24v12h-24zM660 132h60v12h-60zM540 144h36v12h-36zM576 156h24v12h-24zM600 168h24v12h-24zM612 180h108v12h-108zM636 192h84v12h-84z"/><path fill="#ffba66" d="M564 84h12v12h-12zM624 84h12v12h-12zM552 96h12v12h-12zM636 96h12v12h-12zM552 120h12v12h-12zM648 120h12v12h-12zM552 132h24v12h-24zM636 132h24v12h-24zM576 144h144v12h-144zM600 156h120v12h-120zM624 168h96v12h-96z"/><path fill="#feb266" d="M576 84h48v12h-48zM564 96h12v12h-12zM552 108h12v12h-12zM636 108h12v12h-12zM564 120h12v12h-12zM636 120h12v12h-12zM576 132h60v12h-60z"/><path fill="#fda966" d="M576 96h12v12h-12zM624 96h12v12h-12zM564 108h12v12h-12zM624 108h12v12h-12zM576 120h24v12h-24zM612 120h24v12h-24z"/><path fill="#fba166" d="M588 96h36v12h-36zM576 108h24v12h-24zM612 108h12v12h-12zM600 120h12v12h-12z"/><path fill="#fa9866" d="M600 108h12v12h-12z"/></g></g><g clip-path="url(#cs)"><g filter="url(#bl)"><path fill="#6c75e4" d="M84 612h12v12h-12zM72 624h24v12h-24zM84 636h24v12h-24zM84 648h12v12h-12zM84 660h12v12h-12z"/><path fill="#6d79e6" d="M84 600h24v12h-24zM96 612h24v12h-24zM96 624h24v12h-24zM108 636h12v12h-12zM96 648h24v12h-24zM96 660h24v12h-24zM96 672h12v12h-12z"/><path fill="#6d7de8" d="M96 588h12v12h-12zM108 600h12v12h-12zM120 612h12v12h-12zM120 624h12v12h-12zM120 636h12v12h-12zM120 648h12v12h-12zM120 660h12v12h-12zM108 672h12v12h-12z"/><path fill="#6e81ea" d="M108 576h12v12h-12zM108 588h12v12h-12zM120 600h12v12h-12zM132 612h12v12h-12zM132 624h12v12h-12zM132 636h12v12h-12zM132 648h12v12h-12zM132 660h12v12h-12zM120 672h12v12h-12zM108 684h12v12h-12z"/><path fill="#6e85ec" d="M120 576h12v12h-12zM120 588h24v12h-24zM132 600h24v12h-24zM144 612h12v12h-12zM144 624h24v12h-24zM144 636h24v12h-24zM144 648h24v12h-24zM144 660h12v12h-12zM132 672h24v12h-24zM120 684h24v12h-24zM120 696h12v12h-12z"/><path fill="#6f88ee" d="M228 504h24v12h-24zM204 516h48v12h-48zM180 528h72v12h-72zM156 540h96v12h-96zM144 552h108v12h-108zM132 564h120v12h-120zM132 576h120v12h-120zM144 588h108v12h-108zM156 600h96v12h-96zM156 612h96v12h-96zM168 624h84v12h-84zM168 636h84v12h-84zM168 648h84v12h-84zM156 660h96v12h-96zM156 672h96v12h-96zM144 684h108v12h-108zM132 696h120v12h-120zM132 708h108v12h-108zM144 720h96v12h-96zM144 732h72v12h-72zM156 744h48v12h-48zM168 756h24v12h-24z"/><path fill="#708cf1" d="M252 492h12v12h-12zM252 504h12v12h-12zM252 516h12v12h-12zM252 528h12v12h-12zM252 540h12v12h-12zM252 552h12v12h-12zM252 564h12v12h-12zM252 576h12v12h-12zM252 588h12v12h-12zM252 600h12v12h-12zM252 612h12v12h-12zM252 624h12v12h-12zM252 636h12v12h-12zM252 648h12v12h-12zM252 660h12v12h-12zM252 672h12v12h-12zM252 684h12v12h-12zM252 696h12v12h-12zM240 708h24v12h-24zM240 720h24v12h-24zM216 732h36v12h-36zM204 744h24v12h-24zM192 756h24v12h-24zM180 768h12v12h-12z"/><path fill="#7090f3" d="M264 504h12v12h-12zM264 516h12v12h-12zM264 528h12v12h-12zM264 540h12v12h-12zM264 552h12v12h-12zM264 564h12v12h-12zM264 576h12v12h-12zM264 588h12v12h-12zM264 600h12v12h-12zM264 612h12v12h-12zM264 624h12v12h-12zM264 636h12v12h-12zM264 648h12v12h-12zM264 660h12v12h-12zM264 672h12v12h-12zM264 684h12v12h-12zM264 696h12v12h-12zM264 708h12v12h-12zM264 720h12v12h-12zM252 732h12v12h-12zM228 744h24v12h-24zM216 756h12v12h-12zM192 768h12v12h-12z"/><path fill="#7194f5" d="M264 492h12v12h-12zM276 528h12v12h-12zM276 540h12v12h-12zM276 552h12v12h-12zM276 564h12v12h-12zM276 576h12v12h-12zM276 588h12v12h-12zM276 600h12v12h-12zM276 612h12v12h-12zM276 624h12v12h-12zM276 636h12v12h-12zM276 648h12v12h-12zM276 660h12v12h-12zM276 672h12v12h-12zM276 684h12v12h-12zM276 696h12v12h-12zM276 708h12v12h-12zM264 732h12v12h-12zM252 744h12v12h-12zM228 756h12v12h-12zM204 768h12v12h-12zM192 780h12v12h-12z"/><path fill="#7198f7" d="M276 504h12v12h-12zM276 516h12v12h-12zM288 552h12v12h-12zM288 564h12v12h-12zM288 576h12v12h-12zM288 588h12v12h-12zM288 600h12v12h-12zM288 612h12v12h-12zM288 624h12v12h-12zM288 636h12v12h-12zM288 648h12v12h-12zM288 660h12v12h-12zM288 672h12v12h-12zM288 684h12v12h-12zM288 696h12v12h-12zM288 708h12v12h-12zM276 720h12v12h-12zM276 732h12v12h-12zM264 744h12v12h-12zM240 756h24v12h-24zM216 768h24v12h-24zM204 780h12v12h-12z"/><path fill="#729cf9" d="M276 492h12v12h-12zM288 516h12v12h-12zM288 528h12v12h-12zM288 540h12v12h-12zM300 564h12v12h-12zM300 576h12v12h-12zM300 588h24v12h-24zM300 600h36v12h-36zM300 612h36v12h-36zM300 624h36v12h-36zM300 636h36v12h-36zM300 648h36v12h-36zM300 660h36v12h-36zM300 672h36v12h-36zM300 684h24v12h-24zM300 696h12v12h-12zM300 708h12v12h-12zM288 720h12v12h-12zM276 744h12v12h-12zM264 756h12v12h-12zM240 768h12v12h-12zM216 780h12v12h-12z"/><path fill="#71a5fa" d="M288 504h12v12h-12zM300 528h12v12h-12zM300 540h12v12h-12zM300 552h12v12h-12zM312 564h12v12h-12zM312 576h24v12h-24zM324 588h24v12h-24zM336 600h12v12h-12zM336 612h12v12h-12zM336 624h24v12h-24zM336 636h24v12h-24zM336 648h24v12h-24zM336 660h12v12h-12zM336 672h12v12h-12zM324 684h24v12h-24zM312 696h24v12h-24zM312 708h12v12h-12zM300 720h12v12h-12zM288 732h12v12h-12zM252 768h12v12h-12zM228 780h24v12h-24zM204 792h12v12h-12z"/><path fill="#70adfa" d="M288 492h12v12h-12zM300 516h12v12h-12zM312 540h12v12h-12zM312 552h12v12h-12zM324 564h12v12h-12zM336 576h12v12h-12zM348 588h12v12h-12zM348 600h12v12h-12zM348 612h12v12h-12zM348 660h12v12h-12zM348 672h12v12h-12zM348 684h12v12h-12zM336 696h12v12h-12zM324 708h12v12h-12zM312 720h12v12h-12zM300 732h12v12h-12zM288 744h12v12h-12zM276 756h12v12h-12zM264 768h12v12h-12zM252 780h12v12h-12zM216 792h24v12h-24z"/><path fill="#6eb6fb" d="M288 480h12v12h-12zM300 504h12v12h-12zM312 516h12v12h-12zM312 528h12v12h-12zM324 540h12v12h-12zM324 552h12v12h-12zM336 564h12v12h-12zM348 576h12v12h-12zM360 588h12v12h-12zM360 600h12v12h-12zM360 612h12v12h-12zM360 624h12v12h-12zM360 636h12v12h-12zM360 648h12v12h-12zM360 660h12v12h-12zM360 672h12v12h-12zM360 684h12v12h-12zM348 696h12v12h-12zM336 708h12v12h-12zM324 720h12v12h-12zM312 732h12v12h-12zM300 744h12v12h-12zM288 756h12v12h-12zM276 768h12v12h-12zM264 780h12v12h-12zM240 792h24v12h-24zM204 804h36v12h-36z"/><path fill="#6dbffb" d="M300 480h12v12h-12zM300 492h24v12h-24zM312 504h12v12h-12zM324 516h12v12h-12zM324 528h12v12h-12zM336 540h12v12h-12zM336 552h12v12h-12zM348 564h12v12h-12zM360 576h12v12h-12zM372 600h12v12h-12zM372 612h12v12h-12zM372 624h12v12h-12zM372 636h12v12h-12zM372 648h12v12h-12zM372 660h12v12h-12zM372 672h12v12h-12zM360 696h12v12h-12zM348 708h12v12h-12zM336 720h12v12h-12zM324 732h12v12h-12zM312 744h12v12h-12zM300 756h12v12h-12zM288 768h12v12h-12zM276 780h12v12h-12zM264 792h12v12h-12zM240 804h24v12h-24zM216 816h24v12h-24z"/><path fill="#6cc8fc" d="M312 468h24v12h-24zM312 480h24v12h-24zM324 492h12v12h-12zM324 504h12v12h-12zM336 516h12v12h-12zM336 528h12v12h-12zM348 552h12v12h-12zM360 564h12v12h-12zM372 576h12v12h-12zM372 588h12v12h-12zM384 600h12v12h-12zM384 612h12v12h-12zM384 624h12v12h-12zM384 636h12v12h-12zM384 648h12v12h-12zM384 660h12v12h-12zM384 672h12v12h-12zM372 684h12v12h-12zM360 708h12v12h-12zM348 720h12v12h-12zM336 732h12v12h-12zM324 744h12v12h-12zM312 756h12v12h-12zM300 768h12v12h-12zM288 780h12v12h-12zM276 792h12v12h-12zM264 804h12v12h-12zM240 816h24v12h-24zM216 828h36v12h-36zM228 840h12v12h-12z"/><path fill="#6bd0fd" d="M336 456h24v12h-24zM336 468h24v12h-24zM336 480h24v12h-24zM336 492h24v12h-24zM336 504h24v12h-24zM348 516h12v12h-12zM348 528h12v12h-12zM348 540h12v12h-12zM360 552h12v12h-12zM372 564h12v12h-12zM384 588h12v12h-12zM396 612h12v12h-12zM396 624h12v12h-12zM396 636h12v12h-12zM396 648h12v12h-12zM396 660h12v12h-12zM384 684h12v12h-12zM372 696h12v12h-12zM348 732h12v12h-12zM336 744h12v12h-12zM324 756h12v12h-12zM312 768h12v12h-12zM300 780h12v12h-12zM288 792h12v12h-12zM276 804h12v12h-12zM264 816h12v12h-12zM252 828h12v12h-12zM240 840h12v12h-12zM228 852h24v12h-24z"/><path fill="#6ad9fd" d="M360 456h12v12h-12zM360 468h12v12h-12zM360 480h12v12h-12zM360 492h12v12h-12zM360 504h12v12h-12zM360 516h12v12h-12zM360 528h12v12h-12zM360 540h12v12h-12zM372 552h12v12h-12zM384 564h12v12h-12zM384 576h12v12h-12zM396 588h12v12h-12zM396 600h12v12h-12zM396 672h12v12h-12zM396 684h12v12h-12zM384 696h12v12h-12zM372 708h12v12h-12zM360 720h12v12h-12zM360 732h12v12h-12zM348 744h12v12h-12zM336 756h12v12h-12zM324 768h12v12h-12zM312 780h12v12h-12zM300 792h12v12h-12zM288 804h12v12h-12zM276 816h12v12h-12zM264 828h12v12h-12zM252 840h12v12h-12zM252 852h12v12h-12zM240 864h12v12h-12z"/><path fill="#68e2fe" d="M372 456h12v12h-12zM372 468h12v12h-12zM372 480h12v12h-12zM372 492h12v12h-12zM372 504h12v12h-12zM372 516h12v12h-12zM372 528h12v12h-12zM372 540h12v12h-12zM384 552h12v12h-12zM396 564h12v12h-12zM396 576h12v12h-12zM408 588h12v12h-12zM408 600h12v12h-12zM408 612h12v12h-12zM408 624h12v12h-12zM408 636h12v12h-12zM408 648h12v12h-12zM408 660h12v12h-12zM408 672h12v12h-12zM396 696h12v12h-12zM384 708h12v12h-12zM372 720h12v12h-12zM360 744h12v12h-12zM348 756h12v12h-12zM336 768h12v12h-12zM324 780h12v12h-12zM312 792h12v12h-12zM300 804h12v12h-12zM288 816h12v12h-12zM276 828h12v12h-12zM264 840h12v12h-12zM264 852h12v12h-12zM252 864h12v12h-12z"/><path fill="#67eafe" d="M384 444h12v12h-12zM384 456h12v12h-12zM384 468h12v12h-12zM384 480h12v12h-12zM384 492h12v12h-12zM384 504h12v12h-12zM384 516h12v12h-12zM384 528h12v12h-12zM384 540h24v12h-24zM396 552h24v12h-24zM408 564h12v12h-12zM408 576h24v12h-24zM420 588h12v12h-12zM420 600h12v12h-12zM420 612h12v12h-12zM420 624h12v12h-12zM420 636h12v12h-12zM420 648h12v12h-12zM420 660h12v12h-12zM420 672h12v12h-12zM408 684h12v12h-12zM396 708h12v12h-12zM384 720h12v12h-12zM372 732h12v12h-12zM372 744h12v12h-12zM360 756h12v12h-12zM348 768h24v12h-24zM336 780h24v12h-24zM324 792h24v12h-24zM312 804h24v12h-24zM300 816h24v12h-24zM288 828h24v12h-24zM276 840h24v12h-24zM276 852h12v12h-12zM264 864h12v12h-12zM252 876h24v12h-24zM252 888h12v12h-12z"/><path fill="#66f3ff" d="M396 444h36v12h-36zM396 456h84v12h-84zM396 468h96v12h-96zM396 480h96v12h-96zM396 492h72v12h-72zM396 504h60v12h-60zM396 516h48v12h-48zM396 528h36v12h-36zM408 540h24v12h-24zM420 552h12v12h-12zM420 564h12v12h-12zM432 588h12v12h-12zM432 600h12v12h-12zM432 612h12v12h-12zM432 624h12v12h-12zM432 636h24v12h-24zM432 648h12v12h-12zM432 660h12v12h-12zM432 672h12v12h-12zM420 684h12v12h-12zM408 696h12v12h-12zM396 720h12v12h-12zM384 732h12v12h-12zM384 744h12v12h-12zM372 756h24v12h-24zM372 768h12v12h-12zM360 780h24v12h-24zM348 792h36v12h-36zM336 804h48v12h-48zM324 816h60v12h-60zM312 828h72v12h-72zM300 840h84v12h-84zM288 852h96v12h-96zM276 864h108v12h-108zM276 876h108v12h-108zM264 888h108v12h-108zM276 900h12v12h-12z"/><path fill="#6ef4f8" d="M492 480h24v12h-24zM468 492h24v12h-24zM456 504h24v12h-24zM444 516h24v12h-24zM432 528h24v12h-24zM432 540h24v12h-24zM432 552h12v12h-12zM432 564h12v12h-12zM432 576h12v12h-12zM444 588h12v12h-12zM444 600h12v12h-12zM444 612h12v12h-12zM444 624h24v12h-24zM456 636h12v12h-12zM444 648h24v12h-24zM444 660h12v12h-12zM432 684h12v12h-12zM420 696h12v12h-12zM408 708h12v12h-12zM396 732h12v12h-12zM396 744h12v12h-12zM396 756h12v12h-12zM384 768h12v12h-12zM384 780h12v12h-12zM384 792h12v12h-12zM384 804h12v12h-12zM384 816h12v12h-12zM384 828h12v12h-12zM384 840h12v12h-12zM384 852h12v12h-12zM384 864h12v12h-12zM384 876h12v12h-12zM384 888h12v12h-12z"/><path fill="#77f4f1" d="M492 492h12v12h-12zM480 504h12v12h-12zM468 516h12v12h-12zM456 528h12v12h-12zM444 552h12v12h-12zM444 564h12v12h-12zM444 576h12v12h-12zM456 600h12v12h-12zM456 612h12v12h-12zM468 624h12v12h-12zM468 636h12v12h-12zM468 648h12v12h-12zM456 660h12v12h-12zM444 672h12v12h-12zM444 684h12v12h-12zM432 696h12v12h-12zM420 708h12v12h-12zM408 720h12v12h-12zM408 732h12v12h-12zM396 768h12v12h-12zM396 780h12v12h-12zM396 792h12v12h-12zM396 804h12v12h-12zM396 816h12v12h-12zM396 828h12v12h-12zM396 840h12v12h-12zM396 852h12v12h-12zM396 864h12v12h-12zM396 876h12v12h-12zM396 888h12v12h-12z"/><path fill="#7ff5ea" d="M504 492h12v12h-12zM492 504h12v12h-12zM480 516h12v12h-12zM468 528h12v12h-12zM456 540h12v12h-12zM456 552h12v12h-12zM456 564h12v12h-12zM456 576h12v12h-12zM456 588h12v12h-12zM468 600h12v12h-12zM468 612h12v12h-12zM480 636h12v12h-12zM468 660h12v12h-12zM456 672h12v12h-12zM444 696h12v12h-12zM432 708h12v12h-12zM420 720h12v12h-12zM408 744h12v12h-12zM408 756h12v12h-12zM408 768h12v12h-12zM408 780h12v12h-12zM408 792h12v12h-12zM408 804h12v12h-12zM408 816h12v12h-12zM408 828h12v12h-12zM408 840h12v12h-12zM408 852h12v12h-12zM408 864h12v12h-12zM408 876h12v12h-12zM408 888h12v12h-12z"/><path fill="#88f5e3" d="M480 528h12v12h-12zM468 540h12v12h-12zM468 552h12v12h-12zM468 564h12v12h-12zM468 576h12v12h-12zM468 588h12v12h-12zM480 612h12v12h-12zM480 624h12v12h-12zM480 648h12v12h-12zM480 660h12v12h-12zM468 672h12v12h-12zM456 684h12v12h-12zM432 720h12v12h-12zM420 732h12v12h-12zM420 744h12v12h-12zM420 756h12v12h-12zM420 768h12v12h-12zM420 780h12v12h-12zM420 792h12v12h-12zM420 804h12v12h-12zM420 816h12v12h-12zM420 828h12v12h-12zM420 840h12v12h-12zM420 852h12v12h-12zM420 864h24v12h-24zM420 876h24v12h-24zM420 888h24v12h-24z"/><path fill="#90f6dc" d="M516 492h12v12h-12zM504 504h12v12h-12zM492 516h12v12h-12zM480 540h12v12h-12zM480 588h12v12h-12zM480 600h12v12h-12zM492 624h12v12h-12zM492 636h12v12h-12zM492 648h12v12h-12zM480 672h12v12h-12zM468 684h12v12h-12zM456 696h12v12h-12zM444 708h12v12h-12zM444 720h12v12h-12zM432 732h12v12h-12zM432 744h12v12h-12zM432 756h12v12h-12zM432 768h12v12h-12zM432 780h12v12h-12zM432 792h12v12h-12zM432 804h12v12h-12zM432 816h12v12h-12zM432 828h12v12h-12zM432 840h12v12h-12zM432 852h24v12h-24zM444 864h12v12h-12zM444 876h24v12h-24zM444 888h24v12h-24z"/><path fill="#98f7d6" d="M492 528h12v12h-12zM480 552h12v12h-12zM480 564h12v12h-12zM480 576h12v12h-12zM492 600h12v12h-12zM492 612h12v12h-12zM492 660h12v12h-12zM480 684h12v12h-12zM468 696h12v12h-12zM456 708h12v12h-12zM444 732h12v12h-12zM444 744h12v12h-12zM444 816h12v12h-12zM444 828h12v12h-12zM444 840h12v12h-12zM456 852h12v12h-12zM456 864h12v12h-12zM468 876h12v12h-12zM468 888h12v12h-12z"/><path fill="#a1f7cf" d="M516 504h12v12h-12zM504 516h12v12h-12zM492 540h12v12h-12zM492 588h12v12h-12zM492 672h12v12h-12zM480 696h12v12h-12zM468 708h12v12h-12zM456 720h12v12h-12zM456 732h12v12h-12zM444 756h12v12h-12zM444 768h12v12h-12zM444 780h12v12h-12zM444 792h12v12h-12zM444 804h12v12h-12zM456 840h12v12h-12zM468 864h12v12h-12zM480 888h12v12h-12z"/><path fill="#a9f8c8" d="M492 552h12v12h-12zM492 564h12v12h-12zM492 576h12v12h-12zM504 600h12v12h-12zM504 612h12v12h-12zM504 624h12v12h-12zM504 636h12v12h-12zM504 648h12v12h-12zM504 660h12v12h-12zM492 684h12v12h-12zM480 708h12v12h-12zM468 720h12v12h-12zM456 744h12v12h-12zM456 756h12v12h-12zM456 768h12v12h-12zM456 780h12v12h-12zM456 792h12v12h-12zM456 804h12v12h-12zM456 816h12v12h-12zM456 828h12v12h-12zM468 852h12v12h-12zM480 876h12v12h-12z"/><path fill="#b2f8c1" d="M504 528h12v12h-12zM504 576h12v12h-12zM504 588h12v12h-12zM504 672h12v12h-12zM504 684h12v12h-12zM492 696h12v12h-12zM480 720h12v12h-12zM468 732h12v12h-12zM468 744h12v12h-12zM468 756h12v12h-12zM468 768h12v12h-12zM468 780h12v12h-12zM468 792h12v12h-12zM468 804h12v12h-12zM468 816h12v12h-12zM468 828h12v12h-12zM468 840h12v12h-12zM480 864h12v12h-12z"/><path fill="#baf9ba" d="M528 504h12v12h-12zM516 516h12v12h-12zM504 540h12v12h-12zM504 552h12v12h-12zM504 564h12v12h-12zM516 612h12v12h-12zM516 624h12v12h-12zM516 636h12v12h-12zM516 648h12v12h-12zM516 660h12v12h-12zM516 672h12v12h-12zM504 696h12v12h-12zM492 708h12v12h-12zM480 732h12v12h-12zM480 744h12v12h-12zM480 828h12v12h-12zM480 840h12v12h-12zM480 852h12v12h-12zM492 876h12v12h-12z"/><path fill="#c1f9b2" d="M516 528h12v12h-12zM516 576h12v12h-12zM516 588h12v12h-12zM516 600h12v12h-12zM516 684h12v12h-12zM504 708h12v12h-12zM492 720h12v12h-12zM492 732h12v12h-12zM480 756h12v12h-12zM480 768h12v12h-12zM480 780h12v12h-12zM480 792h12v12h-12zM480 804h12v12h-12zM480 816h12v12h-12zM492 852h12v12h-12zM492 864h12v12h-12z"/><path fill="#c8f9a9" d="M528 516h12v12h-12zM516 540h12v12h-12zM516 552h12v12h-12zM516 564h12v12h-12zM516 696h12v12h-12zM504 720h12v12h-12zM492 744h12v12h-12zM492 756h12v12h-12zM492 768h12v12h-12zM492 780h12v12h-12zM492 792h12v12h-12zM492 804h12v12h-12zM492 816h12v12h-12zM492 828h12v12h-12zM492 840h12v12h-12zM504 876h12v12h-12z"/><path fill="#cff9a1" d="M528 528h12v12h-12zM528 540h12v12h-12zM528 600h12v12h-12zM528 612h12v12h-12zM528 624h12v12h-12zM528 636h12v12h-12zM528 648h12v12h-12zM528 660h12v12h-12zM528 672h12v12h-12zM528 684h12v12h-12zM516 708h12v12h-12zM504 732h12v12h-12zM504 744h12v12h-12zM504 756h12v12h-12zM504 768h12v12h-12zM504 780h12v12h-12zM504 792h12v12h-12zM504 804h12v12h-12zM504 816h12v12h-12zM504 828h12v12h-12zM504 840h12v12h-12zM504 852h12v12h-12zM504 864h12v12h-12z"/><path fill="#d6f998" d="M540 516h12v12h-12zM540 528h12v12h-12zM528 552h12v12h-12zM528 564h12v12h-12zM528 576h12v12h-12zM528 588h12v12h-12zM528 696h12v12h-12zM528 708h12v12h-12zM516 720h12v12h-12zM516 732h12v12h-12zM516 744h12v12h-12zM516 876h12v12h-12z"/><path fill="#dcf990" d="M552 516h12v12h-12zM540 540h12v12h-12zM540 552h12v12h-12zM540 672h12v12h-12zM540 684h12v12h-12zM528 720h12v12h-12zM516 756h12v12h-12zM516 768h12v12h-12zM516 780h12v12h-12zM516 792h12v12h-12zM516 804h12v12h-12zM516 816h12v12h-12zM516 828h12v12h-12zM516 840h12v12h-12zM516 852h12v12h-12zM516 864h12v12h-12z"/><path fill="#e3f988" d="M552 528h12v12h-12zM540 564h12v12h-12zM540 576h12v12h-12zM540 636h12v12h-12zM540 648h12v12h-12zM540 660h12v12h-12zM540 696h12v12h-12zM540 708h12v12h-12zM528 732h12v12h-12zM528 744h12v12h-12zM528 756h12v12h-12zM528 768h12v12h-12zM528 780h12v12h-12zM528 792h12v12h-12zM528 804h12v12h-12zM528 816h12v12h-12zM528 828h12v12h-12zM528 840h12v12h-12zM528 852h12v12h-12zM528 864h12v12h-12z"/><path fill="#eaf97f" d="M552 540h12v12h-12zM540 588h12v12h-12zM540 600h12v12h-12zM540 612h12v12h-12zM540 624h12v12h-12zM540 720h12v12h-12zM540 732h12v12h-12zM540 744h12v12h-12zM540 756h12v12h-12zM540 768h12v12h-12zM540 780h12v12h-12zM540 792h12v12h-12zM540 804h12v12h-12zM540 816h12v12h-12zM540 828h12v12h-12zM540 840h12v12h-12zM540 852h12v12h-12zM540 864h12v12h-12z"/><path fill="#f1f977" d="M564 528h12v12h-12zM552 552h12v12h-12zM552 672h12v12h-12zM552 684h12v12h-12zM552 696h12v12h-12zM552 708h12v12h-12zM552 720h12v12h-12zM552 732h12v12h-12zM552 792h12v12h-12zM552 804h12v12h-12zM552 816h12v12h-12zM552 828h12v12h-12zM552 840h12v12h-12zM552 852h12v12h-12zM552 864h12v12h-12z"/><path fill="#f8f96e" d="M564 540h12v12h-12zM552 564h12v12h-12zM552 648h12v12h-12zM552 660h12v12h-12zM552 744h12v12h-12zM552 756h12v12h-12zM552 768h12v12h-12zM552 780h12v12h-12zM564 804h12v12h-12zM564 816h12v12h-12zM564 828h12v12h-12zM564 840h12v12h-12zM564 852h12v12h-12z"/><path fill="#fff966" d="M552 576h12v12h-12zM552 588h12v12h-12zM552 600h12v12h-12zM552 612h12v12h-12zM552 624h12v12h-12zM552 636h12v12h-12zM564 684h12v12h-12zM564 696h12v12h-12zM564 708h12v12h-12zM564 720h12v12h-12zM564 732h12v12h-12zM564 744h12v12h-12zM564 756h12v12h-12zM564 768h12v12h-12zM564 780h12v12h-12zM564 792h12v12h-12zM576 804h12v12h-12zM576 816h24v12h-24zM576 828h48v12h-48zM576 840h72v12h-72zM576 852h60v12h-60z"/><path fill="#fff366" d="M564 552h12v12h-12zM564 660h12v12h-12zM564 672h12v12h-12zM576 720h12v12h-12zM576 732h12v12h-12zM576 744h12v12h-12zM576 756h12v12h-12zM576 768h12v12h-12zM576 780h12v12h-12zM576 792h24v12h-24zM588 804h24v12h-24zM600 816h36v12h-36zM624 828h36v12h-36zM648 840h24v12h-24z"/><path fill="#ffec66" d="M564 564h12v12h-12zM564 648h12v12h-12zM576 696h12v12h-12zM576 708h12v12h-12zM588 756h12v12h-12zM588 768h12v12h-12zM588 780h12v12h-12zM600 792h12v12h-12zM612 804h24v12h-24zM636 816h24v12h-24zM660 828h12v12h-12zM672 840h12v12h-12z"/><path fill="#ffe666" d="M576 540h12v12h-12zM564 576h12v12h-12zM564 624h12v12h-12zM564 636h12v12h-12zM576 672h12v12h-12zM576 684h12v12h-12zM588 720h12v12h-12zM588 732h12v12h-12zM588 744h12v12h-12zM600 768h12v12h-12zM600 780h24v12h-24zM612 792h24v12h-24zM636 804h24v12h-24zM660 816h12v12h-12zM672 828h12v12h-12z"/><path fill="#ffe066" d="M564 588h12v12h-12zM564 600h12v12h-12zM564 612h12v12h-12zM576 660h12v12h-12zM588 696h12v12h-12zM588 708h12v12h-12zM600 732h12v12h-12zM600 744h12v12h-12zM600 756h12v12h-12zM612 768h12v12h-12zM624 780h12v12h-12zM636 792h24v12h-24zM660 804h12v12h-12zM672 816h12v12h-12zM684 828h12v12h-12z"/><path fill="#ffda66" d="M576 552h12v12h-12zM576 636h12v12h-12zM576 648h12v12h-12zM588 672h12v12h-12zM588 684h12v12h-12zM600 708h12v12h-12zM600 720h12v12h-12zM612 732h12v12h-12zM612 744h12v12h-12zM612 756h24v12h-24zM624 768h24v12h-24zM636 780h36v12h-36zM660 792h24v12h-24zM672 804h24v12h-24zM684 816h24v12h-24zM696 828h12v12h-12z"/><path fill="#ffd366" d="M576 564h12v12h-12zM576 612h12v12h-12zM576 624h12v12h-12zM588 660h12v12h-12zM600 696h12v12h-12zM612 720h12v12h-12zM624 744h12v12h-12zM636 756h12v12h-12zM648 768h24v12h-24zM672 780h12v12h-12zM684 792h12v12h-12zM696 804h12v12h-12zM708 816h12v12h-12z"/><path fill="#ffcd66" d="M576 576h12v12h-12zM576 588h12v12h-12zM576 600h12v12h-12zM588 636h12v12h-12zM588 648h12v12h-12zM600 684h12v12h-12zM612 708h12v12h-12zM624 720h12v12h-12zM624 732h12v12h-12zM636 744h12v12h-12zM648 756h24v12h-24zM672 768h12v12h-12zM684 780h12v12h-12zM696 792h12v12h-12zM708 804h12v12h-12z"/><path fill="#ffc766" d="M588 540h12v12h-12zM588 624h12v12h-12zM600 660h12v12h-12zM600 672h12v12h-12zM612 696h12v12h-12zM624 708h12v12h-12zM636 732h12v12h-12zM648 744h12v12h-12zM672 756h12v12h-12zM684 768h12v12h-12zM696 780h12v12h-12zM708 792h12v12h-12zM720 804h12v12h-12z"/><path fill="#ffc066" d="M588 552h12v12h-12zM588 564h12v12h-12zM588 576h12v12h-12zM588 588h12v12h-12zM588 600h12v12h-12zM588 612h12v12h-12zM600 636h12v12h-12zM600 648h12v12h-12zM612 672h12v12h-12zM612 684h12v12h-12zM636 720h12v12h-12zM648 732h12v12h-12zM660 744h12v12h-12z"/><path fill="#ffba66" d="M600 612h12v12h-12zM600 624h12v12h-12zM612 648h12v12h-12zM612 660h12v12h-12zM624 684h12v12h-12zM624 696h12v12h-12zM636 708h12v12h-12zM648 720h12v12h-12zM660 732h12v12h-12zM672 744h12v12h-12zM684 756h12v12h-12zM696 768h12v12h-12zM708 780h12v12h-12zM720 792h12v12h-12z"/><path fill="#feb266" d="M600 540h12v12h-12zM600 600h12v12h-12zM612 624h12v12h-12zM612 636h12v12h-12zM624 660h12v12h-12zM624 672h12v12h-12zM636 696h12v12h-12zM648 708h12v12h-12zM660 720h12v12h-12zM672 732h12v12h-12zM684 744h12v12h-12z"/><path fill="#fda966" d="M600 552h12v12h-12zM600 564h12v12h-12zM600 576h12v12h-12zM600 588h12v12h-12zM612 612h12v12h-12zM624 624h12v12h-12zM624 636h12v12h-12zM624 648h12v12h-12zM636 672h12v12h-12zM636 684h12v12h-12zM648 696h12v12h-12zM660 708h12v12h-12zM672 720h12v12h-12zM684 732h12v12h-12zM696 756h12v12h-12zM708 768h12v12h-12zM720 780h12v12h-12z"/><path fill="#fba166" d="M612 564h12v12h-12zM612 576h12v12h-12zM612 588h12v12h-12zM612 600h12v12h-12zM624 612h12v12h-12zM636 624h12v12h-12zM636 636h12v12h-12zM636 648h12v12h-12zM636 660h12v12h-12zM648 684h12v12h-12zM660 696h12v12h-12zM672 708h12v12h-12zM684 720h12v12h-12zM696 732h12v12h-12zM696 744h12v12h-12zM708 756h12v12h-12zM720 768h12v12h-12zM732 780h12v12h-12z"/><path fill="#fa9866" d="M612 552h24v12h-24zM624 564h12v12h-12zM624 576h12v12h-12zM624 588h12v12h-12zM624 600h24v12h-24zM636 612h12v12h-12zM648 624h12v12h-12zM648 636h12v12h-12zM648 648h12v12h-12zM648 660h12v12h-12zM648 672h24v12h-24zM660 684h24v12h-24zM672 696h24v12h-24zM684 708h24v12h-24zM696 720h24v12h-24zM708 732h12v12h-12zM708 744h24v12h-24zM720 756h24v12h-24zM732 768h12v12h-12z"/><path fill="#f99066" d="M636 564h60v12h-60zM636 576h60v12h-60zM636 588h48v12h-48zM648 600h24v12h-24zM648 612h24v12h-24zM660 624h12v12h-12zM660 636h12v12h-12zM660 648h12v12h-12zM660 660h12v12h-12zM672 672h12v12h-12zM684 684h36v12h-36zM696 696h72v12h-72zM708 708h60v12h-60zM720 720h48v12h-48zM720 732h48v12h-48zM732 744h36v12h-36zM744 756h12v12h-12zM744 768h12v12h-12z"/><path fill="#f88866" d="M696 576h12v12h-12zM684 588h12v12h-12zM672 600h24v12h-24zM672 612h12v12h-12zM672 624h12v12h-12zM672 636h12v12h-12zM672 648h12v12h-12zM672 660h24v12h-24zM684 672h84v12h-84zM720 684h48v12h-48z"/><path fill="#f77f66" d="M708 576h12v12h-12zM696 588h12v12h-12zM696 600h12v12h-12zM684 612h12v12h-12zM684 624h12v12h-12zM684 636h12v12h-12zM684 648h24v12h-24zM696 660h72v12h-72z"/><path fill="#f57766" d="M708 588h12v12h-12zM708 600h12v12h-12zM696 612h12v12h-12zM696 624h12v12h-12zM696 636h12v12h-12zM708 648h60v12h-60z"/><path fill="#f46e66" d="M720 588h12v12h-12zM720 600h24v12h-24zM708 612h24v12h-24zM708 624h48v12h-48zM708 636h60v12h-60z"/><path fill="#f36666" d="M732 612h12v12h-12z"/></g></g><g filter="url(#bl2)"><ellipse cx="362.4" cy="682.6" rx="21.7" ry="21.7" fill="#fff" fill-opacity="0.85"/><ellipse cx="457.5" cy="732.4" rx="18.1" ry="18.1" fill="#fff" fill-opacity="0.75"/><ellipse cx="244.7" cy="569.4" rx="10.0" ry="10.0" fill="#fff" fill-opacity="0.60"/><ellipse cx="530.0" cy="202.6" rx="20.4" ry="20.4" fill="#fff" fill-opacity="0.55"/><ellipse cx="597.9" cy="139.2" rx="15.8" ry="15.8" fill="#fff" fill-opacity="0.50"/><ellipse cx="108.9" cy="84.9" rx="24.9" ry="24.9" fill="#fff" fill-opacity="0.35"/><ellipse cx="158.7" cy="130.2" rx="20.4" ry="20.4" fill="#fff" fill-opacity="0.30"/></g><polygon points="96.8,41.2 153.6,-21.9 193.6,-52.2 324.1,-35.4 368.3,-9.3 385.1,5.5 376.7,-0.9 359.9,-0.9 334.6,3.3 300.9,11.8 267.3,18.1 225.2,24.4 187.3,30.7 132.6,37.0 94.7,43.3" fill="#fff" filter="url(#bl3)"/><polygon points="193.6,-52.2 324.1,-35.4 368.3,-9.3 385.1,5.5 402.0,26.5 420.9,39.1 444.1,46.3 469.3,45.4 490.4,41.2 513.5,23.1 555.6,26.5 639.8,33.7 662.9,66.5 679.8,91.7 690.3,121.2 688.2,188.5 681.9,230.6 667.1,264.3 631.4,333.8 536.7,330.8 503.0,346.4 469.3,367.4 423.0,396.9 397.8,403.2 334.6,401.1 284.1,417.9 254.6,439.0 216.8,462.1 187.3,487.4 130.5,491.6 115.7,514.7 92.6,529.5 90.5,356.9 80.0,272.7 67.3,171.7 64.4,142.2 80.0,70.7 96.8,41.2 153.6,-21.9" fill="none" stroke="#2a2a2a" stroke-width="2" stroke-linejoin="round"/><polygon points="365.9,481.2 400.6,478.6 459.2,481.2 478.7,497.2 522.1,534.1 578.4,566.6 630.5,588.3 665.2,588.3 695.5,605.6 719.4,620.8 725.9,642.5 738.9,659.8 741.1,716.2 734.6,737.9 721.6,768.2 695.5,802.9 682.5,816.0 643.5,826.8 587.1,833.3 548.1,842.0 496.0,859.3 452.7,874.5 418.0,875.8 400.6,870.2 383.3,861.5 331.3,868.9 279.2,876.7 253.2,833.3 227.2,781.3 192.5,742.2 170.8,716.2 136.1,681.5 118.8,659.8 107.9,629.5 127.4,607.8 162.1,581.8 201.2,555.7 235.8,538.4 287.9,516.7 335.6,499.4" fill="none" stroke="#2a2a2a" stroke-width="2" stroke-linejoin="round"/></g><path d="M160.7 3275.8v21M254.3 3275.8v21M347.9 3275.8v21M441.5 3275.8v21M535.1 3275.8v21M628.7 3275.8v21M722.3 3275.8v21M815.9 3275.8v21M909.5 3275.8v21M1003.1 3275.8v21M125.8 2362.5h-21M125.8 2484.1h-21M125.8 2605.7h-21M125.8 2727.3h-21M125.8 2848.9h-21M125.8 2970.5h-21M125.8 3092.1h-21M125.8 3213.7h-21" stroke="#444" stroke-width="3" fill="none"/><rect x="125.8" y="2275.6" width="951.2" height="1000.2" fill="none" stroke="#000" stroke-width="5"/><text x="160.7" y="3336.8" text-anchor="middle" class="ax">116°24'0&quot;E</text><text x="441.5" y="3336.8" text-anchor="middle" class="ax">116°28'30&quot;E</text><text x="722.3" y="3336.8" text-anchor="middle" class="ax">116°33'0&quot;E</text><text x="1003.1" y="3336.8" text-anchor="middle" class="ax">116°37'30&quot;E</text><text transform="translate(90.3,2362.5) rotate(-90)" text-anchor="middle" class="ay">40°3'0&quot;N</text><text transform="translate(90.3,2605.7) rotate(-90)" text-anchor="middle" class="ay">40°0'0&quot;N</text><text transform="translate(90.3,2848.9) rotate(-90)" text-anchor="middle" class="ay">39°57'0&quot;N</text><text transform="translate(90.3,3092.1) rotate(-90)" text-anchor="middle" class="ay">39°54'0&quot;N</text><text x="179.6" y="2365.7" class="let">e</text><text x="925.8" y="3230.0" class="yr">2015</text></g><text x="1265" y="2361" class="lt">Annual&#160; deformation (mm)</text><circle cx="1352.3" cy="2445.0" r="11" fill="#ff0000"/><text x="1457.0" y="2462.5" class="lv">-140 - -100</text><circle cx="1352.3" cy="2544.3" r="11" fill="#ff8c00"/><text x="1461.0" y="2567.5" class="lv">-100 - -80</text><circle cx="1352.3" cy="2643.4" r="11" fill="#ffff00"/><text x="1463.8" y="2662.0" class="lv">-80 - -60</text><circle cx="1352.3" cy="2744.0" r="11" fill="#8cf08c"/><text x="1464.8" y="2764.5" class="lv">-60 - -40</text><circle cx="1352.3" cy="2843.4" r="11" fill="#00ffff"/><text x="1464.8" y="2866.0" class="lv">-40 - -20</text><circle cx="1352.3" cy="2942.4" r="11" fill="#1e7fff"/><text x="1468.5" y="2968.0" class="lv">-20 - 0</text><circle cx="1352.3" cy="3041.7" r="11" fill="#0000e6"/><text x="1474.7" y="3068.0" class="lv">0 - 20</text><path d="M1938.5 2812 L1971 2912 L1939.5 2896" fill="none" stroke="#000" stroke-width="6" stroke-linejoin="miter"/><path d="M1938 2811 V3062" stroke="#000" stroke-width="6"/><text x="1907" y="3042" class="na">N</text><g stroke="#111" stroke-width="3" fill="none"><rect x="1269.2" y="3225.9" width="699.7" height="51.4"/><path d="M1313.0 3225.9V3277.3M1356.5 3225.9V3277.3M1400.5 3225.9V3277.3M1444.3 3225.9V3277.3M1619.2 3225.9V3277.3M1794.3 3225.9V3277.3"/><path d="M1269.2 3251.8H1313.0M1356.5 3251.8H1400.5M1444.3 3251.8H1619.2M1794.3 3251.8H1968.9"/></g><text x="1269.0" y="3200" text-anchor="middle" class="sb">0</text><text x="1356.6" y="3200" text-anchor="middle" class="sb">2</text><text x="1443.5" y="3200" text-anchor="middle" class="sb">4</text><text x="1619.0" y="3200" text-anchor="middle" class="sb">8</text><text x="1795.7" y="3200" text-anchor="middle" class="sb">12</text><text x="1971.0" y="3200" text-anchor="middle" class="sb">16</text><text x="1983" y="3278" class="sb">Kilometers</text></svg></body></html>
